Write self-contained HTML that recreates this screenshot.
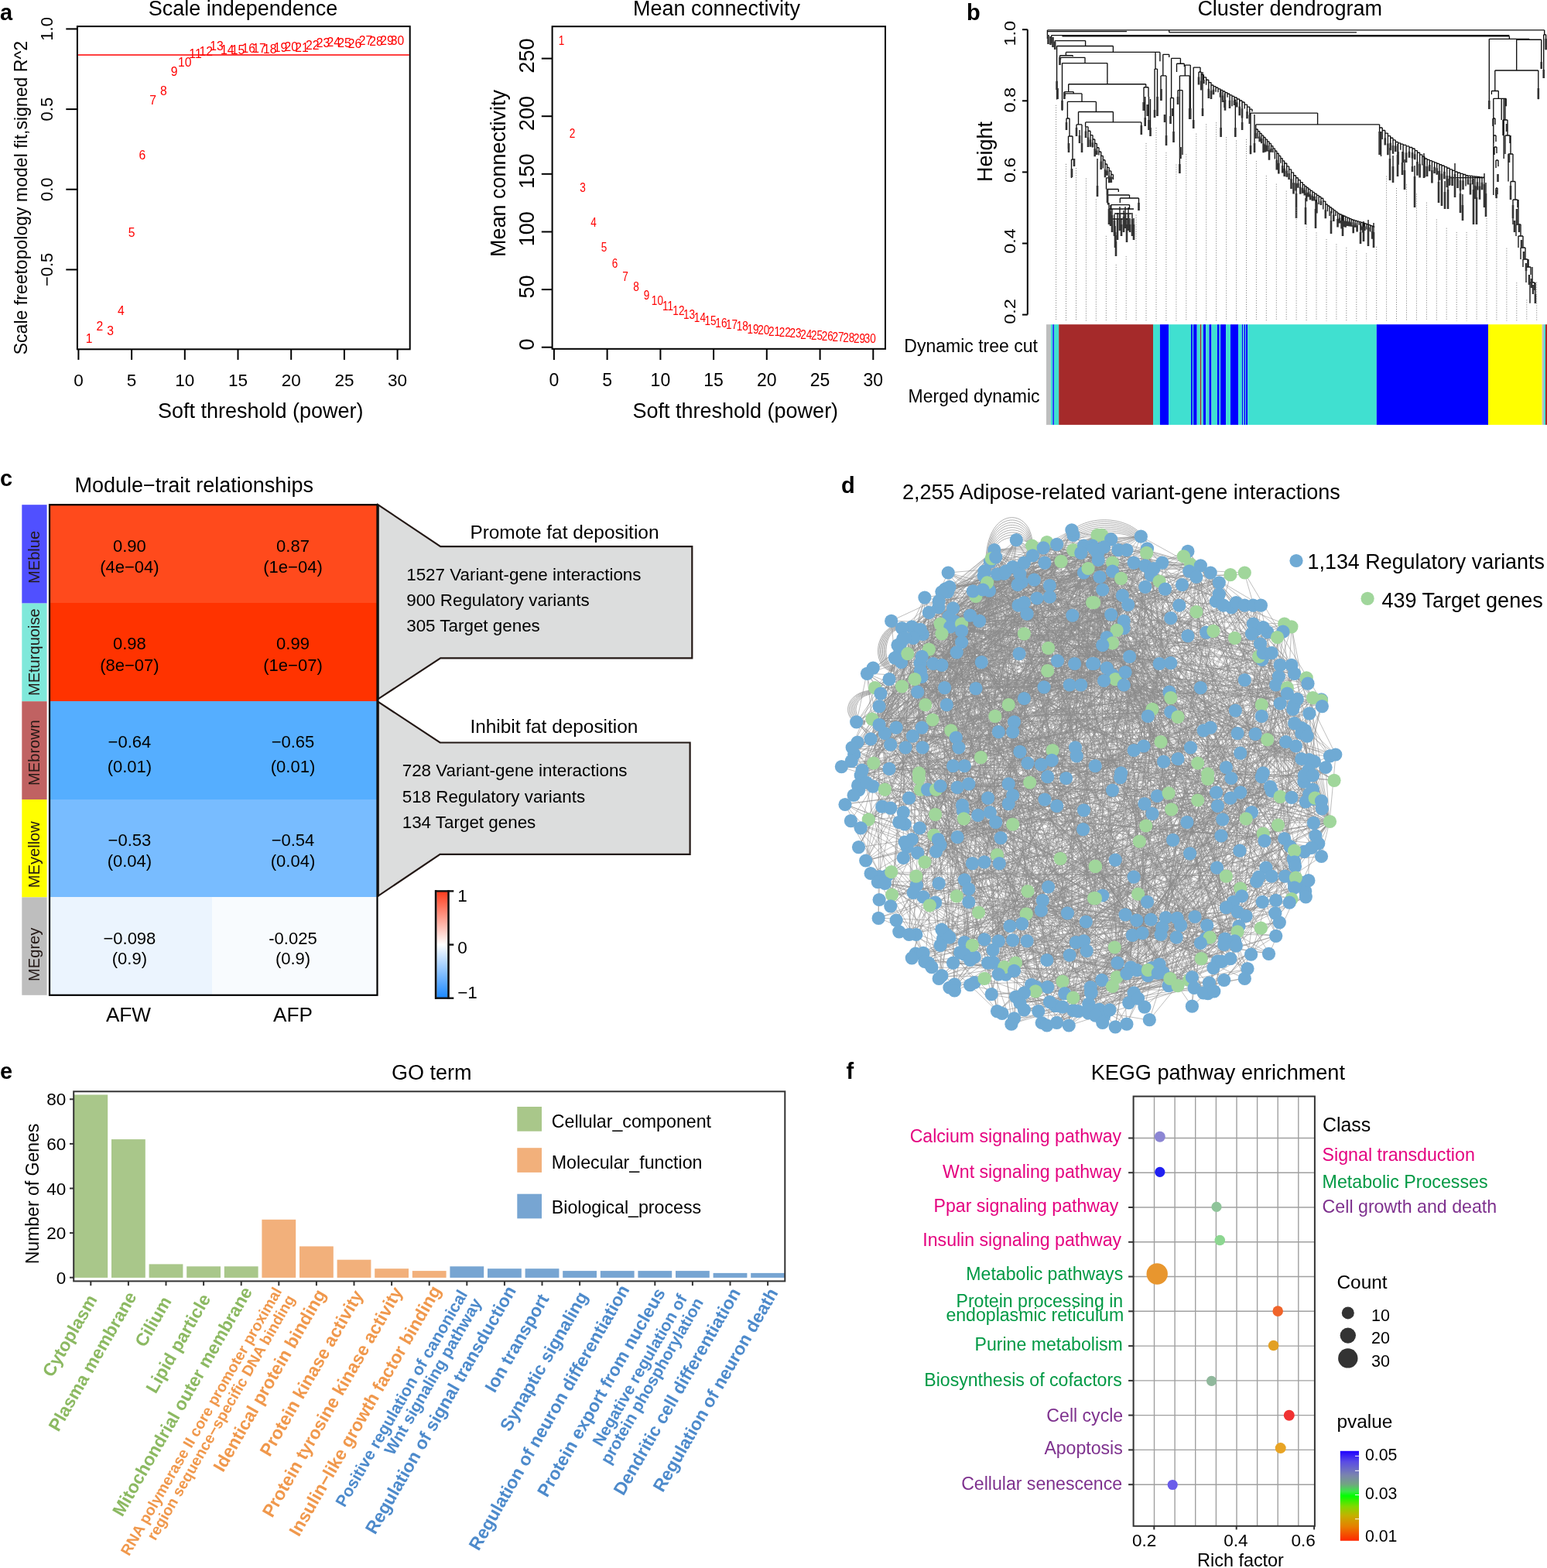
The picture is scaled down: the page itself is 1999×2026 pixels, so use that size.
<!DOCTYPE html>
<html><head><meta charset="utf-8"><title>Figure</title>
<style>html,body{margin:0;padding:0;background:#fff;}svg{display:block;}text{font-family:"Liberation Sans", Arial, sans-serif;}</style>
</head><body>
<svg xmlns="http://www.w3.org/2000/svg" width="1999" height="2026" viewBox="0 0 1999 2026">
<rect width="1999" height="2026" fill="#fff"/>
<text x="0.0" y="26.0" font-size="29" font-weight="bold">a</text>
<text x="314.0" y="20.0" font-size="27" text-anchor="middle">Scale independence</text>
<rect x="99.9" y="34.1" width="429.8" height="417.2" fill="none" stroke="#000" stroke-width="2"/>
<line x1="85.3" y1="37.4" x2="99.9" y2="37.4" stroke="#000" stroke-width="2"/>
<text transform="translate(68.3,37.4) rotate(-90)" font-size="22" text-anchor="middle">1.0</text>
<line x1="85.3" y1="141.1" x2="99.9" y2="141.1" stroke="#000" stroke-width="2"/>
<text transform="translate(68.3,141.1) rotate(-90)" font-size="22" text-anchor="middle">0.5</text>
<line x1="85.3" y1="244.7" x2="99.9" y2="244.7" stroke="#000" stroke-width="2"/>
<text transform="translate(68.3,244.7) rotate(-90)" font-size="22" text-anchor="middle">0.0</text>
<line x1="85.3" y1="348.4" x2="99.9" y2="348.4" stroke="#000" stroke-width="2"/>
<text transform="translate(68.3,348.4) rotate(-90)" font-size="22" text-anchor="middle">−0.5</text>
<line x1="101.4" y1="451.3" x2="101.4" y2="464.9" stroke="#000" stroke-width="2"/>
<text x="101.4" y="498.5" font-size="22.5" text-anchor="middle">0</text>
<line x1="170.1" y1="451.3" x2="170.1" y2="464.9" stroke="#000" stroke-width="2"/>
<text x="170.1" y="498.5" font-size="22.5" text-anchor="middle">5</text>
<line x1="238.8" y1="451.3" x2="238.8" y2="464.9" stroke="#000" stroke-width="2"/>
<text x="238.8" y="498.5" font-size="22.5" text-anchor="middle">10</text>
<line x1="307.5" y1="451.3" x2="307.5" y2="464.9" stroke="#000" stroke-width="2"/>
<text x="307.5" y="498.5" font-size="22.5" text-anchor="middle">15</text>
<line x1="376.2" y1="451.3" x2="376.2" y2="464.9" stroke="#000" stroke-width="2"/>
<text x="376.2" y="498.5" font-size="22.5" text-anchor="middle">20</text>
<line x1="444.9" y1="451.3" x2="444.9" y2="464.9" stroke="#000" stroke-width="2"/>
<text x="444.9" y="498.5" font-size="22.5" text-anchor="middle">25</text>
<line x1="513.6" y1="451.3" x2="513.6" y2="464.9" stroke="#000" stroke-width="2"/>
<text x="513.6" y="498.5" font-size="22.5" text-anchor="middle">30</text>
<text x="336.7" y="539.5" font-size="27" text-anchor="middle">Soft threshold (power)</text>
<text transform="translate(34.5,255.6) rotate(-90)" font-size="23.05" text-anchor="middle">Scale freetopology model fit,signed R^2</text>
<line x1="100.9" y1="71.1" x2="528.8" y2="71.1" stroke="#ff0000" stroke-width="1.5"/>
<text x="115.1" y="443.3" font-size="15.7" text-anchor="middle" fill="#ff0000">1</text>
<text x="128.9" y="426.6" font-size="15.7" text-anchor="middle" fill="#ff0000">2</text>
<text x="142.6" y="432.5" font-size="15.7" text-anchor="middle" fill="#ff0000">3</text>
<text x="156.4" y="407.2" font-size="15.7" text-anchor="middle" fill="#ff0000">4</text>
<text x="170.1" y="306.1" font-size="15.7" text-anchor="middle" fill="#ff0000">5</text>
<text x="183.8" y="206.2" font-size="15.7" text-anchor="middle" fill="#ff0000">6</text>
<text x="197.6" y="134.9" font-size="15.7" text-anchor="middle" fill="#ff0000">7</text>
<text x="211.3" y="122.5" font-size="15.7" text-anchor="middle" fill="#ff0000">8</text>
<text x="225.1" y="98.1" font-size="15.7" text-anchor="middle" fill="#ff0000">9</text>
<text x="238.8" y="86.4" font-size="15.7" text-anchor="middle" fill="#ff0000">10</text>
<text x="252.5" y="74.6" font-size="15.7" text-anchor="middle" fill="#ff0000">11</text>
<text x="266.3" y="72.3" font-size="15.7" text-anchor="middle" fill="#ff0000">12</text>
<text x="280.0" y="65.2" font-size="15.7" text-anchor="middle" fill="#ff0000">13</text>
<text x="293.8" y="70.2" font-size="15.7" text-anchor="middle" fill="#ff0000">14</text>
<text x="307.5" y="70.2" font-size="15.7" text-anchor="middle" fill="#ff0000">15</text>
<text x="321.2" y="68.2" font-size="15.7" text-anchor="middle" fill="#ff0000">16</text>
<text x="335.0" y="68.2" font-size="15.7" text-anchor="middle" fill="#ff0000">17</text>
<text x="348.7" y="68.8" font-size="15.7" text-anchor="middle" fill="#ff0000">18</text>
<text x="362.5" y="66.7" font-size="15.7" text-anchor="middle" fill="#ff0000">19</text>
<text x="376.2" y="65.8" font-size="15.7" text-anchor="middle" fill="#ff0000">20</text>
<text x="389.9" y="67.3" font-size="15.7" text-anchor="middle" fill="#ff0000">21</text>
<text x="403.7" y="63.8" font-size="15.7" text-anchor="middle" fill="#ff0000">22</text>
<text x="417.4" y="61.4" font-size="15.7" text-anchor="middle" fill="#ff0000">23</text>
<text x="431.2" y="59.9" font-size="15.7" text-anchor="middle" fill="#ff0000">24</text>
<text x="444.9" y="61.4" font-size="15.7" text-anchor="middle" fill="#ff0000">25</text>
<text x="458.6" y="62.3" font-size="15.7" text-anchor="middle" fill="#ff0000">26</text>
<text x="472.4" y="57.9" font-size="15.7" text-anchor="middle" fill="#ff0000">27</text>
<text x="486.1" y="59.4" font-size="15.7" text-anchor="middle" fill="#ff0000">28</text>
<text x="499.9" y="57.9" font-size="15.7" text-anchor="middle" fill="#ff0000">29</text>
<text x="513.6" y="57.9" font-size="15.7" text-anchor="middle" fill="#ff0000">30</text>
<text x="926.0" y="20.0" font-size="27" text-anchor="middle">Mean connectivity</text>
<rect x="713.6" y="34.2" width="430.4" height="416.6" fill="none" stroke="#000" stroke-width="2"/>
<line x1="699.8" y1="448.7" x2="713.6" y2="448.7" stroke="#000" stroke-width="2"/>
<text transform="translate(690.3,445.0) rotate(-90)" font-size="27" text-anchor="middle">0</text>
<line x1="699.8" y1="374.1" x2="713.6" y2="374.1" stroke="#000" stroke-width="2"/>
<text transform="translate(690.3,370.4) rotate(-90)" font-size="27" text-anchor="middle">50</text>
<line x1="699.8" y1="299.5" x2="713.6" y2="299.5" stroke="#000" stroke-width="2"/>
<text transform="translate(690.3,295.8) rotate(-90)" font-size="27" text-anchor="middle">100</text>
<line x1="699.8" y1="224.8" x2="713.6" y2="224.8" stroke="#000" stroke-width="2"/>
<text transform="translate(690.3,221.1) rotate(-90)" font-size="27" text-anchor="middle">150</text>
<line x1="699.8" y1="150.2" x2="713.6" y2="150.2" stroke="#000" stroke-width="2"/>
<text transform="translate(690.3,146.5) rotate(-90)" font-size="27" text-anchor="middle">200</text>
<line x1="699.8" y1="75.6" x2="713.6" y2="75.6" stroke="#000" stroke-width="2"/>
<text transform="translate(690.3,71.9) rotate(-90)" font-size="27" text-anchor="middle">250</text>
<line x1="715.9" y1="450.9" x2="715.9" y2="465.0" stroke="#000" stroke-width="2"/>
<text x="715.9" y="498.8" font-size="23" text-anchor="middle">0</text>
<line x1="784.6" y1="450.9" x2="784.6" y2="465.0" stroke="#000" stroke-width="2"/>
<text x="784.6" y="498.8" font-size="23" text-anchor="middle">5</text>
<line x1="853.4" y1="450.9" x2="853.4" y2="465.0" stroke="#000" stroke-width="2"/>
<text x="853.4" y="498.8" font-size="23" text-anchor="middle">10</text>
<line x1="922.1" y1="450.9" x2="922.1" y2="465.0" stroke="#000" stroke-width="2"/>
<text x="922.1" y="498.8" font-size="23" text-anchor="middle">15</text>
<line x1="990.8" y1="450.9" x2="990.8" y2="465.0" stroke="#000" stroke-width="2"/>
<text x="990.8" y="498.8" font-size="23" text-anchor="middle">20</text>
<line x1="1059.6" y1="450.9" x2="1059.6" y2="465.0" stroke="#000" stroke-width="2"/>
<text x="1059.6" y="498.8" font-size="23" text-anchor="middle">25</text>
<line x1="1128.3" y1="450.9" x2="1128.3" y2="465.0" stroke="#000" stroke-width="2"/>
<text x="1128.3" y="498.8" font-size="23" text-anchor="middle">30</text>
<text x="950.3" y="540.0" font-size="27" text-anchor="middle">Soft threshold (power)</text>
<text transform="translate(653.0,224.0) rotate(-90)" font-size="27" text-anchor="middle">Mean connectivity</text>
<text transform="translate(725.6,57.5) scale(0.86,1)" font-size="15.8" text-anchor="middle" fill="#ff0000">1</text>
<text transform="translate(739.4,178.1) scale(0.86,1)" font-size="15.8" text-anchor="middle" fill="#ff0000">2</text>
<text transform="translate(753.1,248.0) scale(0.86,1)" font-size="15.8" text-anchor="middle" fill="#ff0000">3</text>
<text transform="translate(766.9,293.0) scale(0.86,1)" font-size="15.8" text-anchor="middle" fill="#ff0000">4</text>
<text transform="translate(780.6,324.5) scale(0.86,1)" font-size="15.8" text-anchor="middle" fill="#ff0000">5</text>
<text transform="translate(794.4,346.2) scale(0.86,1)" font-size="15.8" text-anchor="middle" fill="#ff0000">6</text>
<text transform="translate(808.1,362.9) scale(0.86,1)" font-size="15.8" text-anchor="middle" fill="#ff0000">7</text>
<text transform="translate(821.9,376.4) scale(0.86,1)" font-size="15.8" text-anchor="middle" fill="#ff0000">8</text>
<text transform="translate(835.6,386.5) scale(0.86,1)" font-size="15.8" text-anchor="middle" fill="#ff0000">9</text>
<text transform="translate(849.4,394.4) scale(0.86,1)" font-size="15.8" text-anchor="middle" fill="#ff0000">10</text>
<text transform="translate(863.1,400.7) scale(0.86,1)" font-size="15.8" text-anchor="middle" fill="#ff0000">11</text>
<text transform="translate(876.9,407.0) scale(0.86,1)" font-size="15.8" text-anchor="middle" fill="#ff0000">12</text>
<text transform="translate(890.6,412.3) scale(0.86,1)" font-size="15.8" text-anchor="middle" fill="#ff0000">13</text>
<text transform="translate(904.4,416.4) scale(0.86,1)" font-size="15.8" text-anchor="middle" fill="#ff0000">14</text>
<text transform="translate(918.1,419.6) scale(0.86,1)" font-size="15.8" text-anchor="middle" fill="#ff0000">15</text>
<text transform="translate(931.9,422.7) scale(0.86,1)" font-size="15.8" text-anchor="middle" fill="#ff0000">16</text>
<text transform="translate(945.6,425.2) scale(0.86,1)" font-size="15.8" text-anchor="middle" fill="#ff0000">17</text>
<text transform="translate(959.3,427.4) scale(0.86,1)" font-size="15.8" text-anchor="middle" fill="#ff0000">18</text>
<text transform="translate(973.1,430.6) scale(0.86,1)" font-size="15.8" text-anchor="middle" fill="#ff0000">19</text>
<text transform="translate(986.8,432.1) scale(0.86,1)" font-size="15.8" text-anchor="middle" fill="#ff0000">20</text>
<text transform="translate(1000.6,433.7) scale(0.86,1)" font-size="15.8" text-anchor="middle" fill="#ff0000">21</text>
<text transform="translate(1014.3,434.7) scale(0.86,1)" font-size="15.8" text-anchor="middle" fill="#ff0000">22</text>
<text transform="translate(1028.1,436.2) scale(0.86,1)" font-size="15.8" text-anchor="middle" fill="#ff0000">23</text>
<text transform="translate(1041.8,437.8) scale(0.86,1)" font-size="15.8" text-anchor="middle" fill="#ff0000">24</text>
<text transform="translate(1055.6,438.8) scale(0.86,1)" font-size="15.8" text-anchor="middle" fill="#ff0000">25</text>
<text transform="translate(1069.3,440.0) scale(0.86,1)" font-size="15.8" text-anchor="middle" fill="#ff0000">26</text>
<text transform="translate(1083.1,441.0) scale(0.86,1)" font-size="15.8" text-anchor="middle" fill="#ff0000">27</text>
<text transform="translate(1096.8,441.6) scale(0.86,1)" font-size="15.8" text-anchor="middle" fill="#ff0000">28</text>
<text transform="translate(1110.6,442.5) scale(0.86,1)" font-size="15.8" text-anchor="middle" fill="#ff0000">29</text>
<text transform="translate(1124.3,443.2) scale(0.86,1)" font-size="15.8" text-anchor="middle" fill="#ff0000">30</text>
<text x="1249.0" y="26.0" font-size="29" font-weight="bold">b</text>
<text x="1666.7" y="20.0" font-size="27" text-anchor="middle">Cluster dendrogram</text>
<line x1="1327.8" y1="38.2" x2="1327.8" y2="406.6" stroke="#000" stroke-width="2"/>
<line x1="1321.0" y1="38.2" x2="1327.8" y2="38.2" stroke="#000" stroke-width="2"/>
<text transform="translate(1312.1,43.3) rotate(-90) scale(1,0.87)" font-size="23.5" text-anchor="middle">1.0</text>
<line x1="1321.0" y1="130.3" x2="1327.8" y2="130.3" stroke="#000" stroke-width="2"/>
<text transform="translate(1312.1,129.2) rotate(-90) scale(1,0.87)" font-size="23.5" text-anchor="middle">0.8</text>
<line x1="1321.0" y1="222.4" x2="1327.8" y2="222.4" stroke="#000" stroke-width="2"/>
<text transform="translate(1312.1,219.8) rotate(-90) scale(1,0.87)" font-size="23.5" text-anchor="middle">0.6</text>
<line x1="1321.0" y1="314.5" x2="1327.8" y2="314.5" stroke="#000" stroke-width="2"/>
<text transform="translate(1312.1,311.4) rotate(-90) scale(1,0.87)" font-size="23.5" text-anchor="middle">0.4</text>
<line x1="1321.0" y1="406.6" x2="1327.8" y2="406.6" stroke="#000" stroke-width="2"/>
<text transform="translate(1312.1,402.5) rotate(-90) scale(1,0.87)" font-size="23.5" text-anchor="middle">0.2</text>
<text transform="translate(1282.3,196.0) rotate(-90)" font-size="27" text-anchor="middle">Height</text>
<text x="1340.9" y="454.9" font-size="23" text-anchor="end">Dynamic tree cut</text>
<text x="1343.6" y="519.6" font-size="23" text-anchor="end">Merged dynamic</text>
<rect x="1352.0" y="419.2" width="5.7" height="129.7" fill="#BEBEBE"/>
<rect x="1357.7" y="419.2" width="2.7" height="129.7" fill="#40E0D0"/>
<rect x="1360.4" y="419.2" width="1.5" height="129.7" fill="#0000FF"/>
<rect x="1361.9" y="419.2" width="6.3" height="129.7" fill="#40E0D0"/>
<rect x="1368.2" y="419.2" width="121.8" height="129.7" fill="#A52A2A"/>
<rect x="1490.0" y="419.2" width="8.9" height="129.7" fill="#40E0D0"/>
<rect x="1498.9" y="419.2" width="11.2" height="129.7" fill="#0000FF"/>
<rect x="1510.1" y="419.2" width="28.9" height="129.7" fill="#40E0D0"/>
<rect x="1539.0" y="419.2" width="1.9" height="129.7" fill="#0000FF"/>
<rect x="1540.9" y="419.2" width="1.2" height="129.7" fill="#40E0D0"/>
<rect x="1542.1" y="419.2" width="4.6" height="129.7" fill="#0000FF"/>
<rect x="1546.7" y="419.2" width="4.2" height="129.7" fill="#40E0D0"/>
<rect x="1550.9" y="419.2" width="1.5" height="129.7" fill="#A52A2A"/>
<rect x="1552.4" y="419.2" width="2.5" height="129.7" fill="#40E0D0"/>
<rect x="1554.9" y="419.2" width="3.3" height="129.7" fill="#0000FF"/>
<rect x="1558.2" y="419.2" width="4.3" height="129.7" fill="#40E0D0"/>
<rect x="1562.5" y="419.2" width="3.0" height="129.7" fill="#0000FF"/>
<rect x="1565.5" y="419.2" width="7.4" height="129.7" fill="#40E0D0"/>
<rect x="1572.9" y="419.2" width="2.8" height="129.7" fill="#0000FF"/>
<rect x="1575.7" y="419.2" width="1.4" height="129.7" fill="#40E0D0"/>
<rect x="1577.1" y="419.2" width="7.0" height="129.7" fill="#0000FF"/>
<rect x="1584.1" y="419.2" width="5.9" height="129.7" fill="#40E0D0"/>
<rect x="1590.0" y="419.2" width="10.1" height="129.7" fill="#0000FF"/>
<rect x="1600.1" y="419.2" width="4.8" height="129.7" fill="#40E0D0"/>
<rect x="1604.9" y="419.2" width="1.3" height="129.7" fill="#0000FF"/>
<rect x="1606.2" y="419.2" width="1.3" height="129.7" fill="#40E0D0"/>
<rect x="1607.5" y="419.2" width="1.6" height="129.7" fill="#0000FF"/>
<rect x="1609.1" y="419.2" width="1.0" height="129.7" fill="#40E0D0"/>
<rect x="1610.1" y="419.2" width="2.1" height="129.7" fill="#0000FF"/>
<rect x="1612.2" y="419.2" width="166.6" height="129.7" fill="#40E0D0"/>
<rect x="1778.8" y="419.2" width="144.2" height="129.7" fill="#0000FF"/>
<rect x="1923.0" y="419.2" width="69.6" height="129.7" fill="#FFFF00"/>
<rect x="1992.6" y="419.2" width="2.5" height="129.7" fill="#BEBEBE"/>
<rect x="1995.1" y="419.2" width="1.9" height="129.7" fill="#40E0D0"/>
<rect x="1997.0" y="419.2" width="2.5" height="129.7" fill="#A52A2A"/>
<path d="M1353.4 38.9H1995.7M1353.4 40.6H1456.0M1510.7 41.8H1753.0M1510.7 38.9V41.8M1358.7 45.6H1950.4M1372.5 46.8H1950.4M1353.4 38.9V50.0M1358.7 45.6V56.0M1950.4 46.8V50.3M1363.2 52.6H1402.6M1363.2 52.6V62.0M1402.6 52.6V59.5M1365.6 59.5H1438.4M1365.6 59.5V128.4M1438.4 59.5V67.4M1377.4 67.4H1498.9M1377.4 67.4V71.7M1369.5 71.7H1386.3M1369.5 71.7V84.0M1386.3 71.7V73.0M1370.5 74.3H1402.0M1370.5 74.3V77.0M1402.0 74.3V81.6M1372.5 81.6H1430.9M1372.5 81.6V143.0M1430.9 81.6V108.7M1380.7 108.7H1480.7M1380.7 108.7V118.6M1480.7 108.7V112.7M1478.0 112.7H1484.0M1478.0 112.7V140.0M1484.0 112.7V125.0M1479.7 125.0V163.0M1484.5 125.0V168.0M1486.5 128.0V176.0M1375.4 118.6H1387.2M1375.4 118.6V128.0M1387.2 118.6V120.9M1376.4 120.9H1398.0M1376.4 120.9V124.0M1398.0 120.9V131.4M1379.4 131.4H1416.4M1379.4 131.4V153.0M1416.4 131.4V144.5M1393.5 144.5H1438.4M1393.5 144.5V160.9M1438.4 144.5V157.9M1402.6 157.9H1474.8M1402.6 157.9V163.8M1474.8 157.9V173.7M1378.0 153.0H1382.0M1378.0 153.0V168.0M1382.0 153.0V160.0M1382.0 160.0V176.0M1380.5 176.0H1386.0M1380.5 176.0V192.0M1386.0 176.0V182.0M1386.0 182.0V206.0M1384.5 206.0H1388.0M1384.5 206.0V230.0M1388.0 206.0V215.0M1391.0 160.9H1398.0M1391.0 160.9V176.0M1398.0 160.9V168.0M1395.0 168.0V185.0M1398.0 168.0V197.0M1403.0 163.8H1406.0M1406.0 163.8V169.2M1403.0 163.8V171.0M1406.0 169.2H1409.0M1409.0 169.2V174.6M1406.0 169.2V179.7M1409.0 174.6H1412.0M1412.0 174.6V180.0M1409.0 174.6V182.2M1412.0 180.0H1414.7M1414.7 180.0V185.3M1412.0 180.0V185.3M1414.7 185.3H1417.3M1417.3 185.3V190.7M1414.7 185.3V193.7M1417.3 190.7H1420.0M1420.0 190.7V196.0M1417.3 190.7V195.3M1420.0 196.0H1422.7M1422.7 196.0V201.3M1420.0 196.0V200.6M1422.7 201.3H1425.3M1425.3 201.3V206.7M1422.7 201.3V210.2M1425.3 206.7H1428.0M1428.0 206.7V212.0M1425.3 206.7V217.5M1428.0 212.0H1430.6M1430.6 212.0V216.4M1428.0 212.0V220.6M1430.6 216.4H1433.2M1433.2 216.4V220.9M1430.6 216.4V221.6M1433.2 220.9H1435.8M1435.8 220.9V225.4M1433.2 220.9V228.6M1435.8 225.4H1438.4M1438.4 225.4V229.8M1435.8 225.4V230.7M1418.0 205.0V254.0M1429.5 229.8H1438.4M1429.5 229.8V244.5M1438.4 229.8V232.0M1430.5 244.5H1445.3M1430.5 244.5V252.0M1445.3 244.5V248.0M1431.5 252.0H1459.5M1431.5 252.0V264.6M1459.5 252.0V256.0M1447.3 256.0H1471.5M1447.3 256.0V262.0M1471.5 256.0V272.0M1435.8 264.6H1459.5M1435.8 264.6V270.0M1459.5 264.6V270.0M1433.0 262.0V270.0M1435.0 265.0V273.0M1437.0 270.0V278.0M1440.0 277.0V285.0M1441.0 292.0V300.0M1442.0 304.0V312.0M1444.0 275.0V283.0M1447.0 267.0V275.0M1449.0 282.0V290.0M1452.0 272.0V280.0M1454.0 267.0V275.0M1456.0 282.0V290.0M1458.0 268.0V276.0M1460.0 282.0V290.0M1463.0 275.0V283.0M1465.0 282.0V290.0M1433.0 270.0H1465.0M1440.0 276.0H1462.0M1436.0 283.0H1458.0M1493.0 67.4V89.1M1492.0 89.1H1495.5M1492.0 89.1V152.0M1495.5 89.1V150.0M1498.9 67.4V79.2M1502.8 70.3H1510.7M1502.8 70.3V97.9M1510.7 70.3V74.0M1513.6 75.3H1525.4M1513.6 75.3V126.5M1525.4 75.3V82.2M1520.5 82.2H1530.3M1520.5 82.2V93.0M1530.3 82.2V86.0M1531.3 84.1H1538.2M1531.3 84.1V97.9M1538.2 84.1V154.0M1542.2 87.1H1551.0M1542.2 87.1V165.8M1551.0 87.1V93.0M1500.0 97.9H1507.0M1500.0 97.9V130.0M1507.0 97.9V187.5M1512.5 126.5H1516.5M1512.5 126.5V160.0M1516.5 126.5V183.5M1524.4 97.9H1537.2M1524.4 97.9V223.9M1537.2 97.9V154.0M1522.0 116.6H1528.0M1522.0 116.6V135.0M1528.0 116.6V200.0M1554.0 93.0V150.0M1549.0 93.0H1552.2M1552.2 93.0V96.4M1549.0 93.0V101.3M1552.2 96.4H1555.4M1555.4 96.4V99.8M1552.2 96.4V106.4M1555.4 99.8H1558.6M1558.6 99.8V103.2M1555.4 99.8V103.9M1558.6 103.2H1561.8M1561.8 103.2V106.6M1558.6 103.2V109.7M1561.8 106.6H1565.0M1565.0 106.6V110.0M1561.8 106.6V116.8M1565.0 110.0H1568.0M1568.0 110.0V111.6M1565.0 110.0V119.0M1568.0 111.6H1571.0M1571.0 111.6V113.2M1568.0 111.6V116.9M1571.0 113.2H1574.0M1574.0 113.2V114.8M1571.0 113.2V118.7M1574.0 114.8H1577.0M1577.0 114.8V116.4M1574.0 114.8V119.3M1577.0 116.4H1580.0M1580.0 116.4V118.0M1577.0 116.4V121.1M1580.0 118.0H1583.0M1583.0 118.0V119.6M1580.0 118.0V125.0M1583.0 119.6H1586.0M1586.0 119.6V121.2M1583.0 119.6V131.2M1586.0 121.2H1589.0M1589.0 121.2V122.8M1586.0 121.2V125.7M1589.0 122.8H1592.0M1592.0 122.8V124.4M1589.0 122.8V131.4M1592.0 124.4H1595.0M1595.0 124.4V126.0M1592.0 124.4V137.3M1595.0 126.0H1598.3M1598.3 126.0V128.0M1595.0 126.0V131.0M1598.3 128.0H1601.7M1601.7 128.0V130.0M1598.3 128.0V133.2M1601.7 130.0H1605.0M1605.0 130.0V132.0M1601.7 130.0V139.6M1605.0 132.0H1608.2M1608.2 132.0V135.1M1605.0 132.0V142.3M1608.2 135.1H1611.5M1611.5 135.1V138.1M1608.2 135.1V140.6M1611.5 138.1H1614.8M1614.8 138.1V141.1M1611.5 138.1V145.7M1614.8 141.1H1618.0M1618.0 141.1V144.2M1614.8 141.1V150.5M1577.6 116.6V176.6M1582.5 120.5V139.2M1596.3 128.4V176.6M1605.1 132.3V167.8M1616.0 146.1H1702.6M1622.8 160.9H1782.6M1702.6 146.1V160.9M1616.0 146.1V199.3M1621.0 148.0V197.3M1622.8 160.9V167.0M1622.8 167.0H1625.3M1625.3 167.0V169.6M1622.8 167.0V173.1M1625.3 169.6H1627.7M1627.7 169.6V172.3M1625.3 169.6V179.1M1627.7 172.3H1630.2M1630.2 172.3V174.9M1627.7 172.3V177.7M1630.2 174.9H1632.6M1632.6 174.9V177.5M1630.2 174.9V180.1M1632.6 177.5H1635.1M1635.1 177.5V180.1M1632.6 177.5V187.4M1635.1 180.1H1637.5M1637.5 180.1V182.8M1635.1 180.1V188.4M1637.5 182.8H1640.0M1640.0 182.8V185.4M1637.5 182.8V189.1M1640.0 185.4H1642.5M1642.5 185.4V188.6M1640.0 185.4V196.1M1642.5 188.6H1644.9M1644.9 188.6V191.8M1642.5 188.6V192.7M1644.9 191.8H1647.4M1647.4 191.8V195.0M1644.9 191.8V197.0M1647.4 195.0H1649.8M1649.8 195.0V198.2M1647.4 195.0V205.5M1649.8 198.2H1652.3M1652.3 198.2V201.4M1649.8 198.2V208.8M1652.3 201.4H1654.8M1654.8 201.4V204.6M1652.3 201.4V213.0M1654.8 204.6H1657.2M1657.2 204.6V207.8M1654.8 204.6V210.7M1657.2 207.8H1659.7M1659.7 207.8V211.0M1657.2 207.8V215.7M1659.7 211.0H1662.7M1662.7 211.0V214.9M1659.7 211.0V219.5M1662.7 214.9H1665.6M1665.6 214.9V218.8M1662.7 214.9V221.8M1665.6 218.8H1668.5M1668.5 218.8V222.8M1665.6 218.8V225.4M1668.5 222.8H1671.5M1671.5 222.8V226.7M1668.5 222.8V233.3M1671.5 226.7H1674.5M1674.5 226.7V229.7M1671.5 226.7V238.6M1674.5 229.7H1677.4M1677.4 229.7V232.6M1674.5 229.7V238.1M1677.4 232.6H1680.3M1680.3 232.6V235.6M1677.4 232.6V237.7M1680.3 235.6H1683.3M1683.3 235.6V238.6M1680.3 235.6V243.2M1683.3 238.6H1685.8M1685.8 238.6V240.6M1683.3 238.6V244.2M1685.8 240.6H1688.2M1688.2 240.6V242.5M1685.8 240.6V246.6M1688.2 242.5H1690.6M1690.6 242.5V244.4M1688.2 242.5V251.3M1690.6 244.4H1693.1M1693.1 244.4V246.4M1690.6 244.4V249.5M1693.1 246.4H1695.9M1695.9 246.4V248.4M1693.1 246.4V252.3M1695.9 248.4H1698.6M1698.6 248.4V250.3M1695.9 248.4V253.9M1698.6 250.3H1701.4M1701.4 250.3V252.3M1698.6 250.3V254.9M1701.4 252.3H1704.1M1704.1 252.3V254.2M1701.4 252.3V263.9M1704.1 254.2H1706.9M1706.9 254.2V256.2M1704.1 254.2V264.0M1706.9 256.2H1709.8M1709.8 256.2V260.1M1706.9 256.2V260.5M1709.8 260.1H1712.8M1712.8 260.1V264.0M1709.8 260.1V270.5M1712.8 264.0H1715.4M1715.4 264.0V266.0M1712.8 264.0V273.1M1715.4 266.0H1718.0M1718.0 266.0V268.0M1715.4 266.0V273.3M1718.0 268.0H1720.7M1720.7 268.0V269.9M1718.0 268.0V279.1M1720.7 269.9H1723.3M1723.3 269.9V271.9M1720.7 269.9V275.6M1723.3 271.9H1725.9M1725.9 271.9V273.9M1723.3 271.9V278.9M1725.9 273.9H1728.5M1728.5 273.9V275.9M1725.9 273.9V279.0M1728.5 275.9H1731.0M1731.0 275.9V277.0M1728.5 275.9V284.7M1731.0 277.0H1733.6M1733.6 277.0V278.1M1731.0 277.0V282.7M1733.6 278.1H1736.1M1736.1 278.1V279.2M1733.6 278.1V286.8M1736.1 279.2H1738.6M1738.6 279.2V280.4M1736.1 279.2V286.1M1738.6 280.4H1741.1M1741.1 280.4V281.5M1738.6 280.4V287.1M1741.1 281.5H1743.7M1743.7 281.5V282.6M1741.1 281.5V286.8M1743.7 282.6H1746.2M1746.2 282.6V283.7M1743.7 282.6V287.5M1746.2 283.7H1748.7M1748.7 283.7V284.4M1746.2 283.7V288.3M1748.7 284.4H1751.1M1751.1 284.4V285.2M1748.7 284.4V292.9M1751.1 285.2H1753.6M1753.6 285.2V285.9M1751.1 285.2V289.5M1753.6 285.9H1756.1M1756.1 285.9V286.6M1753.6 285.9V292.7M1756.1 286.6H1758.5M1758.5 286.6V287.4M1756.1 286.6V290.7M1758.5 287.4H1761.0M1761.0 287.4V288.1M1758.5 287.4V292.4M1761.0 288.1H1763.4M1763.4 288.1V288.9M1761.0 288.1V294.3M1763.4 288.9H1765.9M1765.9 288.9V289.6M1763.4 288.9V293.5M1765.9 289.6H1768.4M1768.4 289.6V290.6M1765.9 289.6V296.5M1768.4 290.6H1770.8M1770.8 290.6V291.6M1768.4 290.6V294.6M1770.8 291.6H1773.2M1773.2 291.6V292.5M1770.8 291.6V299.5M1773.2 292.5H1775.7M1775.7 292.5V293.5M1773.2 292.5V300.7M1675.0 238.0V250.0M1687.0 256.0V268.0M1700.0 258.0V270.0M1720.0 273.0V285.0M1735.0 278.0V290.0M1758.0 288.0V300.0M1768.0 284.0V296.0M1775.0 288.0V300.0M1762.0 286.0V298.0M1782.6 160.8V172.0M1784.5 170.0V202.0M1782.6 165.0H1786.2M1786.2 165.0V168.5M1782.6 165.0V171.1M1786.2 168.5H1789.8M1789.8 168.5V172.1M1786.2 168.5V180.1M1789.8 172.1H1793.4M1793.4 172.1V175.6M1789.8 172.1V179.8M1793.4 175.6H1796.7M1796.7 175.6V178.2M1793.4 175.6V187.9M1796.7 178.2H1800.0M1800.0 178.2V180.9M1796.7 178.2V186.3M1800.0 180.9H1803.3M1803.3 180.9V183.5M1800.0 180.9V189.8M1803.3 183.5H1806.6M1806.6 183.5V184.8M1803.3 183.5V189.7M1806.6 184.8H1809.8M1809.8 184.8V186.1M1806.6 184.8V198.8M1809.8 186.1H1813.1M1813.1 186.1V187.4M1809.8 186.1V193.7M1813.1 187.4H1817.1M1817.1 187.4V188.9M1813.1 187.4V198.7M1817.1 188.9H1821.0M1821.0 188.9V190.5M1817.1 188.9V199.4M1821.0 190.5H1825.0M1825.0 190.5V192.0M1821.0 190.5V197.1M1825.0 192.0H1828.2M1828.2 192.0V194.6M1825.0 192.0V198.2M1828.2 194.6H1831.4M1831.4 194.6V197.2M1828.2 194.6V200.4M1831.4 197.2H1834.6M1834.6 197.2V199.8M1831.4 197.2V212.0M1834.6 199.8H1837.8M1837.8 199.8V202.4M1834.6 199.8V214.7M1837.8 202.4H1841.0M1841.0 202.4V205.0M1837.8 202.4V213.5M1841.0 205.0H1844.1M1844.1 205.0V206.3M1841.0 205.0V216.9M1844.1 206.3H1847.3M1847.3 206.3V207.6M1844.1 206.3V217.2M1847.3 207.6H1850.4M1850.4 207.6V208.9M1847.3 207.6V214.4M1850.4 208.9H1853.6M1853.6 208.9V210.1M1850.4 208.9V222.6M1853.6 210.1H1856.7M1856.7 210.1V211.4M1853.6 210.1V217.1M1856.7 211.4H1859.9M1859.9 211.4V212.7M1856.7 211.4V218.6M1859.9 212.7H1863.0M1863.0 212.7V214.0M1859.9 212.7V222.7M1863.0 214.0H1866.4M1866.4 214.0V215.6M1863.0 214.0V227.2M1866.4 215.6H1869.8M1869.8 215.6V217.2M1866.4 215.6V223.4M1869.8 217.2H1873.2M1873.2 217.2V218.8M1869.8 217.2V229.6M1873.2 218.8H1876.6M1876.6 218.8V220.4M1873.2 218.8V229.1M1876.6 220.4H1880.0M1880.0 220.4V222.0M1876.6 220.4V230.2M1880.0 222.0H1883.5M1883.5 222.0V223.2M1880.0 222.0V232.3M1883.5 223.2H1887.0M1887.0 223.2V224.3M1883.5 223.2V233.0M1887.0 224.3H1890.5M1890.5 224.3V225.5M1887.0 224.3V235.3M1890.5 225.5H1894.0M1894.0 225.5V226.7M1890.5 225.5V235.3M1894.0 226.7H1897.0M1897.0 226.7V227.1M1894.0 226.7V240.4M1897.0 227.1H1900.0M1900.0 227.1V227.4M1897.0 227.1V232.7M1900.0 227.4H1903.0M1903.0 227.4V227.8M1900.0 227.4V239.5M1903.0 227.8H1906.0M1906.0 227.8V228.1M1903.0 227.8V233.0M1906.0 228.1H1909.0M1909.0 228.1V228.5M1906.0 228.1V242.6M1909.0 228.5H1912.0M1912.0 228.5V228.9M1909.0 228.5V237.0M1912.0 228.9H1915.0M1915.0 228.9V229.2M1912.0 228.9V243.3M1915.0 229.2H1918.0M1918.0 229.2V229.6M1915.0 229.2V237.3M1796.0 191.0V205.0M1800.0 201.0V215.0M1806.0 186.0V200.0M1812.0 196.0V210.0M1825.0 201.0V215.0M1840.0 198.0V212.0M1859.0 221.0V235.0M1863.0 226.0V240.0M1867.0 234.0V248.0M1871.0 231.0V245.0M1880.0 211.0V225.0M1887.0 236.0V250.0M1890.0 251.0V265.0M1904.0 231.0V245.0M1908.0 241.0V255.0M1918.0 224.0V238.0M1920.0 236.0V250.0M1815.0 206.0V220.0M1828.0 214.0V228.0M1872.8 229.6H1918.0M1872.8 229.6V240.0M1918.0 229.6V236.0M1924.3 50.3H1976.0M1924.3 50.3V140.1M1976.0 50.3V51.2M1959.3 51.2H1991.7M1959.7 51.2V91.0M1931.8 91.0H1987.8M1931.8 91.0V117.5M1987.8 91.0V128.3M1991.7 51.2V89.0M1995.7 38.9V44.7M1994.7 44.7H1997.6M1994.7 44.7V100.8M1997.6 44.7V64.4M1927.4 117.5H1936.3M1927.4 117.5V122.0M1936.3 117.5V127.3M1929.8 127.3H1943.2M1929.8 127.3V252.0M1943.2 127.3V205.0M1929.0 153.0H1932.0M1929.0 153.0V163.0M1932.0 153.0V161.0M1930.0 175.0H1933.0M1930.0 175.0V185.0M1933.0 175.0V183.0M1931.0 190.0H1934.0M1931.0 190.0V200.0M1934.0 190.0V198.0M1933.0 207.0H1936.0M1933.0 207.0V217.0M1936.0 207.0V215.0M1933.0 243.0H1935.0M1933.0 243.0V253.0M1935.0 243.0V251.0M1940.2 127.3H1946.2M1940.2 127.3V155.0M1946.2 127.3V137.3M1945.0 127.3V155.0M1942.0 155.0H1948.0M1942.0 155.0V175.0M1948.0 155.0V165.0M1948.0 155.0V175.0M1945.0 175.0H1951.0M1945.0 175.0V199.0M1951.0 175.0V185.0M1952.0 175.0V199.0M1949.0 199.0H1955.0M1949.0 199.0V234.5M1955.0 199.0V209.0M1955.0 199.0V234.5M1952.0 234.5H1958.0M1952.0 234.5V258.0M1958.0 234.5V244.5M1958.0 234.5V258.0M1955.0 258.0H1961.0M1955.0 258.0V290.0M1961.0 258.0V268.0M1962.0 258.0V290.0M1959.0 290.0H1965.0M1959.0 290.0V305.0M1965.0 290.0V300.0M1965.0 290.0V305.0M1962.0 305.0H1968.0M1962.0 305.0V320.0M1968.0 305.0V315.0M1968.0 305.0V320.0M1965.0 320.0H1971.0M1965.0 320.0V335.0M1971.0 320.0V330.0M1971.0 320.0V335.0M1968.0 335.0H1974.0M1968.0 335.0V345.0M1974.0 335.0V345.0M1975.0 335.0V345.0M1972.0 345.0H1978.0M1972.0 345.0V365.0M1978.0 345.0V355.0M1980.0 345.0V365.0M1977.0 365.0H1983.0M1977.0 365.0V391.8M1983.0 365.0V375.0M1983.9 365.0V391.8" stroke="#111" stroke-width="1.35" fill="none"/>
<path d="M1354.5 45.0V57.0M1357.5 47.0V58.0M1360.5 48.0V61.0M1363.2 54.0V64.0M1365.6 104.8V116.0M1366.6 114.0V128.0M1369.5 74.0V84.0M1372.5 130.0V142.0M1477.7 132.0V143.0M1479.7 152.0V163.0M1482.7 135.0V150.0M1484.5 155.0V168.0M1486.5 165.0V176.0M1375.4 119.0V128.0M1474.8 162.0V174.0M1378.0 158.0V168.0M1381.0 185.0V197.0M1385.0 218.0V229.0M1388.0 205.0V215.0M1391.0 165.0V176.0M1395.0 175.0V185.0M1398.0 185.0V197.0M1403.0 169.5V178.1M1406.0 177.6V190.1M1409.0 180.6V189.7M1412.0 184.2V190.6M1414.7 192.1V202.2M1417.3 194.4V200.0M1422.7 208.4V219.0M1428.0 218.9V229.2M1430.6 220.5V226.7M1433.2 227.1V236.3M1435.8 229.6V236.0M1418.0 240.0V254.0M1431.0 245.0V262.0M1471.5 262.0V272.0M1433.0 270.0V290.0M1435.0 273.0V292.0M1437.0 278.0V300.0M1440.0 285.0V305.0M1441.0 300.0V320.0M1442.0 312.0V331.0M1444.0 283.0V310.0M1447.0 275.0V298.0M1449.0 290.0V305.0M1452.0 280.0V300.0M1454.0 275.0V295.0M1456.0 290.0V313.0M1458.0 276.0V298.0M1460.0 290.0V300.0M1463.0 283.0V305.0M1465.0 290.0V310.0M1492.0 142.0V152.0M1495.5 125.0V150.0M1538.2 140.0V154.0M1542.2 155.0V166.0M1500.5 115.0V130.0M1507.0 175.0V188.0M1505.0 148.0V158.0M1512.5 150.0V160.0M1516.5 170.0V184.0M1515.0 140.0V150.0M1524.4 212.0V224.0M1525.5 190.0V205.0M1537.2 140.0V154.0M1522.0 125.0V135.0M1554.0 140.0V150.0M1549.0 99.6V109.5M1552.2 104.4V116.4M1555.4 103.1V108.0M1561.8 114.8V127.0M1565.0 117.2V128.0M1568.0 115.8V122.2M1577.0 120.1V125.7M1580.0 123.6V132.1M1583.0 128.9V142.8M1589.0 129.7V140.0M1595.0 130.0V136.0M1598.3 132.2V138.4M1601.7 137.7V149.2M1605.0 140.2V152.5M1611.5 144.2V153.3M1614.8 148.6V159.9M1577.6 165.0V177.0M1582.5 130.0V139.0M1596.3 165.0V177.0M1605.1 158.0V168.0M1616.0 188.0V199.0M1621.0 185.0V197.0M1622.8 171.9V179.1M1627.7 176.6V183.2M1630.2 179.0V185.2M1632.6 185.4V197.3M1635.1 186.7V196.6M1637.5 187.9V195.5M1640.0 194.0V206.8M1642.5 191.9V196.8M1649.8 206.7V219.4M1652.3 210.7V224.6M1657.2 214.1V223.6M1659.7 217.8V228.0M1662.7 220.5V228.8M1665.6 224.1V231.9M1668.5 231.2V243.9M1671.5 236.2V250.5M1674.5 236.4V246.5M1677.4 236.7V242.8M1680.3 241.7V250.7M1683.3 243.1V249.8M1685.8 245.4V252.6M1688.2 249.6V260.2M1690.6 248.5V254.5M1693.1 251.1V258.2M1695.9 252.8V259.5M1698.6 254.0V259.5M1701.4 261.6V275.5M1706.9 259.7V264.9M1712.8 271.3V282.2M1723.3 277.5V285.9M1728.5 283.0V293.6M1731.0 281.6V288.4M1733.6 285.0V295.4M1736.1 284.7V293.0M1738.6 285.7V293.8M1741.1 285.7V292.1M1743.7 286.5V292.4M1746.2 287.3V292.8M1748.7 291.2V301.3M1751.1 288.6V293.8M1753.6 291.3V299.4M1758.5 291.4V297.3M1761.0 293.0V300.4M1763.4 292.6V298.1M1768.4 293.8V298.7M1773.2 299.0V308.8M1675.0 250.0V282.0M1687.0 268.0V290.0M1700.0 270.0V295.0M1720.0 285.0V302.0M1735.0 290.0V305.0M1758.0 300.0V315.0M1768.0 296.0V318.0M1775.0 300.0V320.0M1762.0 298.0V312.0M1782.6 176.0V200.0M1782.6 169.9V177.1M1789.8 178.2V187.5M1793.4 185.5V200.3M1796.7 184.7V194.3M1800.0 188.0V198.8M1803.3 188.4V195.9M1806.6 196.0V212.8M1813.1 196.5V210.0M1817.1 197.3V210.0M1821.0 195.8V203.8M1825.0 197.0V204.5M1828.2 199.3V206.3M1831.4 209.0V226.8M1834.6 211.7V229.6M1841.0 214.5V228.7M1844.1 215.0V228.1M1847.3 213.0V221.2M1850.4 219.9V236.4M1853.6 215.7V224.0M1856.7 217.2V225.8M1859.9 220.7V232.7M1863.0 224.5V240.4M1866.4 221.8V231.2M1869.8 227.1V242.0M1873.2 227.0V239.3M1876.6 228.2V240.0M1880.0 230.3V242.7M1883.5 231.1V242.9M1887.0 233.1V246.3M1890.5 233.3V245.0M1897.0 231.6V238.4M1900.0 237.1V251.5M1903.0 231.9V238.2M1906.0 239.7V257.0M1909.0 235.3V245.5M1912.0 240.4V257.7M1915.0 235.7V245.3M1796.0 205.0V233.0M1800.0 215.0V236.0M1806.0 200.0V228.0M1812.0 210.0V226.0M1825.0 215.0V222.0M1840.0 212.0V230.0M1859.0 235.0V262.0M1863.0 240.0V266.0M1867.0 248.0V270.0M1871.0 245.0V270.0M1880.0 225.0V255.0M1887.0 250.0V275.0M1890.0 265.0V285.0M1904.0 245.0V290.0M1908.0 255.0V290.0M1918.0 238.0V268.0M1920.0 250.0V280.0M1815.0 220.0V245.0M1828.0 228.0V268.0M1924.3 130.0V141.0M1987.8 114.0V128.0M1991.7 80.0V89.0M1994.7 90.0V101.0M1997.6 50.0V64.0M1935.5 225.0V235.0M1933.6 245.0V256.0M1947.0 160.0V170.0M1950.0 200.0V210.0M1952.0 240.0V258.0M1955.0 265.0V282.0M1957.0 285.0V300.0M1960.0 270.0V290.0M1963.0 290.0V300.0M1966.0 310.0V320.0M1969.0 325.0V335.0M1972.0 340.0V350.0M1976.0 355.0V368.0M1979.0 360.0V372.0M1981.0 368.0V380.0M1983.9 380.0V392.0" stroke="#333" stroke-width="2.6" fill="none"/>
<path d="M1364.6 135.8V414.5M1377.5 211.8V414.5M1390.5 217.1V414.5M1403.4 230.4V414.5M1416.3 257.5V414.5M1429.3 304.8V414.5M1442.2 341.9V414.5M1455.2 331.1V414.5M1468.1 277.6V414.5M1481.0 185.0V414.5M1494.0 165.0V414.5M1506.9 197.0V414.5M1519.9 212.5V414.5M1532.8 199.2V414.5M1545.8 172.6V414.5M1558.7 160.4V414.5M1571.6 158.2V414.5M1584.6 177.2V414.5M1597.5 181.5V414.5M1610.5 179.9V414.5M1623.4 208.0V414.5M1636.3 226.9V414.5M1649.3 237.6V414.5M1662.2 246.7V414.5M1675.1 268.2V414.5M1688.1 289.8V414.5M1701.0 300.4V414.5M1714.0 309.0V414.5M1726.9 315.4V414.5M1739.8 319.9V414.5M1752.8 323.8V414.5M1765.7 327.3V414.5M1778.7 318.8V414.5M1791.6 227.5V414.5M1804.5 243.0V414.5M1817.5 238.3V414.5M1830.4 250.4V414.5M1843.4 261.6V414.5M1856.3 283.4V414.5M1869.2 294.6V414.5M1882.2 300.0V414.5M1895.1 300.0V414.5M1908.1 297.3V414.5M1921.0 282.1V414.5M1933.9 256.3V414.5M1946.9 320.6V414.5M1959.8 365.1V414.5M1972.8 387.3V414.5M1985.7 364.5V414.5" stroke="#8a8a8a" stroke-width="1" stroke-dasharray="1.2,1.8" fill="none"/>
<text x="0.0" y="627.8" font-size="29" font-weight="bold">c</text>
<text x="250.7" y="636.0" font-size="27" text-anchor="middle">Module−trait relationships</text>
<rect x="28.3" y="652.2" width="32.3" height="127.4" fill="#5050FF"/>
<rect x="64.0" y="651.7" width="423.5" height="128.4" fill="#FF4A1C" shape-rendering="crispEdges"/>
<text transform="translate(51.3,719.9) rotate(-90)" font-size="20.1" text-anchor="middle" fill="#231815">MEblue</text>
<rect x="28.3" y="779.6" width="32.3" height="126.6" fill="#7FE8DA"/>
<rect x="64.0" y="779.1" width="423.5" height="127.6" fill="#FF3300" shape-rendering="crispEdges"/>
<text transform="translate(51.3,842.7) rotate(-90)" font-size="20.1" text-anchor="middle" fill="#231815">MEturquoise</text>
<rect x="28.3" y="906.2" width="32.3" height="126.9" fill="#C06262"/>
<rect x="64.0" y="905.7" width="423.5" height="127.9" fill="#55AEFF" shape-rendering="crispEdges"/>
<text transform="translate(51.3,972.5) rotate(-90)" font-size="20.1" text-anchor="middle" fill="#231815">MEbrown</text>
<rect x="28.3" y="1033.1" width="32.3" height="126.3" fill="#FFFF00"/>
<rect x="64.0" y="1032.6" width="423.5" height="127.3" fill="#78BCFF" shape-rendering="crispEdges"/>
<text transform="translate(51.3,1104.2) rotate(-90)" font-size="20.1" text-anchor="middle" fill="#231815">MEyellow</text>
<rect x="28.3" y="1159.4" width="32.3" height="126.4" fill="#BEBEBE"/>
<rect x="64.0" y="1158.9" width="423.5" height="127.4" fill="#EBF4FE" shape-rendering="crispEdges"/>
<rect x="274.3" y="1159.4" width="213.2" height="126.4" fill="#F8FBFE" shape-rendering="crispEdges"/>
<text transform="translate(51.3,1233.3) rotate(-90)" font-size="20.1" text-anchor="middle" fill="#231815">MEgrey</text>
<rect x="64.0" y="652.2" width="423.5" height="633.6" fill="none" stroke="#000" stroke-width="2.2"/>
<text x="167.4" y="712.5" font-size="22" text-anchor="middle">0.90</text>
<text x="167.4" y="739.5" font-size="22" text-anchor="middle">(4e−04)</text>
<text x="378.5" y="712.5" font-size="22" text-anchor="middle">0.87</text>
<text x="378.5" y="739.5" font-size="22" text-anchor="middle">(1e−04)</text>
<text x="167.4" y="838.6" font-size="22" text-anchor="middle">0.98</text>
<text x="167.4" y="866.9" font-size="22" text-anchor="middle">(8e−07)</text>
<text x="378.5" y="838.6" font-size="22" text-anchor="middle">0.99</text>
<text x="378.5" y="866.9" font-size="22" text-anchor="middle">(1e−07)</text>
<text x="167.4" y="965.9" font-size="22" text-anchor="middle">−0.64</text>
<text x="167.4" y="998.1" font-size="22" text-anchor="middle">(0.01)</text>
<text x="378.5" y="965.9" font-size="22" text-anchor="middle">−0.65</text>
<text x="378.5" y="998.1" font-size="22" text-anchor="middle">(0.01)</text>
<text x="167.4" y="1092.9" font-size="22" text-anchor="middle">−0.53</text>
<text x="167.4" y="1120.0" font-size="22" text-anchor="middle">(0.04)</text>
<text x="378.5" y="1092.9" font-size="22" text-anchor="middle">−0.54</text>
<text x="378.5" y="1120.0" font-size="22" text-anchor="middle">(0.04)</text>
<text x="167.4" y="1219.7" font-size="22" text-anchor="middle">−0.098</text>
<text x="167.4" y="1246.3" font-size="22" text-anchor="middle">(0.9)</text>
<text x="378.5" y="1219.7" font-size="22" text-anchor="middle">-0.025</text>
<text x="378.5" y="1246.3" font-size="22" text-anchor="middle">(0.9)</text>
<text x="166.0" y="1319.5" font-size="26.2" text-anchor="middle">AFW</text>
<text x="378.5" y="1319.5" font-size="26.2" text-anchor="middle">AFP</text>
<polygon points="488.4,652.1 569.2,706.1 894.3,706.1 894.3,850.4 569.2,850.4 488.4,903.3" fill="#DCDDDD" stroke="#231815" stroke-width="2.2" stroke-linejoin="miter"/>
<polygon points="488.4,906.6 568.6,959.5 891.6,959.5 891.6,1103.8 568.6,1103.8 488.4,1157.8" fill="#DCDDDD" stroke="#231815" stroke-width="2.2" stroke-linejoin="miter"/>
<line x1="488.4" y1="652.0" x2="488.4" y2="1158.5" stroke="#111" stroke-width="2.4"/>
<text x="607.4" y="695.8" font-size="24.4">Promote fat deposition</text>
<text x="525.2" y="749.5" font-size="22.4">1527 Variant-gene interactions</text>
<text x="525.2" y="782.8" font-size="22.4">900 Regulatory variants</text>
<text x="525.2" y="815.6" font-size="22.4">305 Target genes</text>
<text x="607.4" y="946.7" font-size="24.4">Inhibit fat deposition</text>
<text x="519.7" y="1003.1" font-size="22.4">728 Variant-gene interactions</text>
<text x="519.7" y="1036.6" font-size="22.4">518 Regulatory variants</text>
<text x="519.7" y="1069.7" font-size="22.4">134 Target genes</text>
<defs><linearGradient id="cbg" x1="0" y1="0" x2="0" y2="1"><stop offset="0" stop-color="#FF3A1A"/><stop offset="0.5" stop-color="#FFFFFF"/><stop offset="1" stop-color="#1A88FF"/></linearGradient></defs>
<rect x="564.3" y="1151.2" width="14.6" height="138.4" fill="url(#cbg)"/>
<line x1="563.1" y1="1150.1" x2="563.1" y2="1290.8" stroke="#111" stroke-width="2.6"/>
<line x1="579.5" y1="1150.1" x2="579.5" y2="1290.8" stroke="#111" stroke-width="2.6"/>
<line x1="579.5" y1="1151.4" x2="586.3" y2="1151.4" stroke="#111" stroke-width="2.4"/>
<line x1="579.5" y1="1220.6" x2="586.3" y2="1220.6" stroke="#111" stroke-width="2.4"/>
<line x1="579.5" y1="1289.7" x2="586.3" y2="1289.7" stroke="#111" stroke-width="2.4"/>
<line x1="562.0" y1="1151.4" x2="579.5" y2="1151.4" stroke="#111" stroke-width="2.4"/>
<line x1="562.0" y1="1289.7" x2="579.5" y2="1289.7" stroke="#111" stroke-width="2.4"/>
<text x="591.2" y="1164.8" font-size="22.5">1</text>
<text x="591.2" y="1231.9" font-size="22.5">0</text>
<text x="591.2" y="1289.9" font-size="22.5">−1</text>
<text x="1087.0" y="637.3" font-size="29" font-weight="bold">d</text>
<text x="1448.9" y="644.8" font-size="27" text-anchor="middle">2,255 Adipose-related variant-gene interactions</text>
<path d="M1246 1137L1480 758M1342 1307L1228 810M1131 889L1465 1283M1186 894L1353 1241M1165 812L1652 874M1386 795L1323 902M1610 1058L1165 856M1682 947L1290 946M1687 1036L1188 999M1708 913L1200 839M1373 1301L1243 806M1696 902L1226 797M1436 697L1245 1058M1603 1024L1438 738M1416 1312L1101 966M1215 1092L1438 831M1318 971L1632 811M1254 1241L1235 953M1191 848L1427 880M1521 1186L1555 1283M1707 1035L1291 1116M1669 1162L1441 1111M1390 1218L1112 1070M1691 995L1430 824M1682 981L1349 888M1188 1070L1496 1257M1487 1188L1326 1181M1704 1090L1244 1048M1131 889L1101 966M1444 1244L1590 1031M1575 753L1265 1179M1480 731L1425 1157M1643 1022L1225 740M1389 857L1291 1116M1379 1180L1217 1201M1521 1186L1673 1119M1149 878L1189 1020M1599 1178L1206 857M1164 832L1186 1102M1660 1084L1151 1044M1354 1275L1403 1191M1323 727L1674 1134M1246 1218L1125 955M1469 1189L1152 802M1690 883L1244 1048M1156 850L1393 1307M1338 1281L1521 1186M1397 885L1581 782M1704 1090L1311 1316M1309 1028L1445 711M1489 1051L1303 1039M1510 1025L1309 1215M1233 1272L1483 925M1480 758L1317 845M1436 794L1513 920M1522 926L1287 720M1617 1233L1425 834M1303 1013L1092 1039M1366 703L1421 745M1603 1024L1410 1283M1204 1250L1119 1112M1151 962L1568 1251M1243 830L1673 1119M1323 1283L1393 1307M1406 1305L1323 1305M1328 986L1629 1199M1289 1307L1200 839M1669 810L1182 878M1551 889L1472 1087M1564 740L1415 990M1379 1180L1243 815M1267 979L1385 685M1480 758L1459 1296M1192 966L1404 1229M1336 749L1173 845M1608 879L1311 1254M1450 769L1539 966M1403 1191L1599 1178M1129 986L1138 896M1582 1266L1666 1166M1648 1180L1195 1114M1261 890L1438 738M1267 979L1265 1179M1354 1004L1649 1163M1546 745L1579 1242M1323 727L1427 880M1522 1274L1390 1218M1425 762L1315 756M1522 1274L1162 1062M1309 946L1112 1002M1424 1266L1178 1238M1597 779L1256 1221M1708 913L1562 1270M1434 1305L1476 1206M1180 1153L1627 848M1673 935L1289 1307M1630 911L1498 857M1424 1266L1454 1182M1256 1221L1276 753M1356 757L1350 1033M1594 1165L1561 1000M1629 832L1667 1094M1305 1196L1382 1234M1397 885L1676 903M1267 979L1630 911M1603 1148L1643 844M1151 1171L1454 869M1649 1209L1135 1186M1221 889L1087 991M1376 1284L1498 857M1631 1165L1452 812M1610 1058L1236 1158M1323 902L1356 1295M1673 1147L1311 1316M1221 889L1539 729M1629 782L1143 947M1356 757L1480 758M1669 1162L1421 745M1599 1178L1217 1201M1505 761L1169 824M1300 738L1371 725M1318 971L1512 1264M1483 709L1610 1058M1627 848L1356 757M1500 958L1669 859M1287 1062L1463 1208M1682 947L1561 1000M1456 1323L1603 1024M1169 824L1215 1221M1627 1133L1590 1239M1641 1017L1463 1208M1160 834L1480 731M1483 1253L1597 1222M1272 738L1481 1067M1535 822L1366 703M1458 781L1608 740M1465 727L1584 1173M1114 995L1200 839M1134 1140L1424 1266M1543 1276L1649 1209M1359 982L1189 813M1691 995L1669 810M1277 1031L1195 772M1239 966L1583 1213M1602 1099L1356 757M1191 848L1578 1080M1134 1140L1563 1211M1444 1244L1498 857M1277 1031L1602 1099M1582 1220L1569 1281M1631 1165L1583 1213M1713 992L1483 1261M1561 1000L1438 872M1673 1099L1445 711M1548 1034L1149 993M1323 1283L1516 1085M1272 1114L1131 889M1682 947L1708 1045M1131 889L1669 859M1237 1082L1129 986M1498 751L1353 1241M1419 723L1603 973M1445 711L1573 1121M1663 896L1186 894M1393 1307L1608 1264M1564 740L1654 909M1546 745L1514 1046M1568 1251L1353 1325M1345 1176L1643 1022M1632 844L1272 1214M1119 1112L1223 911M1353 1241L1272 738M1347 1163L1627 1133M1472 1087L1406 734M1281 1285L1153 1156M1590 1239L1400 1072M1444 1244L1189 867M1107 933L1596 918M1360 970L1221 889M1354 1004L1210 1020M1225 740L1438 831M1189 1020L1156 850M1654 1029L1449 999M1381 1325L1450 769M1459 1296L1568 1251M1487 1188L1143 1141M1311 933L1303 1039M1189 813L1535 822M1696 1020L1143 1020M1401 740L1286 925M1632 999L1268 856M1707 905L1182 878M1331 1011L1149 993M1441 1111L1281 722M1345 1176L1572 1024M1120 1011L1156 850M1200 791L1662 958M1415 990L1546 745M1188 1006L1254 795M1438 831L1195 1114M1178 1084L1543 1276M1427 880L1245 1058M1660 1084L1520 1211M1452 812L1199 1020M1403 1191L1406 734M1478 964L1323 779M1397 714L1563 1211M1660 806L1498 1246M1610 1184L1718 977M1667 1094L1359 982M1573 1041L1487 1188M1318 1296L1551 1219M1215 1092L1649 885M1489 916L1265 1179M1414 857L1482 714M1366 1321L1403 1191M1243 830L1156 850M1371 725L1173 845M1522 981L1514 1046M1528 756L1236 843M1221 889L1233 1280M1551 1219L1092 1039M1674 964L1309 1065M1232 786L1643 1132M1568 815L1529 719M1143 1020L1660 1084M1353 700L1303 1013M1404 1229L1355 1146M1246 1137L1698 984M1316 782L1210 1100M1690 883L1272 1214M1535 822L1313 698M1252 1165L1233 1280M1268 856L1610 1184M1303 1039L1476 1206M1513 857L1691 995M1560 1196L1348 708M1309 946L1331 1011M1311 933L1438 738M1419 1310L1323 1305M1323 727L1112 1070M1293 1083L1522 926M1221 889L1537 1266M1498 751L1387 1289M1134 1140L1487 1188M1458 781L1140 1042M1449 747L1200 791M1552 1239L1479 1039M1563 1211L1483 709M1483 1253L1560 1196M1418 714L1489 916M1261 890L1257 764M1217 765L1436 697M1283 1228L1360 970M1311 1254L1538 1103M1254 795L1698 984M1416 1161L1331 1011M1353 700L1673 1119M1165 856L1544 1185M1465 1283L1223 911M1510 1274L1217 859M1599 1178L1539 966M1355 837L1354 1004M1564 940L1427 880M1483 925L1661 1132M1469 1189L1254 1273M1367 854L1649 1163M1244 1048L1226 797M1414 857L1425 762M1153 1156L1504 984M1293 1083L1436 697M1287 720L1164 832M1612 1252L1143 1020M1191 940L1688 876M1416 1161L1264 1053M1579 1242L1167 1050M1687 1159L1498 857M1195 1114L1261 890M1584 1173L1401 740M1245 1058L1627 1133M1367 854L1551 1219M1695 1095L1143 1020M1373 1268L1511 894M1513 902L1355 837M1290 946L1438 727M1483 1253L1188 1006M1327 1216L1424 691M1582 1220L1350 1033M1107 933L1382 1234M1483 925L1526 1196M1612 1252L1323 1305M1318 742L1539 729M1353 700L1483 1165M1707 1107L1381 1325M1212 1084L1465 727M1548 1034L1135 1186M1311 1254L1272 1114M1114 995L1153 1156M1313 698L1252 1149M1347 1163L1393 1307M1087 991L1287 720M1245 1058L1603 973M1254 1241L1206 857M1318 1296L1410 1283M1367 854L1283 1228M1708 1045L1252 1013M1228 810L1366 1041M1267 979L1266 802M1167 1050L1450 769M1465 970L1378 1006M1534 1062L1440 1224M1272 1114L1660 806M1277 1244L1708 1045M1276 753L1441 878M1397 885L1243 806M1685 1002L1707 1107M1456 711L1244 1040M1612 1252L1143 947M1629 782L1594 1165M1495 1028L1326 1181M1092 1039L1522 981M1632 999L1381 1325M1662 958L1207 1079M1649 1209L1323 1305M1087 991L1597 779M1546 745L1355 837M1608 879L1520 1211M1526 1196L1676 903M1602 1099L1236 1158M1695 1095L1707 1035M1483 709L1651 824M1682 981L1290 946M1546 790L1265 1179M1309 946L1119 1112M1662 958L1195 1242M1449 999L1430 863M1289 742L1724 1008M1272 1264L1438 1021M1483 1253L1513 902M1311 1254L1189 1020M1347 1163L1200 839M1502 1198L1309 1028M1327 1216L1151 962M1544 1185L1537 1266M1663 889L1223 911M1199 1020L1691 995M1281 1285L1419 1310M1660 1084L1573 1041M1195 1114L1309 733M1143 947L1340 773M1696 1020L1584 1173M1416 1161L1385 685M1131 889L1338 1281M1522 1274L1584 1132M1704 1090L1691 995M1391 977L1654 909M1498 751L1469 1253M1391 977L1636 1121M1261 890L1225 740M1313 698L1151 962M1522 926L1386 795M1293 1083L1136 936M1500 958L1522 1274M1651 1066L1232 990M1191 940L1173 845M1188 1070L1496 1257M1658 816L1376 1284M1112 1002L1313 698M1285 711L1207 1079M1661 1132L1303 1039M1272 1114L1674 964M1610 1184L1510 1274M1564 940L1726 975M1276 753L1696 1002M1109 1095L1236 843M1309 733L1629 832M1502 1198L1641 1017M1349 888L1584 992M1630 925L1687 1036M1232 1244L1630 911M1454 1182L1356 771M1347 1163L1641 1017M1401 1216L1356 1295M1460 848L1418 691M1287 1062L1560 1196M1165 887L1427 880M1506 1185L1513 857M1195 1114L1629 832M1483 925L1669 1162M1696 902L1354 1004M1400 1072L1391 977M1506 1185L1619 806M1708 913L1617 1233M1572 1024L1178 810M1421 745L1318 1296M1243 830L1673 870M1334 718L1438 727M1510 1025L1243 815M1180 824L1559 817M1318 1296L1695 1095M1291 1116L1107 933M1382 885L1575 768M1180 1153L1568 815M1496 1257L1573 1121M1270 762L1195 1114M1217 1261L1277 1244M1153 1156L1578 1080M1619 782L1391 977M1333 705L1412 857M1350 1033L1397 885M1227 1211L1641 1017M1188 999L1608 879M1233 1272L1272 1214M1210 1100L1573 1041M1303 911L1243 806M1584 1173L1632 844M1254 1241L1434 1305M1667 1094L1651 824M1246 1137L1404 1229M1599 1178L1257 764M1685 1002L1366 1321M1227 758L1298 1250M1316 782L1687 1159M1191 848L1584 992M1627 848L1191 848M1345 1176L1401 1216M1210 1020L1252 1165M1200 791L1188 1006M1370 1109L1175 1031M1122 1059L1353 700M1206 857L1334 718M1555 944L1345 988M1610 1184L1669 1162M1354 1275L1500 958M1489 1051L1469 1189M1424 691L1521 1186M1535 822L1401 705M1237 1082L1480 758M1599 947L1328 1151M1125 1129L1661 1132M1390 1218L1412 857M1444 1244L1460 848M1323 1283L1713 992M1561 1006L1206 857M1356 771L1629 1199M1456 1323L1134 1140M1537 738L1699 1031M1360 970L1120 870M1354 1004L1221 889M1551 889L1229 944M1643 1022L1502 1198M1667 1094L1524 782M1555 944L1436 697M1548 1034L1661 1132M1564 940L1479 1301M1149 993L1309 1065M1309 1065L1120 1011M1254 1241L1504 984M1632 999L1414 857M1718 1062L1713 992M1595 824L1718 977M1599 947L1502 727M1092 1039L1143 1141M1206 857L1356 1295M1500 958L1718 977M1583 1213L1510 1274M1483 925L1179 951M1687 1159L1323 779M1267 979L1366 703M1610 1184L1483 925M1704 1090L1277 1244M1227 758L1309 1065M1522 926L1087 991M1254 795L1660 806M1629 832L1355 837M1254 1241L1444 1244M1452 812L1704 1090M1632 999L1418 691M1359 982L1217 1201M1688 876L1386 795M1195 1242L1379 1180M1465 727L1213 777M1441 878L1522 981M1412 779L1441 878M1281 722L1328 1151M1591 1006L1246 1233M1568 815L1195 1114M1389 857L1270 762M1506 1185L1640 1232M1191 848L1561 1006M1192 966L1342 1307M1498 751L1569 1281M1309 946L1528 756M1393 1307L1199 1020M1630 1004L1140 1042M1109 1095L1572 1024M1266 802L1195 1114M1272 1214L1495 1028M1548 1034L1406 734M1404 1229L1643 844M1338 1281L1441 878M1418 691L1610 1058M1535 712L1669 1030M1127 929L1290 946M1381 1325L1382 1234M1661 1132L1564 740M1160 834L1397 714M1266 802L1438 727M1373 1301L1311 933M1232 1244L1560 1196M1590 743L1421 745M1321 1194L1140 1042M1546 745L1456 1258M1590 743L1182 878M1391 977L1272 1264M1471 1155L1460 848M1207 1079L1158 940M1200 791L1256 1116M1217 819L1376 1284M1323 902L1537 738M1707 905L1366 1321M1632 844L1584 1173M1535 822L1690 883M1217 765L1424 1266M1535 712L1309 1215M1188 999L1458 781M1726 975L1651 824M1217 765L1412 779M1246 1137L1101 966M1410 1283L1673 1114M1169 1088L1641 1017M1215 1092L1465 970M1696 1020L1387 1289M1193 1231L1667 1094M1544 1185L1697 1063M1443 814L1323 727M1353 700L1416 1161M1669 1162L1564 940M1667 1094L1443 814M1584 1173L1419 1310M1345 988L1182 878M1136 936L1309 1215M1489 1051L1353 1241M1309 946L1516 1085M1560 1196L1227 758M1227 758L1160 834M1317 845L1291 1116M1440 1224L1382 885M1243 830L1560 1196M1290 1259L1336 749M1217 859L1415 990M1629 832L1169 824M1483 1165L1244 1048M1575 768L1696 902M1217 859L1227 1211M1539 966L1539 729M1246 1137L1252 1013M1673 1119L1438 738M1504 984L1476 1206M1648 1180L1551 889M1303 1013L1551 1219M1638 956L1119 1112M1254 1241L1323 779M1414 857L1353 1325M1546 745L1309 1028M1328 1151L1311 1254M1608 782L1331 1011M1136 913L1543 1276M1228 810L1327 1216M1602 1099L1456 1258M1360 970L1539 966M1465 1283L1323 1305M1246 1233L1354 1004M1298 1250L1195 1242M1421 745L1327 1216M1193 1159L1349 888M1516 1085L1489 916M1436 794L1228 810M1099 1061L1579 1242M1603 973L1186 1102M1289 1105L1313 698M1356 771L1696 902M1450 769L1264 1053M1573 1041L1444 1244M1404 1229L1215 806M1424 691L1425 1157M1630 911L1232 786M1309 733L1243 830M1333 705L1246 1218M1293 1083L1359 982M1483 1261L1272 1214M1569 1281L1654 909M1438 1021L1207 1079M1436 697L1454 869M1178 1238L1610 1184M1539 729L1474 693M1371 725L1682 981M1450 769L1707 1107M1229 944L1189 867M1449 747L1189 1020M1311 1316L1331 1011M1281 722L1178 810M1217 1201L1632 1077M1424 1266L1454 1182M1691 995L1575 768M1385 685L1213 777M1200 839L1318 742M1381 1325L1595 824M1638 956L1551 731M1165 812L1360 970M1287 720L1643 844M1438 727L1438 1021M1498 857L1424 1266M1583 1213L1510 1025M1546 790L1582 1220M1210 1100L1189 867M1188 1070L1228 810M1631 1165L1479 1301M1418 691L1651 1066M1669 1162L1397 885M1602 1099L1513 799M1692 922L1360 970M1112 1002L1513 920M1412 779L1188 999M1252 1165L1303 1013M1243 815L1378 1006M1534 1062L1483 1261M1354 1004L1400 1072M1688 876L1261 890M1583 1213L1397 714M1619 782L1632 999M1599 947L1438 872M1551 731L1658 816M1387 1289L1355 1146M1662 958L1213 1264M1459 1296L1465 1133M1594 1165L1543 1276M1418 691L1315 756M1651 1066L1555 944M1215 1092L1669 859M1338 1281L1389 857M1590 743L1449 747M1340 773L1232 990M1345 988L1546 745M1158 1189L1438 727M1276 753L1456 711M1195 772L1165 887M1226 797L1217 859M1404 1229L1498 857M1569 1281L1217 859M1281 1285L1345 988M1726 975L1427 880M1441 878L1232 990M1356 771L1303 911M1244 1048L1599 1204M1179 951L1424 691M1239 966L1454 869M1401 1047L1119 1112M1136 1163L1669 1030M1112 1002L1300 738M1227 1211L1548 986M1103 1028L1228 810M1193 1231L1152 1127M1544 1185L1244 1048M1257 764L1724 1008M1257 764L1534 1062M1443 1263L1239 966M1403 1191L1465 1133M1228 810L1471 1290M1663 889L1309 946M1244 1048L1629 782M1534 1062L1313 698M1483 1253L1430 863M1209 1052L1243 830M1366 703L1321 1194M1471 1155L1205 930M1483 1165L1559 817M1487 1188L1403 1191M1568 1251L1632 999M1539 729L1140 1042M1652 874L1513 920M1502 1198L1575 768M1415 990L1397 885M1471 1155L1360 970M1143 1141L1256 1221M1205 930L1289 1307M1342 1307L1323 902M1654 1029L1318 742M1246 1233L1452 885M1237 1082L1303 1013M1708 1045L1485 1318M1463 1208L1590 743M1213 1264L1555 944M1661 1132L1158 940M1555 1283L1356 771M1321 1194L1143 1141M1469 1253L1505 761M1707 1107L1246 1137M1619 782L1673 1147M1718 1062L1584 992M1483 925L1158 940M1201 1170L1691 1138M1638 956L1583 1213M1658 816L1207 1079M1498 751L1713 992M1143 1141L1469 1253M1321 1194L1537 738M1599 947L1328 1151M1617 819L1449 999M1267 979L1575 753M1267 979L1632 844M1281 1285L1414 779M1212 1084L1122 1059M1580 1059L1237 1017M1632 844L1391 977M1345 988L1452 885M1376 1284L1687 1159M1356 771L1287 720M1406 1305L1651 1066M1707 905L1520 1211M1099 1061L1309 733M1438 727L1584 992M1366 1321L1674 964M1489 1051L1643 1022M1596 918L1438 831M1170 966L1441 1111M1573 1041L1289 1105M1632 999L1239 966M1603 1024L1674 964M1419 1310L1478 964M1669 1030L1649 1209M1673 1114L1289 742M1630 1004L1424 1266M1535 822L1328 1151M1285 711L1416 1161M1359 982L1412 779M1500 958L1441 1327M1690 883L1537 738M1498 857L1443 1263M1321 1194L1192 966M1673 1119L1434 1305M1454 869L1601 1196M1444 1244L1418 714M1204 1250L1469 1253M1326 1181L1685 1002M1673 1119L1513 902M1559 817L1323 1283M1498 1246L1129 986M1256 1221L1178 810M1539 966L1237 1017M1254 1273L1419 1310M1164 832L1350 727M1355 837L1590 1031M1641 1017L1184 1207M1354 1004L1654 909M1237 1082L1289 1307M1512 1264L1663 896M1323 1283L1691 1138M1669 859L1575 753M1156 850L1651 824M1465 1133L1692 922M1421 745L1175 1207M1438 1021L1584 1132M1401 1047L1151 962M1465 1133L1246 1218M1489 916L1109 1015M1311 1254L1603 973M1699 1031L1595 824M1629 1199L1366 1041M1290 1216L1698 984M1212 1084L1152 1127M1648 1180L1617 1233M1708 1045L1261 890M1401 1216L1491 734M1237 1082L1339 1275M1189 813L1261 890M1252 1149L1482 714M1543 1276L1158 1189M1397 714L1281 722M1511 894L1120 870M1309 1065L1478 964M1192 966L1419 723M1555 944L1595 824M1538 1103L1162 1204M1491 734L1551 889M1307 1323L1410 1283M1597 779L1290 946M1122 1059L1460 848M1487 1188L1673 870M1543 1276L1412 857M1718 1062L1331 1011M1603 1024L1555 944M1483 709L1584 1173M1454 1182L1165 812M1640 1232L1573 1121M1438 738L1483 1165M1726 975L1502 1198M1575 753L1540 1300M1418 691L1537 738M1152 1127L1584 1132M1526 1196L1099 1061M1669 1162L1312 1244M1699 1031L1590 1031M1354 867L1430 824M1283 1228L1276 753M1300 738L1232 786M1193 1159L1186 894M1597 1222L1438 738M1356 771L1673 870M1510 1025L1158 940M1347 1163L1186 894M1353 1241L1413 1161M1599 1178L1510 1274M1513 902L1140 1042M1580 1059L1265 1179M1654 1029L1500 958M1243 815L1245 1058M1287 1062L1246 1218M1469 1189L1353 1325M1209 1166L1544 1185M1210 1020L1551 1219M1158 1189L1441 878M1454 1182L1101 966M1193 1159L1370 1109M1112 1070L1143 947M1303 911L1227 758M1406 1305L1485 1318M1243 806L1406 1305M1188 1070L1391 977M1418 691L1226 797M1660 806L1610 1184M1180 824L1520 1211M1441 1327L1311 1254M1425 762L1317 845M1669 859L1225 740M1636 1121L1546 790M1192 966L1438 831M1323 779L1643 1022M1192 966L1350 727M1195 1242L1210 1100M1449 999L1212 1084M1568 815L1643 1022M1316 782L1119 1112M1289 742L1514 1046M1243 830L1526 1196M1469 1253L1100 983M1643 1022L1366 1321M1667 1094L1182 878M1371 725L1373 1268M1505 761L1610 1184M1724 1008L1267 979M1317 845L1594 1165M1669 859L1480 731M1397 714L1707 1035M1366 703L1149 993M1286 925L1690 883M1149 993L1156 850M1594 1165L1406 734M1175 1031L1674 964M1707 1107L1619 806M1254 795L1353 1241M1449 747L1221 889M1309 1065L1502 1198M1661 1132L1504 984M1243 815L1281 722M1164 832L1397 714M1382 885L1387 1289M1167 1108L1575 768M1608 1264L1272 1114M1193 1231L1718 1062M1603 1148L1581 782M1449 747L1125 955M1401 1216L1528 756M1572 1024L1599 1204M1339 1275L1602 1099M1210 1020L1209 1166M1287 1062L1350 1033M1164 832L1236 1158M1397 714L1480 758M1210 1100L1708 1045M1726 975L1311 1254M1373 1268L1311 1254M1555 944L1538 1103M1140 1042L1313 698M1184 1132L1303 1013M1120 1011L1654 1029M1529 719L1195 772M1209 1052L1465 727M1425 762L1237 1017M1500 1207L1403 1191M1410 1283L1261 890M1540 1300L1617 1233M1233 1280L1513 857M1555 944L1210 1100M1189 813L1342 1307M1669 1162L1452 885M1504 984L1412 705M1339 1275L1643 1132M1416 1312L1303 911M1459 1296L1246 1218M1191 848L1522 926M1393 1307L1456 1258M1561 1000L1469 1253M1152 1127L1599 1204M1551 1219L1430 863M1617 819L1669 859M1658 816L1223 911M1438 831L1245 1058M1401 1216L1309 1215M1307 1323L1590 1239M1450 769L1726 975M1213 777L1469 1189M1312 1244L1359 982M1246 1233L1673 1147M1349 888L1505 761M1272 1114L1257 764M1158 1189L1366 1041M1443 1263L1300 738M1186 894L1356 771M1454 869L1612 1252M1673 870L1350 1033M1699 1031L1235 953M1667 1094L1504 984M1386 795L1347 1163M1513 857L1438 831M1217 1261L1268 856M1356 757L1266 802M1316 782L1204 1250M1627 1133L1608 1264M1189 867L1373 1301M1087 991L1290 946M1584 992L1119 1112M1522 926L1311 933M1551 1219L1318 1296M1535 822L1704 1090M1551 731L1564 940M1707 905L1608 740M1412 779L1548 986M1184 1207L1152 802M1356 757L1215 806M1449 999L1552 1239M1640 1232L1192 966M1449 747L1415 1119M1348 708L1414 857M1162 1062L1472 1087M1360 970L1605 1158M1246 1137L1246 1233M1584 992L1410 1283M1170 966L1312 1244M1653 1192L1213 1264M1608 782L1472 1087M1662 958L1419 723M1287 720L1584 1132M1627 848L1327 793M1535 712L1676 903M1389 857L1277 1244M1482 714L1667 1094M1235 953L1339 1275M1309 733L1355 837M1602 1099L1345 1176M1213 1141L1555 944M1599 1204L1138 896M1353 1241L1419 723M1153 1156L1189 813M1430 824L1538 1103M1449 747L1718 1062M1450 769L1378 1006M1590 1031L1696 1002M1726 975L1505 761M1336 749L1199 1020M1099 1061L1201 1170M1597 779L1632 999M1471 1155L1391 977M1415 1119L1673 1119M1649 1209L1502 727M1552 1239L1189 813M1654 859L1599 1204M1244 1040L1087 991M1584 992L1430 863M1382 1234L1573 1041M1112 1002L1662 958M1638 956L1235 953M1410 1283L1245 1058M1510 1025L1564 740M1189 813L1309 1065M1438 738L1516 1085M1583 1213L1413 1161M1440 1224L1482 714M1578 1080L1313 698M1512 1264L1244 1040M1595 824L1327 1216M1580 1059L1227 758M1591 1006L1690 883M1277 1031L1438 831M1456 711L1430 824M1469 1253L1489 916M1513 799L1643 844M1382 885L1303 911M1506 1185L1237 1017M1513 799L1427 880M1445 711L1658 816M1215 1092L1438 872M1285 711L1217 859M1438 1275L1561 1006M1236 843L1424 1266M1403 1191L1252 1165M1092 1039L1454 1182M1290 946L1397 714M1630 1004L1599 1204M1436 697L1378 1006M1691 995L1595 824M1178 1238L1323 779M1528 756L1246 1233M1366 703L1256 1221M1438 1275L1660 1084M1579 1242L1114 995M1272 1214L1698 984M1152 1127L1233 1280M1164 832L1279 1050M1390 966L1487 1188M1667 1094L1552 1239M1336 749L1471 1290M1474 693L1300 738M1682 981L1286 925M1654 909L1425 834M1597 779L1318 971M1195 1114L1478 964M1261 770L1229 944M1627 848L1112 1002M1406 734L1687 1159M1483 1261L1662 958M1632 1077L1318 971M1227 1211L1186 894M1443 814L1232 786M1215 1016L1669 1162M1469 1189L1350 1033M1415 990L1149 993M1149 993L1381 1325M1445 711L1630 911M1630 911L1425 762M1691 1138L1373 1301M1575 753L1406 734M1387 1289L1641 1017M1510 1274L1323 779M1356 1295L1243 815M1401 1216L1347 1163M1289 1307L1682 947M1252 1165L1534 1062M1152 1127L1289 1307M1217 819L1252 1149M1590 1239L1425 762M1175 1207L1465 970M1654 1029L1281 722M1382 1234L1391 977M1543 1276L1619 806M1149 878L1252 1149M1617 1050L1513 857M1560 1196L1300 738M1671 916L1483 709M1641 1017L1373 1301M1441 1111L1226 797M1227 758L1316 782M1378 1006L1215 1016M1425 1321L1327 793M1179 951L1478 964M1149 993L1438 1275M1350 727L1610 1058M1622 948L1225 740M1244 1048L1107 933M1178 1084L1403 1191M1581 782L1114 995M1180 824L1498 1246M1120 1011L1221 889M1666 1166L1569 1281M1414 779L1481 1067M1188 999L1440 1224M1169 824L1309 1065M1448 1005L1209 1052M1237 1017L1682 981M1303 911L1244 1048M1416 1119L1696 902M1354 1275L1430 863M1178 1238L1661 1132M1237 1082L1631 1165M1465 1133L1186 1102M1257 764L1674 964M1209 1166L1696 902M1617 819L1444 1244M1272 1264L1356 1295M1287 720L1175 1207M1564 740L1662 958M1246 1137L1134 1140M1483 1165L1189 1020M1151 1044L1663 889M1400 1072L1189 813M1309 733L1539 729M1182 878L1321 1194M1481 1067L1200 839M1590 1239L1376 1284M1481 1067L1215 1221M1391 977L1456 1258M1671 916L1498 751M1548 1034L1151 1171M1184 1207L1438 872M1277 1031L1424 1266M1205 930L1610 1184M1143 1020L1143 947M1724 1008L1318 971M1366 703L1685 1002M1101 966L1526 1196M1393 1307L1458 781M1572 1024L1350 1033M1246 990L1213 1264M1602 1099L1244 1048M1175 1207L1287 1062M1175 1207L1338 1281M1510 1274L1281 1285M1184 1132L1418 691M1500 1207L1233 1272M1632 1077L1188 1070M1559 817L1459 1296M1293 1083L1449 747M1534 1062L1290 1259M1513 920L1286 925M1193 1159L1674 964M1134 1140L1454 869M1699 1031L1285 711M1336 749L1215 806M1548 986L1526 1196M1188 1070L1459 1296M1195 1114L1479 1301M1651 1066L1590 1239M1590 1239L1489 1051M1387 1289L1687 1159M1290 1216L1227 758M1227 1211L1602 1099M1285 711L1165 887M1496 1257L1596 918M1191 940L1630 1004M1312 1244L1520 1211M1289 1307L1643 1022M1608 1264L1311 1316M1481 1067L1326 1181M1540 1263L1223 911M1629 782L1401 1216M1415 1119L1178 1238M1355 837L1167 1108M1444 1244L1513 799M1246 990L1401 1047M1326 1181L1595 1216M1641 1017L1535 712M1483 1253L1245 1058M1440 1224L1608 879M1563 1211L1632 811M1724 1008L1425 834M1180 824L1345 988M1175 1207L1195 772M1696 1002L1285 711M1333 705L1109 1095M1366 703L1293 1083M1393 1307L1239 966M1397 714L1261 770M1643 844L1513 799M1526 1196L1378 1006M1555 1283L1498 1246M1438 738L1414 857M1685 1002L1149 993M1449 747L1535 712M1424 1266L1595 1216M1345 988L1276 753M1179 951L1354 867M1629 782L1483 1261M1471 1155L1573 1121M1489 1051L1200 839M1287 720L1213 1141M1438 738L1638 956M1215 1221L1175 1031M1619 782L1340 773M1109 1015L1191 940M1191 848L1305 1196M1658 816L1695 1095M1339 1275L1289 742M1243 830L1676 903M1356 1295L1200 791M1481 1067L1243 830M1662 958L1465 970M1708 913L1213 777M1551 731L1256 1116M1418 691L1673 1114M1237 1082L1590 1031M1539 966L1506 1185M1165 887L1674 964M1410 1283L1696 902M1438 1021L1210 1100M1406 1305L1617 1233M1309 733L1682 981M1303 911L1524 782M1629 782L1290 1216M1213 1264L1264 1053M1356 1295L1401 1216M1136 913L1252 1165M1569 1281L1339 1275M1252 1165L1307 1323M1217 859L1188 999M1654 1029L1227 1211M1698 984L1373 1268M1669 810L1573 1121M1140 1042L1135 1186M1622 948L1534 1062M1316 782L1303 1039M1318 742L1413 1161M1505 761L1689 951M1156 850L1223 911M1643 844L1189 1020M1456 1323L1143 947M1578 1080L1673 935M1551 731L1663 889M1366 1321L1311 1254M1551 889L1122 1059M1601 1196L1454 869M1630 911L1602 1099M1169 824L1112 1002M1481 1067L1193 1231M1410 1283L1726 975M1353 1325L1597 1222M1669 859L1151 962M1129 986L1552 1239M1309 946L1425 1321M1189 1020L1339 1275M1276 753L1449 747M1167 1108L1397 714M1410 1283L1323 902M1452 802L1513 920M1152 1127L1391 977M1165 887L1390 1218M1520 1211L1122 1059M1651 824L1217 859M1167 1108L1286 925M1692 922L1209 1052M1158 940L1406 1305M1103 1028L1256 1221M1353 1325L1687 1159M1424 691L1277 1031M1436 794L1261 770M1178 1238L1318 742M1691 1138L1691 995M1289 1307L1184 1207M1239 966L1425 834M1279 1050L1136 913M1199 1020L1663 896M1227 758L1546 745M1514 1046L1460 848M1237 1082L1505 761M1233 1272L1225 740M1167 1108L1443 814M1630 925L1526 1196M1456 1258L1504 984M1580 1059L1305 1196M1385 685L1232 990M1244 1040L1195 772M1215 806L1698 984M1246 990L1386 795M1119 1112L1513 902M1158 1189L1323 902M1572 1024L1323 1305M1696 902L1366 1041M1512 1264L1290 946M1305 1196L1687 1036M1578 1080L1379 1180M1544 1185L1602 1099M1582 1220L1243 830M1427 880L1708 1045M1444 1244L1143 947M1416 1161L1617 819M1200 791L1112 1002M1546 790L1599 947M1441 1327L1632 999M1465 970L1152 802M1608 782L1290 1216M1403 1191L1696 1002M1223 911L1430 863M1167 1108L1445 711M1427 707L1649 1209M1638 956L1418 691M1568 1251L1634 1086M1436 697L1227 1211M1112 1070L1436 697M1438 727L1682 947M1209 1166L1101 966M1687 1036L1619 782M1498 751L1674 1134M1381 1325L1452 885M1136 913L1245 1058M1287 720L1283 1228M1608 1264L1452 885M1200 791L1366 1041M1293 1083L1643 844M1246 990L1210 1100M1673 1099L1546 745M1252 1149L1634 1086M1584 1132L1401 1216M1245 1058L1608 782M1120 870L1232 786M1281 722L1584 1132M1612 1252L1268 856M1153 1156L1331 1011M1391 977L1425 1157M1610 1058L1425 1157M1660 806L1401 705M1309 1215L1309 946M1167 1050L1500 958M1718 977L1412 857M1456 711L1356 757M1318 742L1449 747M1099 1061L1193 1231M1595 824L1510 1274M1608 782L1267 979M1186 1102L1213 1264M1559 817L1256 1221M1125 1129L1489 916M1195 1242L1603 973M1673 935L1165 812M1217 765L1345 988M1307 1323L1254 795M1663 889L1487 1188M1669 1030L1500 1207M1529 719L1112 1070M1397 885L1438 727M1630 911L1528 756M1456 711L1578 1080M1311 1316L1311 933M1225 740L1481 1067M1649 1163L1669 810M1690 883L1333 705M1270 762L1440 1224M1696 1020L1419 723M1140 1042L1120 870M1236 843L1498 1246M1643 1022L1347 1163M1191 848L1412 705M1436 794L1575 753M1217 1261L1400 1072M1366 703L1578 1080M1321 1194L1632 844M1465 1133L1261 890M1425 1321L1246 1137M1590 1239L1661 1132M1708 1045L1410 1283M1498 751L1349 888M1180 824L1153 1156M1122 1059L1643 1022M1195 1242L1653 1192M1445 711L1112 1070M1326 1181L1543 1276M1356 757L1617 819M1707 905L1673 1099M1261 890L1425 762M1246 1233L1548 1034M1327 1216L1540 1263M1682 947L1472 1087M1356 1295L1112 1002M1127 929L1630 911M1430 824L1232 990M1696 902L1603 973M1205 930L1632 811M1543 1276L1500 958M1416 1161L1630 911M1627 1133L1692 922M1434 1305L1107 933M1552 1239L1397 885M1561 1006L1323 819M1481 1067L1474 693M1544 1185L1136 913M1568 1251L1267 979M1661 1132L1323 1283M1456 1323L1658 816M1610 1184L1196 911M1445 711L1277 1244M1189 813L1366 1321M1622 948L1215 806M1254 1241L1217 765M1397 714L1673 870M1643 1132L1188 1070M1114 995L1414 709M1699 1031L1303 911M1430 863L1136 913M1246 1218L1178 1238M1413 1161L1281 722M1522 981L1129 986M1673 935L1254 1241M1552 1239L1272 1214M1425 1157L1200 791M1175 1207L1179 951M1256 1221L1328 1151M1107 933L1356 771M1674 964L1504 984M1215 1221L1667 1094M1300 738L1481 1067M1127 929L1300 738M1582 1266L1246 990M1323 819L1449 999M1568 815L1458 781M1245 1058L1233 1272M1438 738L1478 964M1479 1301L1143 1020M1632 1077L1371 725M1318 742L1265 1179M1480 758L1608 1264M1463 1208L1640 1232M1270 762L1327 793M1355 837L1425 834M1323 1283L1601 1196M1539 729L1704 1090M1318 1296L1596 918M1590 1239L1354 867M1283 1228L1180 1153M1522 1274L1663 889M1167 1108L1169 824M1200 791L1654 859M1619 782L1283 1228M1573 1121L1153 1156M1584 1132L1376 1284M1215 1221L1291 1116M1418 691L1252 1165M1640 1232L1209 1166M1630 911L1300 738M1691 995L1643 1132M1232 786L1421 745M1438 738L1215 1016M1281 1285L1215 1016M1189 867L1520 1211M1188 1006L1272 1214M1522 1274L1356 771M1205 930L1498 857M1699 1031L1191 940M1401 1216L1092 1039M1638 956L1465 727M1120 870L1293 1083M1413 1161L1595 1216M1718 977L1217 1201M1381 1325L1201 1170M1180 824L1151 1171M1213 1141L1629 1199M1544 1185L1193 1231M1682 981L1564 940M1305 1196L1480 758M1414 709L1427 880M1387 711L1441 1111M1366 1321L1660 1084M1356 1295L1212 1084M1608 782L1217 859M1438 738L1207 1079M1215 1092L1539 966M1379 1180L1323 819M1660 806L1382 885M1443 814L1293 1083M1175 1207L1584 1132M1272 1214L1708 1045M1165 887L1119 1112M1513 799L1175 1031M1584 992L1323 727M1575 753L1120 1011M1622 948L1289 742M1690 883L1215 806M1419 1310L1673 1099M1513 857L1103 1028M1463 1208L1191 940M1643 844L1689 951M1189 813L1382 885M1323 819L1413 1161M1427 707L1348 708M1632 811L1199 1020M1459 1296L1213 1141M1356 757L1669 859M1184 1132L1315 756M1612 1252L1381 1325M1151 1171L1546 790M1189 813L1495 1028M1232 786L1303 911M1201 1170L1487 1188M1419 1310L1584 992M1673 1147L1350 727M1336 749L1370 1109M1289 1105L1178 810M1510 1025L1180 1153M1535 712L1196 911M1272 738L1505 761M1513 902L1419 723M1540 1263L1290 946M1290 1216L1390 1218M1669 1030L1135 1186M1479 1301L1193 1159M1489 916L1449 999M1631 1165L1270 762M1210 1100L1441 1111M1309 1028L1390 1218M1483 1261L1237 1017M1424 691L1539 966M1412 705L1601 1196M1179 951L1401 1216M1480 758L1630 925M1289 1307L1290 946M1356 757L1474 693M1129 986L1180 824M1441 1327L1463 1208M1454 869L1561 1000M1353 1241L1450 769M1452 802L1546 745M1537 1266L1227 1211M1674 964L1516 1085M1502 1198L1673 870M1135 1186L1387 1289M1661 1132L1669 859M1246 1137L1315 756M1390 966L1397 714M1217 859L1311 1316M1227 1211L1180 824M1630 925L1311 1254M1630 1004L1298 1250M1654 909L1257 764M1500 958L1300 738M1188 1006L1610 1058M1689 951L1483 925M1215 1221L1441 878M1134 1140L1303 1039M1162 1062L1502 1198M1663 889L1535 712M1599 1204L1109 1015M1427 707L1188 1070M1103 1028L1286 925M1153 1156L1366 703M1612 1252L1465 970M1546 745L1602 1099M1669 859L1243 815M1511 894L1283 1228M1226 797L1718 1062M1425 834L1580 1059M1482 714L1122 1059M1318 742L1232 990M1480 731L1412 705M1436 697L1212 1084M1480 758L1476 1206M1184 1207L1235 953M1608 782L1687 1159M1373 1301L1290 946M1495 1028L1345 1176M1373 1301L1252 1165M1340 773L1564 940M1430 863L1397 714M1386 795L1414 709M1560 1196L1513 920M1489 1051L1360 970M1289 742L1228 810M1370 1109L1206 857M1415 990L1114 995M1582 1266L1510 1274M1708 1045L1333 705M1443 814L1654 909M1416 1312L1414 779M1485 1318L1520 1211M1107 933L1540 1263M1215 1221L1521 1186M1389 857L1305 1196M1649 885L1131 889M1215 1016L1452 802M1397 714L1331 1011M1143 1020L1149 878M1200 791L1643 844M1582 1220L1228 810M1561 1006L1401 1216M1109 1015L1285 711M1134 1140L1217 765M1441 1111L1456 1323M1092 1039L1193 1159M1685 1002L1143 1020M1406 1305L1654 1029M1415 1119L1540 1300M1603 1024L1272 1264M1480 758L1373 1268M1339 1275L1630 1004M1419 723L1348 708M1662 958L1463 1208M1504 984L1290 1259M1682 947L1414 857M1138 896L1323 902M1356 771L1243 806M1381 1325L1252 1149M1578 1080L1272 1114M1673 1114L1385 685M1584 1173L1265 1179M1233 1272L1564 940M1217 1261L1189 867M1318 1296L1510 1274M1378 1006L1184 1132M1120 870L1441 1327M1708 913L1354 1004M1188 1006L1584 1173M1321 1194L1469 1253M1599 1204L1696 902M1438 727L1217 859M1537 1266L1404 1229M1483 1253L1454 869M1522 1274L1619 782M1353 1241L1662 958M1608 740L1491 734M1661 1132L1452 802M1200 791L1184 1132M1233 1280L1390 1218M1708 1045L1630 1004M1502 727L1500 958M1298 1250L1318 971M1382 1234L1272 1214M1483 1261L1212 1084M1602 1099L1286 925M1252 1013L1356 1295M1264 1053L1660 1084M1232 990L1695 1095M1631 1165L1546 790M1590 1239L1458 781M1418 691L1160 834M1178 1238L1425 1157M1456 1258L1638 956M1232 1244L1483 1261M1379 1180L1233 1280M1539 966L1406 734M1513 857L1385 685M1561 1000L1165 812M1452 812L1169 1088M1456 1323L1252 1013M1246 1137L1522 981M1689 951L1354 1004M1697 1063L1309 946M1496 1257L1469 1189M1286 925L1430 863M1136 936L1669 1030M1264 1053L1246 1233M1200 791L1578 1080M1298 1250L1178 1238M1217 765L1400 1072M1561 1006L1514 1046M1548 986L1184 1207M1662 958L1339 1275M1156 850L1658 816M1254 1241L1191 848M1441 878L1180 1153M1173 845L1382 885M1660 1084L1213 1264M1318 1296L1510 1274M1495 1028L1521 1186M1336 749L1390 966M1691 1138L1534 1062M1495 1028L1584 1173M1436 794L1206 857M1481 1067L1393 1307M1483 1165L1414 709M1444 1244L1412 705M1513 920L1513 857M1311 1316L1434 1305M1227 758L1401 1047M1193 1159L1373 1268M1643 1132L1290 946M1696 902L1367 854M1397 714L1267 979M1521 1186L1286 925M1649 885L1416 1119M1236 843L1498 857M1252 1165L1649 1209M1236 843L1572 1024M1482 714L1448 1005M1254 795L1421 745M1152 1127L1201 1170M1660 806L1424 1266M1418 691L1595 824M1479 1301L1252 1013M1438 1275L1188 1006M1323 902L1289 1105M1272 1264L1522 981M1162 1062L1342 1307M1440 1224L1641 1017M1266 802L1109 1095M1293 1083L1691 995M1233 1272L1534 1062M1540 1300L1584 992M1178 1084L1430 863M1169 824L1243 815M1608 879L1459 1296M1277 1244L1687 1159M1425 1157L1465 727M1353 1241L1413 1161M1513 857L1673 1119M1266 802L1291 1116M1401 705L1165 887M1591 1006L1246 1137M1327 793L1237 1017M1663 896L1718 1062M1279 1050L1513 857M1511 894L1416 1119M1381 1325L1634 1086M1441 878L1165 812M1430 824L1610 1058M1170 966L1205 930M1170 966L1309 946M1170 966L1254 795M1170 966L1189 813M1170 966L1217 765M1170 966L1309 1065M1170 966L1119 1112M1170 966L1210 1100M1170 966L1252 1149M1170 966L1340 773M1170 966L1328 1151M1243 806L1279 1050M1243 806L1196 911M1243 806L1460 848M1243 806L1450 769M1243 806L1136 913M1243 806L1412 779M1243 806L1129 986M1243 806L1131 889M1445 711L1406 734M1445 711L1513 857M1445 711L1430 863M1445 711L1482 714M1445 711L1340 773M1445 711L1313 698M1445 711L1627 848M1445 711L1480 731M1120 870L1162 1062M1120 870L1165 856M1120 870L1205 930M1120 870L1107 933M1526 1196L1318 1296M1526 1196L1674 1134M1526 1196L1552 1239M1526 1196L1510 1025M1526 1196L1312 1244M1526 1196L1327 1216M1526 1196L1648 1180M1526 1196L1521 1186M1526 1196L1465 1283M1526 1196L1434 1305M1430 824L1528 756M1430 824L1195 772M1430 824L1548 986M1430 824L1460 848M1430 824L1441 878M1430 824L1205 930M1430 824L1397 714M1430 824L1359 982M1430 824L1217 819M1430 824L1513 902M1430 824L1596 918M1430 824L1303 911M1430 824L1590 743M1430 824L1502 727M1430 824L1331 1011M1430 824L1257 764M1371 725L1221 889M1371 725L1200 839M1371 725L1217 765M1371 725L1546 790M1371 725L1221 889M1371 725L1535 822M1371 725L1281 722M1371 725L1340 773M1575 753L1414 779M1575 753L1597 779M1575 753L1480 758M1575 753L1482 714M1575 753L1441 878M1575 753L1460 848M1575 753L1663 896M1575 753L1333 705M1575 753L1386 795M1502 1198L1353 1241M1502 1198L1305 1196M1502 1198L1454 1182M1502 1198L1521 1186M1502 1198L1561 1000M1502 1198L1666 1166M1502 1198L1580 1059M1502 1198L1354 1275M1502 1198L1552 1239M1502 1198L1555 1283M1502 1198L1539 966M1502 1198L1636 1121M1502 1198L1454 1182M1502 1198L1323 1283M1502 1198L1342 1307M1502 1198L1265 1179M1502 1198L1381 1325M1696 902L1699 1031M1696 902L1590 1031M1696 902L1685 1002M1696 902L1636 1121M1696 902L1673 870M1401 1047L1252 1165M1401 1047L1286 925M1401 1047L1199 1020M1401 1047L1516 1085M1401 1047L1561 1006M1401 1047L1298 1250M1401 1047L1410 1283M1401 1047L1199 1020M1401 1047L1236 1158M1401 1047L1401 1216M1401 1047L1227 1211M1401 1047L1215 1092M1401 1047L1500 1207M1654 859L1617 819M1654 859L1564 740M1654 859L1513 799M1654 859L1718 977M1654 859L1478 964M1654 859L1603 973M1654 859L1548 1034M1654 859L1632 1077M1410 1283L1298 1250M1410 1283L1469 1253M1410 1283L1502 1198M1410 1283L1469 1189M1410 1283L1404 1229M1410 1283L1290 1259M1410 1283L1444 1244M1410 1283L1649 1209M1410 1283L1582 1220M1539 729L1524 782M1539 729L1336 749M1539 729L1546 745M1539 729L1482 714M1539 729L1513 857M1539 729L1564 740M1539 729L1629 782M1421 745L1217 819M1421 745L1619 806M1421 745L1460 848M1421 745L1391 977M1421 745L1441 878M1421 745L1551 731M1421 745L1213 777M1421 745L1480 731M1421 745L1367 854M1452 885L1561 1000M1452 885L1287 720M1452 885L1354 1004M1452 885L1682 981M1452 885L1229 944M1452 885L1246 990M1452 885L1575 768M1452 885L1436 794M1579 1242L1500 1207M1579 1242L1555 1283M1579 1242L1456 1258M1579 1242L1347 1163M1579 1242L1476 1206M1579 1242L1573 1041M1579 1242L1353 1325M1579 1242L1520 1211M1192 966L1103 1028M1192 966L1356 771M1192 966L1244 1048M1192 966L1169 824M1192 966L1252 1013M1192 966L1182 878M1192 966L1215 1016M1192 966L1210 1100M1192 966L1186 894M1192 966L1412 857M1513 902L1156 850M1406 734L1257 764M1349 888L1243 830M1385 685L1136 913M1436 794L1316 782M1232 990L1149 878M1151 962L1397 714M1232 990L1414 779M1483 709L1450 769M1401 705L1285 711M1474 693L1125 955M1356 757L1114 995M1178 810L1323 819M1436 794L1261 890M1317 845L1424 691M1438 727L1189 813M1243 830L1483 709M1243 815L1173 845M1438 738L1474 693M1513 920L1387 711M1178 810L1200 791M1387 711L1158 940M1182 878L1359 982M1196 911L1418 714M1436 794L1149 878M1500 958L1309 733M1421 745L1356 757M1179 951L1235 953M1136 936L1425 762M1267 979L1178 810M1498 857L1371 725M1196 911L1436 697M1317 845L1460 848M1191 848L1406 734M1443 814L1087 991M1438 738L1356 771M1390 966L1127 929M1441 878L1483 925M1498 751L1127 929M1215 806L1261 890M1502 727L1215 806M1356 757L1192 966M1217 765L1173 845M1228 810L1272 738M1112 1002L1156 850M1366 703L1415 990M1243 806L1489 916M1354 1004L1243 806M1217 859L1254 795M1482 714L1513 902M1323 819L1378 1006M1348 708L1188 1006M1478 964L1491 734M1478 964L1366 703M1418 714L1286 925M1266 802L1328 986M1353 700L1443 814M1478 964L1378 1006M1436 794L1474 693M1217 859L1483 709M1286 925L1513 799M1227 758L1465 727M1436 794L1412 857M1286 925L1367 854M1336 749L1281 722M1188 1006L1200 791M1427 880L1286 925M1360 970L1387 711M1513 920L1127 929M1336 749L1261 890M1315 756L1412 779M1309 946L1101 966M1149 993L1300 738M1221 889L1382 885M1100 983L1270 762M1315 756L1424 691M1465 727L1191 848M1143 947L1235 953M1243 815L1286 925M1191 848L1460 848M1348 708L1228 810M1483 925L1165 856M1156 850L1391 977M1449 999L1500 958M1229 944L1227 758M1391 977L1356 771M1316 782L1353 700M1356 757L1217 819M1504 984L1421 745M1436 697L1205 930M1387 711L1333 705M1309 733L1138 896M1281 722L1266 802M1419 723L1436 697M1406 734L1397 885M1221 889L1505 761M1482 714L1138 896M1149 993L1452 812M1266 802L1313 698M1164 832L1266 802M1286 925L1205 930M1336 749L1318 742M1414 779L1270 762M1254 795L1415 990M1127 929L1419 723M1421 745L1452 802M1454 869L1489 916M1415 990L1401 740M1438 727L1500 958M1478 964L1350 727M1101 966L1195 772M1179 951L1438 831M1430 863L1513 920M1180 824L1465 970M1438 831L1101 966M1452 885L1101 966M1480 731L1327 793M1261 770L1170 966M1458 781L1205 930M1418 714L1513 902M1180 824L1189 813M1313 698L1239 966M1465 727L1354 1004M1178 810L1452 802M1430 824L1412 705M1164 832L1334 718M1254 795L1385 685M1412 705L1125 955M1287 720L1179 951M1180 824L1236 843M1430 863L1281 722M1483 709L1452 812M1438 738L1318 971M1217 859L1285 711M1412 779L1125 955M1366 703L1087 991M1336 749L1483 925M1334 718L1226 797M1327 793L1424 691M1227 758L1502 727M1136 936L1397 885M1315 756L1143 947M1205 930L1385 685M1406 734L1387 711M1483 709L1430 824M1300 738L1151 962M1482 714L1498 751M1491 734L1450 769M1474 693L1272 738M1489 916L1350 727M1414 857L1427 707M1502 727L1131 889M1136 913L1191 940M1513 857L1313 698M1482 714L1354 1004M1243 815L1418 691M1226 797L1158 940M1136 913L1243 815M1257 764L1483 925M1438 831L1112 1002M1243 815L1513 857M1345 988L1356 757M1491 734L1309 733M1427 707L1160 834M1286 925L1438 872M1334 718L1309 733M1504 984L1180 824M1318 742L1309 733M1223 911L1149 878M1354 867L1389 857M1323 819L1323 779M1188 999L1480 731M1438 738L1268 856M1228 810L1313 698M1289 742L1272 738M1281 722L1276 753M1441 878L1452 885M1458 781L1217 819M1160 834L1229 944M1127 929L1267 979M1491 734L1438 738M1438 831L1243 815M1449 999L1448 1005M1289 742L1348 708M1397 714L1465 970M1504 984L1387 711M1513 857L1441 878M1356 771L1390 966M1371 725L1232 786M1498 751L1323 819M1246 990L1189 867M1489 916L1356 771M1191 848L1355 837M1303 911L1387 711M1349 888L1205 930M1334 718L1227 758M1246 990L1227 758M1100 983L1505 761M1448 1005L1349 888M1149 878L1200 839M1353 700L1318 971M1474 693L1348 708M1261 890L1165 812M1427 707L1311 933M1317 845L1385 685M1180 824L1261 890M1289 742L1436 697M1227 758L1336 749M1412 705L1412 857M1359 982L1513 799M1221 889L1309 946M1418 714L1474 693M1257 764L1136 913M1227 758L1217 819M1424 691L1350 727M1438 831L1414 857M1474 693L1164 832M1267 979L1156 850M1427 880L1436 794M1309 733L1430 824M1217 819L1243 830M1120 870L1353 700M1513 920L1206 857M1390 966L1465 970M1261 770L1213 777M1491 734L1415 990M1502 727L1454 869M1217 765L1427 880M1354 1004L1173 845M1448 1005L1239 966M1200 839L1261 890M1189 867L1387 711M1323 727L1427 880M1243 815L1443 814M1206 857L1498 751M1425 834L1443 814M1188 1006L1414 779M1327 793L1425 834M1401 740L1458 781M1401 740L1452 885M1239 966L1354 867M1272 738L1418 714M1504 984L1401 740M1474 693L1353 700M1406 734L1290 946M1272 738L1327 793M1483 709L1356 757M1478 964L1188 999M1430 824L1143 947M1427 880L1149 878M1107 933L1213 777M1318 742L1189 867M1354 867L1191 940M1267 979L1511 894M1427 880L1200 791M1246 990L1504 984M1334 718L1136 913M1261 890L1397 885M1266 802L1387 711M1235 953L1178 810M1315 756L1243 815M1303 911L1513 857M1268 856L1165 856M1505 761L1333 705M1215 806L1406 734M1309 733L1225 740M1460 848L1414 857M1425 762L1389 857M1414 857L1217 859M1232 786L1281 722M1327 793L1114 995M1334 718L1371 725M1229 944L1189 867M1438 831L1309 733M1438 727L1421 745M1178 810L1397 714M1418 714L1323 819M1353 700L1182 878M1340 773L1286 925M1309 946L1414 709M1478 964L1213 777M1316 782L1223 911M1112 1002L1191 848M1223 911L1309 946M1217 765L1160 834M1414 857L1356 757M1200 839L1217 765M1120 870L1205 930M1387 711L1178 810M1438 831L1228 810M1236 843L1229 944M1309 946L1180 824M1443 814L1101 966M1217 859L1313 698M1287 720L1318 742M1414 857L1186 894M1223 911L1152 802M1173 845L1387 711M1101 966L1415 990M1149 993L1276 753M1356 757L1136 913M1483 709L1513 920M1129 986L1323 727M1192 966L1261 770M1149 993L1087 991M1200 791L1165 812M1345 988L1415 990M1397 714L1261 770M1215 806L1401 740M1182 878L1290 946M1246 990L1101 966M1180 824L1221 889M1483 709L1371 725M1406 734L1143 947M1236 843L1114 995M1354 1004L1243 830M1465 727L1491 734M1186 894L1356 757M1397 714L1390 966M1169 824L1371 725M1180 824L1160 834M1195 772L1143 947M1412 857L1217 819M1318 742L1300 738M1087 991L1217 859M1125 955L1136 913M1449 999L1340 773M1272 738L1107 933M1436 794L1382 885M1318 742L1266 802M1165 856L1414 857M1290 946L1401 740M1261 770L1489 916M1100 983L1114 995M1189 867L1232 786M1143 947L1333 705M1513 799L1425 834M1136 936L1418 691M1443 814L1101 966M1454 869L1188 1006M1401 705L1474 693M1430 824L1165 812M1170 966L1498 857M1480 758L1316 782M1438 831L1309 946M1323 779L1235 953M1397 885L1188 1006M1285 711L1223 911M1460 848L1438 831M1232 786L1513 902M1189 813L1366 703M1458 781L1136 913M1500 958L1289 742M1107 933L1243 830M1412 705L1120 870M1415 990L1316 782M1228 810L1354 867M1378 1006L1412 857M1421 745L1254 795M1418 714L1179 951M1418 691L1438 872M1217 765L1353 700M1290 946L1114 995M1165 812L1418 714M1087 991L1196 911M1143 947L1354 1004M1129 986L1430 863M1217 819L1505 761M1243 830L1228 810M1101 966L1254 795M1389 857L1127 929M1165 887L1178 810M1397 885L1401 705M1267 979L1213 777M1261 890L1318 971M1513 857L1483 925M1348 708L1438 727M1196 911L1227 758M1180 824L1385 685M1412 779L1480 731M1206 857L1480 731M1127 929L1100 983M1482 714L1445 711M1513 920L1229 944M1316 782L1206 857M1180 824L1482 714M1261 770L1149 878M1328 986L1386 795M1316 782L1160 834M1356 771L1449 747M1397 885L1448 1005M1371 725L1217 765M1165 812L1359 982M1217 765L1289 742M1421 745L1107 933M1267 979L1191 848M1438 727L1414 857M1178 810L1386 795M1354 1004L1182 878M1513 920L1267 979M1334 718L1350 727M1391 977L1336 749M1366 703L1131 889M1406 734L1120 870M1448 1005L1200 791M1316 782L1360 970M1406 734L1424 691M1186 894L1355 837M1414 857L1425 834M1489 916L1136 936M1421 745L1276 753M1232 990L1164 832M1170 966L1460 848M1424 691L1425 762M1441 878L1223 911M1160 834L1483 709M1228 810L1391 977M1272 738L1414 779M1191 848L1419 723M1205 930L1232 786M1452 885L1189 867M1443 814L1152 802M1318 971L1309 946M1169 824L1189 867M1438 872L1406 734M1513 902L1188 1006M1371 725L1505 761M1441 878L1101 966M1217 819L1430 863M1349 888L1333 705M1246 990L1100 983M1261 890L1438 872M1483 925L1430 824M1232 786L1125 955M1349 888L1165 812M1390 966L1309 733M1243 815L1414 709M1267 979L1179 951M1356 771L1378 1006M1165 812L1223 911M1112 1002L1483 925M1290 946L1205 930M1414 857L1188 999M1309 946L1270 762M1236 843L1452 812M1243 830L1182 878M1356 757L1412 705M1143 947L1356 771M1192 966L1502 727M1360 970L1430 824M1272 738L1101 966M1421 745L1127 929M1268 856L1438 738M1414 709L1311 933M1323 902L1489 916M1391 977L1412 857M1200 791L1114 995M1452 885L1366 703M1227 758L1239 966M1223 911L1276 753M1436 794L1131 889M1445 711L1443 814M1266 802L1452 802M1200 839L1489 916M1414 779L1243 806M1223 911L1354 867M1438 831L1189 867M1227 758L1418 714M1458 781L1127 929M1498 857L1425 762M1281 722L1243 806M1353 700L1450 769M1436 697L1318 971M1500 958L1482 714M1165 887L1387 711M1401 740L1313 698M1200 791L1300 738M1511 894L1200 839M1313 698L1200 791M1189 813L1200 791M1217 859L1513 920M1152 802L1366 703M1418 691L1276 753M1300 738L1309 733M1243 806L1386 795M1101 966L1268 856M1406 734L1160 834M1303 911L1382 885M1131 889L1328 986M1378 1006L1087 991M1206 857L1268 856M1371 725L1300 738M1217 859L1227 758M1217 859L1323 727M1418 714L1505 761M1350 727L1511 894M1718 1062L1726 975M1718 1062L1673 870M1718 1062L1537 1266M1718 1062L1597 1222M1718 1062L1415 1119M1718 1062L1561 1006M1718 1062L1441 1111M1718 1062L1707 1107M1718 1062L1663 889M1718 1062L1630 925M1718 1062L1649 1163M1718 1062L1584 1132M1718 1062L1632 811M1718 1062L1579 1242M1718 1062L1663 896M1718 1062L1463 1208M1718 1062L1514 1046M1718 1062L1590 1031M1718 1062L1504 984M1718 1062L1583 1213M1718 1062L1608 782M1718 1062L1638 956M1718 1062L1449 999M1718 1062L1651 824M1718 1062L1634 1086M1718 1062L1513 857M1718 1062L1669 810M1718 1062L1610 1184M1718 1062L1690 883M1718 1062L1510 1274M1718 1062L1481 1067M1718 1062L1632 1077M1718 1062L1662 958M1718 1062L1640 1232M1718 1062L1498 857M1718 1062L1469 1189M1718 1062L1582 1220M1718 1062L1465 1133M1718 1062L1610 1058M1718 1062L1649 885M1718 1062L1597 779M1718 1062L1596 918M1718 1062L1599 1178M1718 1062L1564 940M1718 1062L1608 879M1649 885L1708 1045M1649 885L1682 947M1649 885L1513 799M1649 885L1643 1132M1649 885L1430 824M1649 885L1500 958M1649 885L1513 920M1649 885L1548 986M1649 885L1561 1000M1649 885L1460 848M1649 885L1707 1107M1649 885L1390 966M1649 885L1354 867M1649 885L1608 740M1649 885L1666 1166M1649 885L1355 837M1649 885L1629 782M1649 885L1504 984M1649 885L1632 811M1649 885L1608 782M1649 885L1479 1039M1649 885L1704 1090M1649 885L1516 1085M1649 885L1673 935M1649 885L1669 1030M1649 885L1528 756M1649 885L1546 745M1649 885L1581 782M1649 885L1651 824M1649 885L1580 1059M1512 1264L1281 1285M1512 1264L1265 1179M1512 1264L1246 1218M1512 1264L1400 1072M1512 1264L1298 1250M1512 1264L1481 1067M1512 1264L1424 1266M1512 1264L1353 1325M1512 1264L1520 1211M1512 1264L1544 1185M1512 1264L1487 1188M1512 1264L1500 1207M1512 1264L1562 1270M1512 1264L1373 1301M1512 1264L1643 1022M1512 1264L1393 1307M1512 1264L1416 1119M1512 1264L1560 1196M1512 1264L1356 1295M1512 1264L1401 1047M1512 1264L1601 1196M1512 1264L1469 1253M1512 1264L1415 1119M1512 1264L1318 1296M1512 1264L1366 1041M1512 1264L1289 1307M1512 1264L1602 1099M1512 1264L1217 1261M1512 1264L1227 1211M1512 1264L1309 1215M1512 1264L1629 1199M1512 1264L1233 1272M1512 1264L1416 1312M1512 1264L1449 999M1512 1264L1382 1234M1276 753L1309 946M1276 753L1227 758M1276 753L1378 1006M1276 753L1445 711M1276 753L1452 885M1276 753L1465 727M1276 753L1245 1058M1276 753L1192 966M1276 753L1414 857M1276 753L1287 1062M1276 753L1156 850M1276 753L1419 723M1276 753L1286 925M1276 753L1331 1011M1276 753L1318 742M1276 753L1386 795M1276 753L1430 824M1276 753L1323 727M1276 753L1581 782M1276 753L1390 966M1276 753L1087 991M1276 753L1169 824M1276 753L1309 1028M1276 753L1323 819M1276 753L1199 1020M1276 753L1535 822M1276 753L1483 709M1276 753L1217 859M1276 753L1188 999M1276 753L1290 946M1276 753L1160 834M1276 753L1427 880M1276 753L1138 896M1276 753L1441 878M1276 753L1328 986M1276 753L1438 738M1276 753L1129 986M1276 753L1511 894M1276 753L1311 933M1276 753L1575 768M1136 936L1200 791M1136 936L1178 810M1136 936L1245 1058M1136 936L1243 815M1136 936L1328 986M1136 936L1189 867M1136 936L1225 740M1136 936L1119 1112M1136 936L1191 848M1136 936L1226 797M1136 936L1287 1062M1136 936L1323 779M1136 936L1232 990M1136 936L1215 806M1136 936L1160 834M1136 936L1151 1044M1136 936L1215 1092M1136 936L1266 802M1136 936L1182 878M1136 936L1215 1016M1136 936L1243 830M1136 936L1135 1186M1136 936L1252 1149M1136 936L1359 982M1136 936L1236 1158M1136 936L1189 813M1136 936L1228 810M1136 936L1087 991M1136 936L1173 845M1136 936L1277 1031M1136 936L1131 889M1136 936L1186 894M1136 936L1323 819M1136 936L1317 845M1136 936L1189 1020M1285 711L1138 896M1285 711L1223 911M1285 711L1239 966M1285 711L1412 779M1285 711L1149 878M1285 711L1160 834M1285 711L1502 727M1285 711L1323 779M1285 711L1257 764M1285 711L1131 889M1285 711L1328 986M1285 711L1474 693M1285 711L1189 867M1285 711L1243 830M1285 711L1524 782M1285 711L1382 885M1285 711L1424 691M1285 711L1359 982M1285 711L1165 812M1285 711L1227 758M1285 711L1178 810M1285 711L1456 711M1285 711L1316 782M1285 711L1438 738M1285 711L1489 916M1551 731L1414 779M1551 731L1387 711M1551 731L1458 781M1551 731L1708 913M1551 731L1669 859M1551 731L1355 837M1551 731L1504 984M1551 731L1513 799M1551 731L1524 782M1551 731L1397 885M1551 731L1430 824M1551 731L1436 697M1551 731L1498 857M1551 731L1371 725M1551 731L1385 685M1551 731L1438 738M1551 731L1662 958M1551 731L1438 831M1551 731L1333 705M1551 731L1539 966" stroke="#8C8C8C" stroke-width="0.6" fill="none" stroke-opacity="0.95"/>
<path d="M1274.0 723.0C1276.0 655.0 1330.0 655.0 1334.0 700.0M1275.0 723.0C1276.8 659.4 1328.8 659.4 1333.0 700.0M1276.0 723.0C1277.5 663.8 1327.5 663.8 1332.0 700.0M1277.0 723.0C1278.2 668.1 1326.2 668.1 1331.0 700.0M1278.0 723.0C1279.0 672.5 1325.0 672.5 1330.0 700.0M1279.0 723.0C1279.8 676.9 1323.8 676.9 1329.0 700.0M1280.0 723.0C1280.5 681.2 1322.5 681.2 1328.0 700.0M1281.0 723.0C1281.2 685.6 1321.2 685.6 1327.0 700.0M1282.0 723.0C1282.0 690.0 1320.0 690.0 1326.0 700.0M1158.0 808.0C1128.0 815.0 1126.0 866.0 1156.0 868.0M1158.0 808.9C1130.0 815.7 1128.0 865.1 1156.0 867.1M1158.0 809.7C1132.0 816.4 1130.0 864.3 1156.0 866.3M1158.0 810.6C1134.0 817.1 1132.0 863.4 1156.0 865.4M1158.0 811.4C1136.0 817.9 1134.0 862.6 1156.0 864.6M1158.0 812.3C1138.0 818.6 1136.0 861.7 1156.0 863.7M1158.0 813.1C1140.0 819.3 1138.0 860.9 1156.0 862.9M1158.0 814.0C1142.0 820.0 1140.0 860.0 1156.0 862.0M1125.0 892.0C1086.0 896.0 1088.0 936.0 1118.0 936.0M1125.0 892.8C1088.3 896.8 1090.3 935.2 1118.0 935.2M1125.0 893.7C1090.7 897.7 1092.7 934.3 1118.0 934.3M1125.0 894.5C1093.0 898.5 1095.0 933.5 1118.0 933.5M1125.0 895.3C1095.3 899.3 1097.3 932.7 1118.0 932.7M1125.0 896.2C1097.7 900.2 1099.7 931.8 1118.0 931.8M1125.0 897.0C1100.0 901.0 1102.0 931.0 1118.0 931.0M1372.0 702.0C1390.0 662.0 1462.0 662.0 1482.0 700.0M1374.1 702.0C1391.7 665.1 1460.9 665.1 1481.1 700.0M1376.3 702.0C1393.4 668.3 1459.7 668.3 1480.3 700.0M1378.4 702.0C1395.1 671.4 1458.6 671.4 1479.4 700.0M1380.6 702.0C1396.9 674.6 1457.4 674.6 1478.6 700.0M1382.7 702.0C1398.6 677.7 1456.3 677.7 1477.7 700.0M1384.9 702.0C1400.3 680.9 1455.1 680.9 1476.9 700.0M1387.0 702.0C1402.0 684.0 1454.0 684.0 1476.0 700.0" stroke="#8C8C8C" stroke-width="0.7" fill="none"/>
<circle cx="1387.0" cy="691.4" r="8.6" fill="#6FAAD4"/><circle cx="1279.5" cy="725.9" r="8.6" fill="#6FAAD4"/><circle cx="1271.2" cy="744.1" r="8.6" fill="#6FAAD4"/><circle cx="1297.2" cy="741.2" r="8.6" fill="#6FAAD4"/><circle cx="1320.1" cy="752.2" r="8.6" fill="#6FAAD4"/><circle cx="1278.4" cy="763.2" r="8.6" fill="#6FAAD4"/><circle cx="1221.3" cy="761.2" r="8.6" fill="#6FAAD4"/><circle cx="1224.5" cy="765.0" r="8.6" fill="#6FAAD4"/><circle cx="1212.8" cy="784.7" r="8.6" fill="#6FAAD4"/><circle cx="1233.8" cy="803.0" r="8.6" fill="#6FAAD4"/><circle cx="1183.9" cy="813.6" r="8.6" fill="#6FAAD4"/><circle cx="1192.3" cy="819.5" r="8.6" fill="#6FAAD4"/><circle cx="1166.7" cy="825.6" r="8.6" fill="#6FAAD4"/><circle cx="1189.1" cy="857.0" r="8.6" fill="#6FAAD4"/><circle cx="1191.0" cy="874.5" r="8.6" fill="#6FAAD4"/><circle cx="1128.2" cy="863.1" r="8.6" fill="#6FAAD4"/><circle cx="1108.0" cy="959.0" r="8.6" fill="#6FAAD4"/><circle cx="1103.7" cy="974.5" r="8.6" fill="#6FAAD4"/><circle cx="1162.2" cy="844.7" r="8.6" fill="#6FAAD4"/><circle cx="1418.9" cy="714.1" r="8.6" fill="#6FAAD4"/><circle cx="1486.4" cy="736.4" r="8.6" fill="#6FAAD4"/><circle cx="1487.3" cy="743.2" r="8.6" fill="#6FAAD4"/><circle cx="1571.3" cy="777.0" r="8.6" fill="#6FAAD4"/><circle cx="1591.3" cy="785.0" r="8.6" fill="#6FAAD4"/><circle cx="1623.2" cy="813.4" r="8.6" fill="#6FAAD4"/><circle cx="1637.8" cy="816.7" r="8.6" fill="#6FAAD4"/><circle cx="1630.9" cy="852.5" r="8.6" fill="#6FAAD4"/><circle cx="1672.2" cy="910.8" r="8.6" fill="#6FAAD4"/><circle cx="1707.5" cy="903.8" r="8.6" fill="#6FAAD4"/><circle cx="1682.0" cy="940.7" r="8.6" fill="#6FAAD4"/><circle cx="1686.4" cy="943.5" r="8.6" fill="#6FAAD4"/><circle cx="1691.8" cy="981.6" r="8.6" fill="#6FAAD4"/><circle cx="1128.0" cy="1016.1" r="8.6" fill="#6FAAD4"/><circle cx="1109.7" cy="1020.6" r="8.6" fill="#6FAAD4"/><circle cx="1169.1" cy="1064.9" r="8.6" fill="#6FAAD4"/><circle cx="1172.0" cy="1094.1" r="8.6" fill="#6FAAD4"/><circle cx="1136.3" cy="1132.7" r="8.6" fill="#6FAAD4"/><circle cx="1146.2" cy="1131.4" r="8.6" fill="#6FAAD4"/><circle cx="1184.4" cy="1143.9" r="8.6" fill="#6FAAD4"/><circle cx="1222.7" cy="1206.8" r="8.6" fill="#6FAAD4"/><circle cx="1218.6" cy="1212.9" r="8.6" fill="#6FAAD4"/><circle cx="1183.2" cy="1232.1" r="8.6" fill="#6FAAD4"/><circle cx="1200.0" cy="1244.3" r="8.6" fill="#6FAAD4"/><circle cx="1240.6" cy="1230.7" r="8.6" fill="#6FAAD4"/><circle cx="1259.2" cy="1236.5" r="8.6" fill="#6FAAD4"/><circle cx="1283.8" cy="1243.7" r="8.6" fill="#6FAAD4"/><circle cx="1299.6" cy="1259.1" r="8.6" fill="#6FAAD4"/><circle cx="1226.9" cy="1276.0" r="8.6" fill="#6FAAD4"/><circle cx="1259.2" cy="1269.5" r="8.6" fill="#6FAAD4"/><circle cx="1332.7" cy="1272.3" r="8.6" fill="#6FAAD4"/><circle cx="1409.2" cy="1275.6" r="8.6" fill="#6FAAD4"/><circle cx="1312.5" cy="1288.0" r="8.6" fill="#6FAAD4"/><circle cx="1363.7" cy="1299.7" r="8.6" fill="#6FAAD4"/><circle cx="1386.9" cy="1305.7" r="8.6" fill="#6FAAD4"/><circle cx="1406.8" cy="1297.2" r="8.6" fill="#6FAAD4"/><circle cx="1420.5" cy="1304.4" r="8.6" fill="#6FAAD4"/><circle cx="1294.9" cy="1309.3" r="8.6" fill="#6FAAD4"/><circle cx="1346.2" cy="1321.5" r="8.6" fill="#6FAAD4"/><circle cx="1684.9" cy="1010.1" r="8.6" fill="#6FAAD4"/><circle cx="1691.7" cy="1026.1" r="8.6" fill="#6FAAD4"/><circle cx="1697.9" cy="1032.5" r="8.6" fill="#6FAAD4"/><circle cx="1699.9" cy="1079.8" r="8.6" fill="#6FAAD4"/><circle cx="1685.4" cy="1100.3" r="8.6" fill="#6FAAD4"/><circle cx="1671.1" cy="1109.6" r="8.6" fill="#6FAAD4"/><circle cx="1623.7" cy="1138.9" r="8.6" fill="#6FAAD4"/><circle cx="1683.3" cy="1140.6" r="8.6" fill="#6FAAD4"/><circle cx="1672.3" cy="1140.5" r="8.6" fill="#6FAAD4"/><circle cx="1686.7" cy="1151.4" r="8.6" fill="#6FAAD4"/><circle cx="1558.3" cy="1212.3" r="8.6" fill="#6FAAD4"/><circle cx="1583.8" cy="1213.6" r="8.6" fill="#6FAAD4"/><circle cx="1488.5" cy="1250.6" r="8.6" fill="#6FAAD4"/><circle cx="1573.2" cy="1242.0" r="8.6" fill="#6FAAD4"/><circle cx="1461.2" cy="1249.8" r="8.6" fill="#6FAAD4"/><circle cx="1503.1" cy="1256.5" r="8.6" fill="#6FAAD4"/><circle cx="1560.8" cy="1283.7" r="8.6" fill="#6FAAD4"/><circle cx="1406.2" cy="1308.8" r="8.6" fill="#6FAAD4"/><circle cx="1426.5" cy="1313.5" r="8.6" fill="#6FAAD4"/><circle cx="1384.9" cy="684.9" r="8.6" fill="#6FAAD4"/><circle cx="1313.3" cy="697.7" r="8.6" fill="#6FAAD4"/><circle cx="1333.5" cy="705.1" r="8.6" fill="#A0D69B"/><circle cx="1352.8" cy="700.5" r="8.6" fill="#A0D69B"/><circle cx="1365.6" cy="703.3" r="8.6" fill="#6FAAD4"/><circle cx="1348.2" cy="707.8" r="8.6" fill="#6FAAD4"/><circle cx="1418.0" cy="691.3" r="8.6" fill="#A0D69B"/><circle cx="1386.7" cy="710.6" r="8.6" fill="#A0D69B"/><circle cx="1400.5" cy="705.1" r="8.6" fill="#6FAAD4"/><circle cx="1411.5" cy="705.1" r="8.6" fill="#6FAAD4"/><circle cx="1284.8" cy="710.6" r="8.6" fill="#6FAAD4"/><circle cx="1281.2" cy="721.6" r="8.6" fill="#A0D69B"/><circle cx="1286.7" cy="719.8" r="8.6" fill="#6FAAD4"/><circle cx="1350.0" cy="727.1" r="8.6" fill="#6FAAD4"/><circle cx="1371.1" cy="725.3" r="8.6" fill="#A0D69B"/><circle cx="1396.8" cy="714.3" r="8.6" fill="#6FAAD4"/><circle cx="1418.0" cy="714.3" r="8.6" fill="#6FAAD4"/><circle cx="1400.5" cy="740.0" r="8.6" fill="#6FAAD4"/><circle cx="1406.0" cy="734.5" r="8.6" fill="#A0D69B"/><circle cx="1272.0" cy="738.1" r="8.6" fill="#6FAAD4"/><circle cx="1288.5" cy="741.8" r="8.6" fill="#6FAAD4"/><circle cx="1299.5" cy="738.1" r="8.6" fill="#6FAAD4"/><circle cx="1308.7" cy="732.6" r="8.6" fill="#6FAAD4"/><circle cx="1323.4" cy="727.1" r="8.6" fill="#6FAAD4"/><circle cx="1334.4" cy="717.9" r="8.6" fill="#6FAAD4"/><circle cx="1317.9" cy="741.8" r="8.6" fill="#6FAAD4"/><circle cx="1336.3" cy="749.2" r="8.6" fill="#6FAAD4"/><circle cx="1315.1" cy="755.6" r="8.6" fill="#6FAAD4"/><circle cx="1356.4" cy="756.5" r="8.6" fill="#6FAAD4"/><circle cx="1275.7" cy="752.8" r="8.6" fill="#A0D69B"/><circle cx="1261.0" cy="770.3" r="8.6" fill="#A0D69B"/><circle cx="1257.3" cy="763.8" r="8.6" fill="#6FAAD4"/><circle cx="1270.1" cy="762.0" r="8.6" fill="#6FAAD4"/><circle cx="1339.9" cy="773.0" r="8.6" fill="#6FAAD4"/><circle cx="1356.4" cy="771.2" r="8.6" fill="#6FAAD4"/><circle cx="1316.1" cy="782.2" r="8.6" fill="#6FAAD4"/><circle cx="1327.1" cy="793.2" r="8.6" fill="#6FAAD4"/><circle cx="1323.4" cy="778.5" r="8.6" fill="#6FAAD4"/><circle cx="1385.8" cy="795.1" r="8.6" fill="#6FAAD4"/><circle cx="1411.5" cy="778.5" r="8.6" fill="#A0D69B"/><circle cx="1225.2" cy="740.0" r="8.6" fill="#6FAAD4"/><circle cx="1227.0" cy="758.3" r="8.6" fill="#6FAAD4"/><circle cx="1216.9" cy="764.8" r="8.6" fill="#6FAAD4"/><circle cx="1194.9" cy="772.1" r="8.6" fill="#6FAAD4"/><circle cx="1200.4" cy="791.4" r="8.6" fill="#6FAAD4"/><circle cx="1213.2" cy="776.7" r="8.6" fill="#6FAAD4"/><circle cx="1231.6" cy="785.9" r="8.6" fill="#6FAAD4"/><circle cx="1226.1" cy="796.9" r="8.6" fill="#6FAAD4"/><circle cx="1215.1" cy="806.1" r="8.6" fill="#A0D69B"/><circle cx="1227.9" cy="809.8" r="8.6" fill="#6FAAD4"/><circle cx="1242.6" cy="806.1" r="8.6" fill="#A0D69B"/><circle cx="1253.6" cy="795.1" r="8.6" fill="#6FAAD4"/><circle cx="1265.6" cy="802.4" r="8.6" fill="#6FAAD4"/><circle cx="1242.6" cy="815.3" r="8.6" fill="#6FAAD4"/><circle cx="1216.9" cy="818.9" r="8.6" fill="#A0D69B"/><circle cx="1242.6" cy="829.9" r="8.6" fill="#6FAAD4"/><circle cx="1236.2" cy="842.8" r="8.6" fill="#6FAAD4"/><circle cx="1178.3" cy="809.8" r="8.6" fill="#6FAAD4"/><circle cx="1189.4" cy="813.4" r="8.6" fill="#6FAAD4"/><circle cx="1165.5" cy="811.6" r="8.6" fill="#6FAAD4"/><circle cx="1151.7" cy="802.4" r="8.6" fill="#6FAAD4"/><circle cx="1180.2" cy="824.4" r="8.6" fill="#6FAAD4"/><circle cx="1163.6" cy="831.8" r="8.6" fill="#6FAAD4"/><circle cx="1200.4" cy="839.1" r="8.6" fill="#A0D69B"/><circle cx="1191.2" cy="848.3" r="8.6" fill="#6FAAD4"/><circle cx="1189.4" cy="866.7" r="8.6" fill="#6FAAD4"/><circle cx="1205.9" cy="857.5" r="8.6" fill="#6FAAD4"/><circle cx="1216.9" cy="859.3" r="8.6" fill="#6FAAD4"/><circle cx="1182.0" cy="877.7" r="8.6" fill="#A0D69B"/><circle cx="1165.5" cy="886.9" r="8.6" fill="#A0D69B"/><circle cx="1149.0" cy="877.7" r="8.6" fill="#6FAAD4"/><circle cx="1164.6" cy="855.7" r="8.6" fill="#6FAAD4"/><circle cx="1172.8" cy="844.6" r="8.6" fill="#A0D69B"/><circle cx="1120.5" cy="870.3" r="8.6" fill="#6FAAD4"/><circle cx="1130.6" cy="888.7" r="8.6" fill="#A0D69B"/><circle cx="1323.4" cy="818.9" r="8.6" fill="#A0D69B"/><circle cx="1354.6" cy="837.3" r="8.6" fill="#A0D69B"/><circle cx="1353.7" cy="866.7" r="8.6" fill="#A0D69B"/><circle cx="1366.5" cy="853.8" r="8.6" fill="#6FAAD4"/><circle cx="1388.6" cy="857.5" r="8.6" fill="#6FAAD4"/><circle cx="1411.5" cy="857.5" r="8.6" fill="#6FAAD4"/><circle cx="1382.2" cy="885.0" r="8.6" fill="#6FAAD4"/><circle cx="1396.8" cy="885.0" r="8.6" fill="#6FAAD4"/><circle cx="1349.1" cy="887.8" r="8.6" fill="#6FAAD4"/><circle cx="1317.0" cy="844.6" r="8.6" fill="#6FAAD4"/><circle cx="1268.3" cy="855.7" r="8.6" fill="#6FAAD4"/><circle cx="1220.6" cy="888.7" r="8.6" fill="#6FAAD4"/><circle cx="1261.0" cy="889.6" r="8.6" fill="#6FAAD4"/><circle cx="1323.4" cy="902.5" r="8.6" fill="#6FAAD4"/><circle cx="1303.2" cy="910.7" r="8.6" fill="#A0D69B"/><circle cx="1285.8" cy="925.4" r="8.6" fill="#A0D69B"/><circle cx="1310.5" cy="932.8" r="8.6" fill="#6FAAD4"/><circle cx="1290.3" cy="945.6" r="8.6" fill="#6FAAD4"/><circle cx="1308.7" cy="945.6" r="8.6" fill="#6FAAD4"/><circle cx="1223.3" cy="910.7" r="8.6" fill="#6FAAD4"/><circle cx="1195.8" cy="910.7" r="8.6" fill="#A0D69B"/><circle cx="1185.7" cy="894.2" r="8.6" fill="#6FAAD4"/><circle cx="1205.0" cy="930.0" r="8.6" fill="#A0D69B"/><circle cx="1228.8" cy="943.8" r="8.6" fill="#A0D69B"/><circle cx="1235.3" cy="953.0" r="8.6" fill="#6FAAD4"/><circle cx="1238.9" cy="965.8" r="8.6" fill="#6FAAD4"/><circle cx="1191.2" cy="940.1" r="8.6" fill="#6FAAD4"/><circle cx="1179.3" cy="951.1" r="8.6" fill="#6FAAD4"/><circle cx="1192.1" cy="965.8" r="8.6" fill="#6FAAD4"/><circle cx="1267.4" cy="978.7" r="8.6" fill="#A0D69B"/><circle cx="1317.9" cy="971.3" r="8.6" fill="#6FAAD4"/><circle cx="1328.0" cy="986.0" r="8.6" fill="#6FAAD4"/><circle cx="1360.1" cy="969.5" r="8.6" fill="#A0D69B"/><circle cx="1359.2" cy="982.4" r="8.6" fill="#6FAAD4"/><circle cx="1345.4" cy="987.9" r="8.6" fill="#6FAAD4"/><circle cx="1389.5" cy="965.8" r="8.6" fill="#6FAAD4"/><circle cx="1391.3" cy="976.8" r="8.6" fill="#6FAAD4"/><circle cx="1415.2" cy="989.7" r="8.6" fill="#6FAAD4"/><circle cx="1246.3" cy="989.7" r="8.6" fill="#6FAAD4"/><circle cx="1231.6" cy="989.7" r="8.6" fill="#6FAAD4"/><circle cx="1106.7" cy="932.8" r="8.6" fill="#6FAAD4"/><circle cx="1126.9" cy="929.1" r="8.6" fill="#A0D69B"/><circle cx="1136.1" cy="912.6" r="8.6" fill="#6FAAD4"/><circle cx="1137.9" cy="896.1" r="8.6" fill="#6FAAD4"/><circle cx="1125.1" cy="954.8" r="8.6" fill="#6FAAD4"/><circle cx="1101.2" cy="965.8" r="8.6" fill="#6FAAD4"/><circle cx="1100.3" cy="983.3" r="8.6" fill="#6FAAD4"/><circle cx="1087.4" cy="990.6" r="8.6" fill="#6FAAD4"/><circle cx="1114.1" cy="995.2" r="8.6" fill="#6FAAD4"/><circle cx="1149.0" cy="993.4" r="8.6" fill="#6FAAD4"/><circle cx="1128.8" cy="986.0" r="8.6" fill="#A0D69B"/><circle cx="1187.5" cy="998.9" r="8.6" fill="#A0D69B"/><circle cx="1170.1" cy="965.8" r="8.6" fill="#6FAAD4"/><circle cx="1150.8" cy="962.2" r="8.6" fill="#6FAAD4"/><circle cx="1158.1" cy="940.1" r="8.6" fill="#6FAAD4"/><circle cx="1143.4" cy="947.5" r="8.6" fill="#6FAAD4"/><circle cx="1136.1" cy="936.4" r="8.6" fill="#6FAAD4"/><circle cx="1156.3" cy="850.1" r="8.6" fill="#6FAAD4"/><circle cx="1160.0" cy="833.6" r="8.6" fill="#6FAAD4"/><circle cx="1169.2" cy="824.4" r="8.6" fill="#6FAAD4"/><circle cx="1423.8" cy="691.3" r="8.6" fill="#A0D69B"/><circle cx="1435.7" cy="696.8" r="8.6" fill="#6FAAD4"/><circle cx="1474.3" cy="693.2" r="8.6" fill="#6FAAD4"/><circle cx="1413.7" cy="708.8" r="8.6" fill="#6FAAD4"/><circle cx="1426.5" cy="706.9" r="8.6" fill="#6FAAD4"/><circle cx="1444.9" cy="710.6" r="8.6" fill="#6FAAD4"/><circle cx="1455.9" cy="710.6" r="8.6" fill="#6FAAD4"/><circle cx="1482.5" cy="708.8" r="8.6" fill="#6FAAD4"/><circle cx="1481.6" cy="714.3" r="8.6" fill="#A0D69B"/><circle cx="1465.1" cy="727.1" r="8.6" fill="#6FAAD4"/><circle cx="1437.5" cy="727.1" r="8.6" fill="#A0D69B"/><circle cx="1419.2" cy="723.4" r="8.6" fill="#6FAAD4"/><circle cx="1437.5" cy="738.1" r="8.6" fill="#6FAAD4"/><circle cx="1448.6" cy="747.3" r="8.6" fill="#A0D69B"/><circle cx="1421.0" cy="745.5" r="8.6" fill="#6FAAD4"/><circle cx="1424.7" cy="762.0" r="8.6" fill="#6FAAD4"/><circle cx="1413.7" cy="778.5" r="8.6" fill="#A0D69B"/><circle cx="1450.4" cy="769.4" r="8.6" fill="#6FAAD4"/><circle cx="1457.7" cy="781.3" r="8.6" fill="#6FAAD4"/><circle cx="1479.8" cy="758.3" r="8.6" fill="#6FAAD4"/><circle cx="1479.8" cy="730.8" r="8.6" fill="#6FAAD4"/><circle cx="1490.8" cy="734.5" r="8.6" fill="#6FAAD4"/><circle cx="1501.8" cy="727.1" r="8.6" fill="#6FAAD4"/><circle cx="1498.1" cy="751.0" r="8.6" fill="#A0D69B"/><circle cx="1505.5" cy="761.1" r="8.6" fill="#6FAAD4"/><circle cx="1534.9" cy="712.4" r="8.6" fill="#6FAAD4"/><circle cx="1529.4" cy="718.9" r="8.6" fill="#A0D69B"/><circle cx="1538.5" cy="729.0" r="8.6" fill="#A0D69B"/><circle cx="1551.4" cy="730.8" r="8.6" fill="#6FAAD4"/><circle cx="1536.7" cy="738.1" r="8.6" fill="#6FAAD4"/><circle cx="1545.9" cy="745.5" r="8.6" fill="#6FAAD4"/><circle cx="1564.2" cy="740.0" r="8.6" fill="#6FAAD4"/><circle cx="1527.5" cy="755.6" r="8.6" fill="#6FAAD4"/><circle cx="1575.3" cy="752.8" r="8.6" fill="#6FAAD4"/><circle cx="1575.3" cy="767.5" r="8.6" fill="#6FAAD4"/><circle cx="1580.8" cy="782.2" r="8.6" fill="#6FAAD4"/><circle cx="1597.3" cy="778.5" r="8.6" fill="#6FAAD4"/><circle cx="1608.3" cy="782.2" r="8.6" fill="#6FAAD4"/><circle cx="1619.3" cy="782.2" r="8.6" fill="#6FAAD4"/><circle cx="1629.4" cy="782.2" r="8.6" fill="#6FAAD4"/><circle cx="1589.9" cy="742.7" r="8.6" fill="#A0D69B"/><circle cx="1608.3" cy="740.0" r="8.6" fill="#A0D69B"/><circle cx="1523.8" cy="782.2" r="8.6" fill="#6FAAD4"/><circle cx="1545.9" cy="790.5" r="8.6" fill="#A0D69B"/><circle cx="1512.8" cy="798.7" r="8.6" fill="#6FAAD4"/><circle cx="1435.7" cy="794.1" r="8.6" fill="#6FAAD4"/><circle cx="1452.2" cy="802.4" r="8.6" fill="#6FAAD4"/><circle cx="1452.2" cy="811.6" r="8.6" fill="#6FAAD4"/><circle cx="1443.1" cy="814.3" r="8.6" fill="#A0D69B"/><circle cx="1430.2" cy="823.5" r="8.6" fill="#6FAAD4"/><circle cx="1437.5" cy="830.9" r="8.6" fill="#A0D69B"/><circle cx="1424.7" cy="833.6" r="8.6" fill="#6FAAD4"/><circle cx="1534.9" cy="821.7" r="8.6" fill="#6FAAD4"/><circle cx="1558.7" cy="817.1" r="8.6" fill="#6FAAD4"/><circle cx="1567.9" cy="815.3" r="8.6" fill="#A0D69B"/><circle cx="1595.5" cy="824.4" r="8.6" fill="#A0D69B"/><circle cx="1619.3" cy="806.1" r="8.6" fill="#6FAAD4"/><circle cx="1632.2" cy="810.7" r="8.6" fill="#6FAAD4"/><circle cx="1617.5" cy="818.9" r="8.6" fill="#6FAAD4"/><circle cx="1659.7" cy="806.1" r="8.6" fill="#A0D69B"/><circle cx="1668.9" cy="809.8" r="8.6" fill="#A0D69B"/><circle cx="1657.9" cy="816.2" r="8.6" fill="#6FAAD4"/><circle cx="1650.5" cy="823.5" r="8.6" fill="#A0D69B"/><circle cx="1628.5" cy="831.8" r="8.6" fill="#6FAAD4"/><circle cx="1626.7" cy="848.3" r="8.6" fill="#A0D69B"/><circle cx="1632.2" cy="843.7" r="8.6" fill="#6FAAD4"/><circle cx="1643.2" cy="843.7" r="8.6" fill="#6FAAD4"/><circle cx="1459.6" cy="848.3" r="8.6" fill="#6FAAD4"/><circle cx="1413.7" cy="857.5" r="8.6" fill="#6FAAD4"/><circle cx="1498.1" cy="857.5" r="8.6" fill="#6FAAD4"/><circle cx="1512.8" cy="856.6" r="8.6" fill="#6FAAD4"/><circle cx="1430.2" cy="863.0" r="8.6" fill="#6FAAD4"/><circle cx="1437.5" cy="872.2" r="8.6" fill="#6FAAD4"/><circle cx="1441.2" cy="877.7" r="8.6" fill="#A0D69B"/><circle cx="1454.1" cy="868.5" r="8.6" fill="#6FAAD4"/><circle cx="1426.5" cy="879.5" r="8.6" fill="#6FAAD4"/><circle cx="1452.2" cy="885.0" r="8.6" fill="#6FAAD4"/><circle cx="1608.3" cy="878.6" r="8.6" fill="#6FAAD4"/><circle cx="1551.4" cy="888.7" r="8.6" fill="#6FAAD4"/><circle cx="1511.0" cy="894.2" r="8.6" fill="#6FAAD4"/><circle cx="1512.8" cy="901.6" r="8.6" fill="#A0D69B"/><circle cx="1654.2" cy="859.3" r="8.6" fill="#6FAAD4"/><circle cx="1668.9" cy="859.3" r="8.6" fill="#6FAAD4"/><circle cx="1672.6" cy="870.3" r="8.6" fill="#6FAAD4"/><circle cx="1652.4" cy="874.0" r="8.6" fill="#6FAAD4"/><circle cx="1648.7" cy="885.0" r="8.6" fill="#6FAAD4"/><circle cx="1663.4" cy="888.7" r="8.6" fill="#A0D69B"/><circle cx="1688.2" cy="875.9" r="8.6" fill="#A0D69B"/><circle cx="1690.0" cy="883.2" r="8.6" fill="#6FAAD4"/><circle cx="1663.4" cy="896.1" r="8.6" fill="#6FAAD4"/><circle cx="1676.3" cy="903.4" r="8.6" fill="#6FAAD4"/><circle cx="1696.4" cy="901.6" r="8.6" fill="#A0D69B"/><circle cx="1707.5" cy="905.2" r="8.6" fill="#A0D69B"/><circle cx="1708.4" cy="912.6" r="8.6" fill="#6FAAD4"/><circle cx="1654.2" cy="908.9" r="8.6" fill="#6FAAD4"/><circle cx="1670.7" cy="916.3" r="8.6" fill="#6FAAD4"/><circle cx="1691.9" cy="921.8" r="8.6" fill="#6FAAD4"/><circle cx="1630.3" cy="910.7" r="8.6" fill="#A0D69B"/><circle cx="1630.3" cy="925.4" r="8.6" fill="#6FAAD4"/><circle cx="1596.4" cy="918.1" r="8.6" fill="#6FAAD4"/><circle cx="1489.0" cy="916.3" r="8.6" fill="#A0D69B"/><circle cx="1483.4" cy="925.4" r="8.6" fill="#6FAAD4"/><circle cx="1512.8" cy="919.9" r="8.6" fill="#6FAAD4"/><circle cx="1522.0" cy="926.3" r="8.6" fill="#A0D69B"/><circle cx="1555.1" cy="943.8" r="8.6" fill="#6FAAD4"/><circle cx="1564.2" cy="940.1" r="8.6" fill="#6FAAD4"/><circle cx="1599.1" cy="947.5" r="8.6" fill="#6FAAD4"/><circle cx="1622.1" cy="948.4" r="8.6" fill="#6FAAD4"/><circle cx="1637.7" cy="955.7" r="8.6" fill="#A0D69B"/><circle cx="1661.6" cy="958.5" r="8.6" fill="#6FAAD4"/><circle cx="1672.6" cy="934.6" r="8.6" fill="#6FAAD4"/><circle cx="1681.8" cy="947.5" r="8.6" fill="#6FAAD4"/><circle cx="1689.1" cy="951.1" r="8.6" fill="#6FAAD4"/><circle cx="1674.4" cy="964.0" r="8.6" fill="#6FAAD4"/><circle cx="1681.8" cy="980.5" r="8.6" fill="#6FAAD4"/><circle cx="1698.3" cy="984.2" r="8.6" fill="#6FAAD4"/><circle cx="1718.5" cy="976.8" r="8.6" fill="#6FAAD4"/><circle cx="1725.8" cy="975.0" r="8.6" fill="#6FAAD4"/><circle cx="1713.0" cy="991.5" r="8.6" fill="#6FAAD4"/><circle cx="1690.9" cy="995.2" r="8.6" fill="#6FAAD4"/><circle cx="1465.1" cy="969.5" r="8.6" fill="#6FAAD4"/><circle cx="1477.9" cy="964.0" r="8.6" fill="#6FAAD4"/><circle cx="1500.0" cy="958.5" r="8.6" fill="#A0D69B"/><circle cx="1538.5" cy="965.8" r="8.6" fill="#6FAAD4"/><circle cx="1602.8" cy="973.2" r="8.6" fill="#6FAAD4"/><circle cx="1503.6" cy="984.2" r="8.6" fill="#6FAAD4"/><circle cx="1522.0" cy="980.5" r="8.6" fill="#6FAAD4"/><circle cx="1547.7" cy="986.0" r="8.6" fill="#A0D69B"/><circle cx="1584.4" cy="991.5" r="8.6" fill="#6FAAD4"/><circle cx="1448.6" cy="998.9" r="8.6" fill="#6FAAD4"/><circle cx="1560.6" cy="999.8" r="8.6" fill="#A0D69B"/><circle cx="1632.2" cy="998.9" r="8.6" fill="#6FAAD4"/><circle cx="1112.2" cy="1001.8" r="8.6" fill="#6FAAD4"/><circle cx="1187.5" cy="1005.5" r="8.6" fill="#A0D69B"/><circle cx="1303.2" cy="1012.9" r="8.6" fill="#6FAAD4"/><circle cx="1330.7" cy="1011.0" r="8.6" fill="#A0D69B"/><circle cx="1353.7" cy="1003.7" r="8.6" fill="#6FAAD4"/><circle cx="1377.6" cy="1005.5" r="8.6" fill="#6FAAD4"/><circle cx="1108.6" cy="1014.7" r="8.6" fill="#6FAAD4"/><circle cx="1119.6" cy="1011.0" r="8.6" fill="#6FAAD4"/><circle cx="1143.4" cy="1020.2" r="8.6" fill="#A0D69B"/><circle cx="1189.4" cy="1020.2" r="8.6" fill="#A0D69B"/><circle cx="1198.5" cy="1020.2" r="8.6" fill="#6FAAD4"/><circle cx="1209.6" cy="1020.2" r="8.6" fill="#A0D69B"/><circle cx="1215.1" cy="1015.6" r="8.6" fill="#6FAAD4"/><circle cx="1237.1" cy="1017.4" r="8.6" fill="#6FAAD4"/><circle cx="1251.8" cy="1012.9" r="8.6" fill="#6FAAD4"/><circle cx="1174.7" cy="1031.2" r="8.6" fill="#6FAAD4"/><circle cx="1276.6" cy="1031.2" r="8.6" fill="#6FAAD4"/><circle cx="1308.7" cy="1027.5" r="8.6" fill="#6FAAD4"/><circle cx="1303.2" cy="1038.6" r="8.6" fill="#6FAAD4"/><circle cx="1350.0" cy="1033.1" r="8.6" fill="#6FAAD4"/><circle cx="1365.6" cy="1041.3" r="8.6" fill="#6FAAD4"/><circle cx="1092.0" cy="1039.5" r="8.6" fill="#6FAAD4"/><circle cx="1103.1" cy="1027.5" r="8.6" fill="#6FAAD4"/><circle cx="1139.8" cy="1042.2" r="8.6" fill="#6FAAD4"/><circle cx="1150.8" cy="1044.1" r="8.6" fill="#6FAAD4"/><circle cx="1167.3" cy="1049.6" r="8.6" fill="#6FAAD4"/><circle cx="1243.5" cy="1040.4" r="8.6" fill="#6FAAD4"/><circle cx="1244.4" cy="1047.7" r="8.6" fill="#6FAAD4"/><circle cx="1208.6" cy="1052.3" r="8.6" fill="#A0D69B"/><circle cx="1245.4" cy="1057.8" r="8.6" fill="#A0D69B"/><circle cx="1263.7" cy="1053.3" r="8.6" fill="#6FAAD4"/><circle cx="1279.3" cy="1049.6" r="8.6" fill="#6FAAD4"/><circle cx="1286.7" cy="1062.4" r="8.6" fill="#6FAAD4"/><circle cx="1308.7" cy="1065.2" r="8.6" fill="#A0D69B"/><circle cx="1400.5" cy="1046.8" r="8.6" fill="#6FAAD4"/><circle cx="1399.6" cy="1071.6" r="8.6" fill="#6FAAD4"/><circle cx="1099.4" cy="1060.6" r="8.6" fill="#6FAAD4"/><circle cx="1122.3" cy="1058.8" r="8.6" fill="#A0D69B"/><circle cx="1161.8" cy="1062.4" r="8.6" fill="#6FAAD4"/><circle cx="1112.2" cy="1069.8" r="8.6" fill="#6FAAD4"/><circle cx="1188.4" cy="1069.8" r="8.6" fill="#6FAAD4"/><circle cx="1206.8" cy="1079.0" r="8.6" fill="#A0D69B"/><circle cx="1212.3" cy="1084.5" r="8.6" fill="#6FAAD4"/><circle cx="1237.1" cy="1081.7" r="8.6" fill="#6FAAD4"/><circle cx="1293.1" cy="1082.6" r="8.6" fill="#6FAAD4"/><circle cx="1178.3" cy="1084.5" r="8.6" fill="#6FAAD4"/><circle cx="1169.2" cy="1088.1" r="8.6" fill="#6FAAD4"/><circle cx="1109.5" cy="1094.6" r="8.6" fill="#6FAAD4"/><circle cx="1215.1" cy="1091.8" r="8.6" fill="#6FAAD4"/><circle cx="1209.6" cy="1100.1" r="8.6" fill="#6FAAD4"/><circle cx="1185.7" cy="1101.9" r="8.6" fill="#6FAAD4"/><circle cx="1167.3" cy="1108.3" r="8.6" fill="#6FAAD4"/><circle cx="1194.9" cy="1113.8" r="8.6" fill="#A0D69B"/><circle cx="1288.5" cy="1104.7" r="8.6" fill="#A0D69B"/><circle cx="1291.3" cy="1115.7" r="8.6" fill="#6FAAD4"/><circle cx="1256.4" cy="1115.7" r="8.6" fill="#6FAAD4"/><circle cx="1272.0" cy="1113.8" r="8.6" fill="#6FAAD4"/><circle cx="1370.2" cy="1109.3" r="8.6" fill="#A0D69B"/><circle cx="1415.2" cy="1119.4" r="8.6" fill="#A0D69B"/><circle cx="1118.7" cy="1112.0" r="8.6" fill="#6FAAD4"/><circle cx="1125.1" cy="1128.5" r="8.6" fill="#6FAAD4"/><circle cx="1151.7" cy="1126.7" r="8.6" fill="#A0D69B"/><circle cx="1183.8" cy="1132.2" r="8.6" fill="#A0D69B"/><circle cx="1213.2" cy="1141.4" r="8.6" fill="#6FAAD4"/><circle cx="1246.3" cy="1136.8" r="8.6" fill="#6FAAD4"/><circle cx="1251.8" cy="1148.7" r="8.6" fill="#6FAAD4"/><circle cx="1134.3" cy="1139.6" r="8.6" fill="#6FAAD4"/><circle cx="1143.4" cy="1141.4" r="8.6" fill="#6FAAD4"/><circle cx="1328.0" cy="1151.5" r="8.6" fill="#A0D69B"/><circle cx="1354.6" cy="1146.0" r="8.6" fill="#6FAAD4"/><circle cx="1180.2" cy="1153.3" r="8.6" fill="#6FAAD4"/><circle cx="1193.0" cy="1158.8" r="8.6" fill="#6FAAD4"/><circle cx="1152.6" cy="1156.1" r="8.6" fill="#A0D69B"/><circle cx="1236.2" cy="1157.9" r="8.6" fill="#A0D69B"/><circle cx="1208.6" cy="1166.2" r="8.6" fill="#6FAAD4"/><circle cx="1201.3" cy="1169.8" r="8.6" fill="#A0D69B"/><circle cx="1251.8" cy="1165.3" r="8.6" fill="#6FAAD4"/><circle cx="1136.1" cy="1162.5" r="8.6" fill="#6FAAD4"/><circle cx="1150.8" cy="1170.8" r="8.6" fill="#6FAAD4"/><circle cx="1347.3" cy="1163.4" r="8.6" fill="#6FAAD4"/><circle cx="1345.4" cy="1176.3" r="8.6" fill="#6FAAD4"/><circle cx="1379.4" cy="1179.9" r="8.6" fill="#6FAAD4"/><circle cx="1413.4" cy="1160.7" r="8.6" fill="#A0D69B"/><circle cx="1264.6" cy="1179.0" r="8.6" fill="#A0D69B"/><circle cx="1326.2" cy="1180.9" r="8.6" fill="#A0D69B"/><circle cx="1135.2" cy="1186.4" r="8.6" fill="#6FAAD4"/><circle cx="1158.1" cy="1189.1" r="8.6" fill="#6FAAD4"/><circle cx="1161.8" cy="1203.8" r="8.6" fill="#6FAAD4"/><circle cx="1403.3" cy="1191.0" r="8.6" fill="#6FAAD4"/><circle cx="1320.6" cy="1193.7" r="8.6" fill="#6FAAD4"/><circle cx="1305.0" cy="1196.5" r="8.6" fill="#6FAAD4"/><circle cx="1216.9" cy="1201.1" r="8.6" fill="#6FAAD4"/><circle cx="1227.0" cy="1211.2" r="8.6" fill="#6FAAD4"/><circle cx="1183.8" cy="1207.5" r="8.6" fill="#6FAAD4"/><circle cx="1174.7" cy="1207.5" r="8.6" fill="#6FAAD4"/><circle cx="1215.1" cy="1221.3" r="8.6" fill="#6FAAD4"/><circle cx="1246.3" cy="1217.6" r="8.6" fill="#6FAAD4"/><circle cx="1256.4" cy="1221.3" r="8.6" fill="#A0D69B"/><circle cx="1272.0" cy="1213.9" r="8.6" fill="#6FAAD4"/><circle cx="1290.3" cy="1215.8" r="8.6" fill="#6FAAD4"/><circle cx="1308.7" cy="1214.8" r="8.6" fill="#6FAAD4"/><circle cx="1327.1" cy="1215.8" r="8.6" fill="#6FAAD4"/><circle cx="1283.0" cy="1227.7" r="8.6" fill="#6FAAD4"/><circle cx="1390.4" cy="1217.6" r="8.6" fill="#6FAAD4"/><circle cx="1400.5" cy="1215.8" r="8.6" fill="#6FAAD4"/><circle cx="1404.2" cy="1228.6" r="8.6" fill="#6FAAD4"/><circle cx="1382.2" cy="1234.1" r="8.6" fill="#6FAAD4"/><circle cx="1352.8" cy="1240.5" r="8.6" fill="#6FAAD4"/><circle cx="1178.3" cy="1237.8" r="8.6" fill="#6FAAD4"/><circle cx="1193.0" cy="1231.4" r="8.6" fill="#6FAAD4"/><circle cx="1194.9" cy="1242.4" r="8.6" fill="#6FAAD4"/><circle cx="1204.0" cy="1249.7" r="8.6" fill="#6FAAD4"/><circle cx="1231.6" cy="1244.2" r="8.6" fill="#6FAAD4"/><circle cx="1246.3" cy="1233.2" r="8.6" fill="#6FAAD4"/><circle cx="1253.6" cy="1240.5" r="8.6" fill="#6FAAD4"/><circle cx="1276.6" cy="1244.2" r="8.6" fill="#6FAAD4"/><circle cx="1312.4" cy="1244.2" r="8.6" fill="#A0D69B"/><circle cx="1297.7" cy="1249.7" r="8.6" fill="#A0D69B"/><circle cx="1310.5" cy="1254.3" r="8.6" fill="#6FAAD4"/><circle cx="1290.3" cy="1258.9" r="8.6" fill="#6FAAD4"/><circle cx="1216.9" cy="1260.7" r="8.6" fill="#6FAAD4"/><circle cx="1213.2" cy="1264.4" r="8.6" fill="#6FAAD4"/><circle cx="1233.4" cy="1271.8" r="8.6" fill="#6FAAD4"/><circle cx="1233.4" cy="1280.0" r="8.6" fill="#6FAAD4"/><circle cx="1253.6" cy="1272.7" r="8.6" fill="#6FAAD4"/><circle cx="1272.0" cy="1264.4" r="8.6" fill="#A0D69B"/><circle cx="1281.2" cy="1284.6" r="8.6" fill="#6FAAD4"/><circle cx="1339.0" cy="1275.4" r="8.6" fill="#6FAAD4"/><circle cx="1353.7" cy="1275.4" r="8.6" fill="#6FAAD4"/><circle cx="1373.0" cy="1268.1" r="8.6" fill="#A0D69B"/><circle cx="1375.7" cy="1283.7" r="8.6" fill="#6FAAD4"/><circle cx="1386.7" cy="1289.2" r="8.6" fill="#A0D69B"/><circle cx="1409.7" cy="1282.8" r="8.6" fill="#6FAAD4"/><circle cx="1338.1" cy="1280.9" r="8.6" fill="#A0D69B"/><circle cx="1323.4" cy="1282.8" r="8.6" fill="#6FAAD4"/><circle cx="1317.9" cy="1295.6" r="8.6" fill="#6FAAD4"/><circle cx="1323.4" cy="1304.8" r="8.6" fill="#6FAAD4"/><circle cx="1341.8" cy="1306.6" r="8.6" fill="#6FAAD4"/><circle cx="1356.4" cy="1294.7" r="8.6" fill="#6FAAD4"/><circle cx="1373.0" cy="1301.1" r="8.6" fill="#6FAAD4"/><circle cx="1393.2" cy="1306.6" r="8.6" fill="#6FAAD4"/><circle cx="1406.0" cy="1304.8" r="8.6" fill="#6FAAD4"/><circle cx="1418.9" cy="1310.3" r="8.6" fill="#6FAAD4"/><circle cx="1288.5" cy="1306.6" r="8.6" fill="#6FAAD4"/><circle cx="1310.5" cy="1315.8" r="8.6" fill="#6FAAD4"/><circle cx="1306.9" cy="1323.2" r="8.6" fill="#6FAAD4"/><circle cx="1352.8" cy="1325.0" r="8.6" fill="#6FAAD4"/><circle cx="1365.6" cy="1321.3" r="8.6" fill="#6FAAD4"/><circle cx="1381.2" cy="1325.0" r="8.6" fill="#6FAAD4"/><circle cx="1447.6" cy="1004.6" r="8.6" fill="#6FAAD4"/><circle cx="1560.6" cy="1006.4" r="8.6" fill="#A0D69B"/><circle cx="1590.9" cy="1005.5" r="8.6" fill="#6FAAD4"/><circle cx="1630.3" cy="1003.7" r="8.6" fill="#6FAAD4"/><circle cx="1685.4" cy="1001.8" r="8.6" fill="#6FAAD4"/><circle cx="1696.4" cy="1001.8" r="8.6" fill="#6FAAD4"/><circle cx="1724.0" cy="1008.3" r="8.6" fill="#A0D69B"/><circle cx="1437.5" cy="1021.1" r="8.6" fill="#6FAAD4"/><circle cx="1495.4" cy="1028.5" r="8.6" fill="#6FAAD4"/><circle cx="1510.1" cy="1024.8" r="8.6" fill="#A0D69B"/><circle cx="1547.7" cy="1034.0" r="8.6" fill="#A0D69B"/><circle cx="1571.6" cy="1023.9" r="8.6" fill="#6FAAD4"/><circle cx="1589.9" cy="1031.2" r="8.6" fill="#6FAAD4"/><circle cx="1602.8" cy="1023.9" r="8.6" fill="#6FAAD4"/><circle cx="1641.4" cy="1016.5" r="8.6" fill="#6FAAD4"/><circle cx="1643.2" cy="1022.0" r="8.6" fill="#6FAAD4"/><circle cx="1654.2" cy="1029.4" r="8.6" fill="#A0D69B"/><circle cx="1668.9" cy="1030.3" r="8.6" fill="#6FAAD4"/><circle cx="1687.3" cy="1035.8" r="8.6" fill="#6FAAD4"/><circle cx="1696.4" cy="1020.2" r="8.6" fill="#6FAAD4"/><circle cx="1699.2" cy="1031.2" r="8.6" fill="#A0D69B"/><circle cx="1707.5" cy="1034.9" r="8.6" fill="#6FAAD4"/><circle cx="1708.4" cy="1045.0" r="8.6" fill="#6FAAD4"/><circle cx="1478.9" cy="1038.6" r="8.6" fill="#6FAAD4"/><circle cx="1489.0" cy="1051.4" r="8.6" fill="#6FAAD4"/><circle cx="1513.7" cy="1045.9" r="8.6" fill="#A0D69B"/><circle cx="1573.4" cy="1041.3" r="8.6" fill="#6FAAD4"/><circle cx="1617.5" cy="1049.6" r="8.6" fill="#6FAAD4"/><circle cx="1610.1" cy="1057.8" r="8.6" fill="#A0D69B"/><circle cx="1579.8" cy="1058.8" r="8.6" fill="#6FAAD4"/><circle cx="1533.9" cy="1062.4" r="8.6" fill="#6FAAD4"/><circle cx="1651.5" cy="1066.1" r="8.6" fill="#A0D69B"/><circle cx="1697.4" cy="1063.3" r="8.6" fill="#6FAAD4"/><circle cx="1718.5" cy="1061.5" r="8.6" fill="#A0D69B"/><circle cx="1480.7" cy="1067.0" r="8.6" fill="#A0D69B"/><circle cx="1472.4" cy="1087.2" r="8.6" fill="#A0D69B"/><circle cx="1515.6" cy="1085.4" r="8.6" fill="#6FAAD4"/><circle cx="1578.0" cy="1079.9" r="8.6" fill="#6FAAD4"/><circle cx="1632.2" cy="1077.1" r="8.6" fill="#A0D69B"/><circle cx="1634.0" cy="1086.3" r="8.6" fill="#6FAAD4"/><circle cx="1659.7" cy="1083.5" r="8.6" fill="#6FAAD4"/><circle cx="1667.1" cy="1093.6" r="8.6" fill="#6FAAD4"/><circle cx="1672.6" cy="1099.2" r="8.6" fill="#A0D69B"/><circle cx="1703.8" cy="1090.0" r="8.6" fill="#6FAAD4"/><circle cx="1694.6" cy="1095.5" r="8.6" fill="#6FAAD4"/><circle cx="1707.5" cy="1106.5" r="8.6" fill="#6FAAD4"/><circle cx="1537.6" cy="1102.8" r="8.6" fill="#6FAAD4"/><circle cx="1601.9" cy="1099.2" r="8.6" fill="#6FAAD4"/><circle cx="1441.2" cy="1111.1" r="8.6" fill="#6FAAD4"/><circle cx="1415.5" cy="1119.4" r="8.6" fill="#A0D69B"/><circle cx="1672.6" cy="1113.8" r="8.6" fill="#6FAAD4"/><circle cx="1673.5" cy="1119.4" r="8.6" fill="#6FAAD4"/><circle cx="1635.9" cy="1121.2" r="8.6" fill="#6FAAD4"/><circle cx="1626.7" cy="1133.1" r="8.6" fill="#6FAAD4"/><circle cx="1643.2" cy="1132.2" r="8.6" fill="#6FAAD4"/><circle cx="1660.6" cy="1132.2" r="8.6" fill="#6FAAD4"/><circle cx="1674.4" cy="1134.0" r="8.6" fill="#A0D69B"/><circle cx="1690.9" cy="1137.7" r="8.6" fill="#6FAAD4"/><circle cx="1672.6" cy="1146.9" r="8.6" fill="#6FAAD4"/><circle cx="1687.3" cy="1158.8" r="8.6" fill="#6FAAD4"/><circle cx="1668.9" cy="1161.6" r="8.6" fill="#A0D69B"/><circle cx="1666.2" cy="1166.2" r="8.6" fill="#6FAAD4"/><circle cx="1572.5" cy="1121.2" r="8.6" fill="#6FAAD4"/><circle cx="1584.4" cy="1132.2" r="8.6" fill="#A0D69B"/><circle cx="1465.1" cy="1133.1" r="8.6" fill="#6FAAD4"/><circle cx="1602.8" cy="1147.8" r="8.6" fill="#A0D69B"/><circle cx="1604.6" cy="1157.9" r="8.6" fill="#6FAAD4"/><circle cx="1593.6" cy="1165.3" r="8.6" fill="#6FAAD4"/><circle cx="1584.4" cy="1172.6" r="8.6" fill="#6FAAD4"/><circle cx="1599.1" cy="1178.1" r="8.6" fill="#6FAAD4"/><circle cx="1610.1" cy="1183.6" r="8.6" fill="#6FAAD4"/><circle cx="1601.0" cy="1196.5" r="8.6" fill="#6FAAD4"/><circle cx="1599.1" cy="1203.8" r="8.6" fill="#A0D69B"/><circle cx="1631.3" cy="1165.3" r="8.6" fill="#6FAAD4"/><circle cx="1648.7" cy="1163.4" r="8.6" fill="#6FAAD4"/><circle cx="1647.8" cy="1179.9" r="8.6" fill="#6FAAD4"/><circle cx="1653.3" cy="1191.9" r="8.6" fill="#6FAAD4"/><circle cx="1629.4" cy="1199.2" r="8.6" fill="#A0D69B"/><circle cx="1648.7" cy="1209.3" r="8.6" fill="#6FAAD4"/><circle cx="1639.5" cy="1232.3" r="8.6" fill="#6FAAD4"/><circle cx="1616.6" cy="1233.2" r="8.6" fill="#6FAAD4"/><circle cx="1612.0" cy="1251.6" r="8.6" fill="#6FAAD4"/><circle cx="1608.3" cy="1264.4" r="8.6" fill="#6FAAD4"/><circle cx="1581.7" cy="1266.3" r="8.6" fill="#6FAAD4"/><circle cx="1424.7" cy="1157.0" r="8.6" fill="#6FAAD4"/><circle cx="1415.5" cy="1160.7" r="8.6" fill="#A0D69B"/><circle cx="1470.6" cy="1155.2" r="8.6" fill="#A0D69B"/><circle cx="1482.5" cy="1165.3" r="8.6" fill="#6FAAD4"/><circle cx="1454.1" cy="1181.8" r="8.6" fill="#6FAAD4"/><circle cx="1468.8" cy="1189.1" r="8.6" fill="#6FAAD4"/><circle cx="1487.1" cy="1188.2" r="8.6" fill="#6FAAD4"/><circle cx="1506.4" cy="1185.5" r="8.6" fill="#6FAAD4"/><circle cx="1521.1" cy="1186.4" r="8.6" fill="#6FAAD4"/><circle cx="1525.7" cy="1195.6" r="8.6" fill="#6FAAD4"/><circle cx="1501.8" cy="1198.3" r="8.6" fill="#6FAAD4"/><circle cx="1500.0" cy="1207.5" r="8.6" fill="#6FAAD4"/><circle cx="1520.2" cy="1211.2" r="8.6" fill="#6FAAD4"/><circle cx="1463.3" cy="1208.4" r="8.6" fill="#6FAAD4"/><circle cx="1476.1" cy="1205.7" r="8.6" fill="#6FAAD4"/><circle cx="1544.0" cy="1184.5" r="8.6" fill="#6FAAD4"/><circle cx="1559.7" cy="1195.6" r="8.6" fill="#6FAAD4"/><circle cx="1563.3" cy="1211.2" r="8.6" fill="#A0D69B"/><circle cx="1551.4" cy="1218.5" r="8.6" fill="#6FAAD4"/><circle cx="1582.6" cy="1213.0" r="8.6" fill="#6FAAD4"/><circle cx="1581.7" cy="1220.3" r="8.6" fill="#6FAAD4"/><circle cx="1595.5" cy="1215.8" r="8.6" fill="#6FAAD4"/><circle cx="1597.3" cy="1222.2" r="8.6" fill="#6FAAD4"/><circle cx="1440.3" cy="1224.0" r="8.6" fill="#A0D69B"/><circle cx="1444.0" cy="1244.2" r="8.6" fill="#6FAAD4"/><circle cx="1552.3" cy="1238.7" r="8.6" fill="#A0D69B"/><circle cx="1498.1" cy="1246.1" r="8.6" fill="#6FAAD4"/><circle cx="1567.9" cy="1250.6" r="8.6" fill="#6FAAD4"/><circle cx="1578.9" cy="1242.4" r="8.6" fill="#6FAAD4"/><circle cx="1589.9" cy="1238.7" r="8.6" fill="#6FAAD4"/><circle cx="1423.8" cy="1266.3" r="8.6" fill="#6FAAD4"/><circle cx="1443.1" cy="1262.6" r="8.6" fill="#A0D69B"/><circle cx="1437.5" cy="1274.5" r="8.6" fill="#A0D69B"/><circle cx="1455.9" cy="1258.0" r="8.6" fill="#6FAAD4"/><circle cx="1468.8" cy="1253.4" r="8.6" fill="#6FAAD4"/><circle cx="1483.4" cy="1260.7" r="8.6" fill="#6FAAD4"/><circle cx="1483.4" cy="1253.4" r="8.6" fill="#A0D69B"/><circle cx="1496.3" cy="1257.1" r="8.6" fill="#6FAAD4"/><circle cx="1510.1" cy="1273.6" r="8.6" fill="#6FAAD4"/><circle cx="1511.9" cy="1264.4" r="8.6" fill="#A0D69B"/><circle cx="1522.0" cy="1273.6" r="8.6" fill="#A0D69B"/><circle cx="1536.7" cy="1266.3" r="8.6" fill="#A0D69B"/><circle cx="1540.4" cy="1262.6" r="8.6" fill="#6FAAD4"/><circle cx="1543.1" cy="1276.3" r="8.6" fill="#6FAAD4"/><circle cx="1555.1" cy="1282.8" r="8.6" fill="#6FAAD4"/><circle cx="1562.4" cy="1269.9" r="8.6" fill="#6FAAD4"/><circle cx="1568.8" cy="1280.9" r="8.6" fill="#6FAAD4"/><circle cx="1410.0" cy="1282.8" r="8.6" fill="#6FAAD4"/><circle cx="1465.1" cy="1282.8" r="8.6" fill="#6FAAD4"/><circle cx="1458.7" cy="1295.6" r="8.6" fill="#6FAAD4"/><circle cx="1470.6" cy="1290.1" r="8.6" fill="#6FAAD4"/><circle cx="1478.9" cy="1301.1" r="8.6" fill="#6FAAD4"/><circle cx="1540.4" cy="1300.2" r="8.6" fill="#6FAAD4"/><circle cx="1415.5" cy="1312.2" r="8.6" fill="#6FAAD4"/><circle cx="1433.9" cy="1304.8" r="8.6" fill="#6FAAD4"/><circle cx="1424.7" cy="1321.3" r="8.6" fill="#6FAAD4"/><circle cx="1441.2" cy="1326.8" r="8.6" fill="#6FAAD4"/><circle cx="1455.9" cy="1323.2" r="8.6" fill="#6FAAD4"/><circle cx="1485.3" cy="1317.7" r="8.6" fill="#6FAAD4"/>
<circle cx="1675" cy="724.5" r="8.6" fill="#6FAAD4"/>
<text x="1689.5" y="734.8" font-size="26.9">1,134 Regulatory variants</text>
<circle cx="1767.1" cy="773.3" r="8.6" fill="#A0D69B"/>
<text x="1785.5" y="784.7" font-size="27">439 Target genes</text>
<text x="0.0" y="1394.0" font-size="29" font-weight="bold">e</text>
<text x="557.7" y="1395.1" font-size="27" text-anchor="middle">GO term</text>
<rect x="95.4" y="1414.5" width="43.8" height="236.4" fill="#A9C78A"/>
<rect x="144.0" y="1472.1" width="43.8" height="178.8" fill="#A9C78A"/>
<rect x="192.6" y="1633.4" width="43.8" height="17.5" fill="#A9C78A"/>
<rect x="241.2" y="1636.3" width="43.8" height="14.6" fill="#A9C78A"/>
<rect x="289.8" y="1636.3" width="43.8" height="14.6" fill="#A9C78A"/>
<rect x="338.4" y="1575.8" width="43.8" height="75.1" fill="#F2B07B"/>
<rect x="387.0" y="1610.4" width="43.8" height="40.5" fill="#F2B07B"/>
<rect x="435.6" y="1627.7" width="43.8" height="23.2" fill="#F2B07B"/>
<rect x="484.2" y="1639.2" width="43.8" height="11.7" fill="#F2B07B"/>
<rect x="532.8" y="1642.1" width="43.8" height="8.8" fill="#F2B07B"/>
<rect x="581.4" y="1636.3" width="43.8" height="14.6" fill="#77A5D2"/>
<rect x="630.0" y="1639.2" width="43.8" height="11.7" fill="#77A5D2"/>
<rect x="678.6" y="1639.2" width="43.8" height="11.7" fill="#77A5D2"/>
<rect x="727.2" y="1642.1" width="43.8" height="8.8" fill="#77A5D2"/>
<rect x="775.8" y="1642.1" width="43.8" height="8.8" fill="#77A5D2"/>
<rect x="824.4" y="1642.1" width="43.8" height="8.8" fill="#77A5D2"/>
<rect x="873.0" y="1642.1" width="43.8" height="8.8" fill="#77A5D2"/>
<rect x="921.6" y="1644.9" width="43.8" height="6.0" fill="#77A5D2"/>
<rect x="970.2" y="1644.9" width="43.8" height="6.0" fill="#77A5D2"/>
<rect x="95.2" y="1410.3" width="919.1" height="245.1" fill="none" stroke="#333" stroke-width="2"/>
<line x1="90.0" y1="1650.7" x2="95.2" y2="1650.7" stroke="#333" stroke-width="2"/>
<text x="85.3" y="1658.7" font-size="22.5" text-anchor="end">0</text>
<line x1="90.0" y1="1593.1" x2="95.2" y2="1593.1" stroke="#333" stroke-width="2"/>
<text x="85.3" y="1601.1" font-size="22.5" text-anchor="end">20</text>
<line x1="90.0" y1="1535.5" x2="95.2" y2="1535.5" stroke="#333" stroke-width="2"/>
<text x="85.3" y="1543.5" font-size="22.5" text-anchor="end">40</text>
<line x1="90.0" y1="1477.9" x2="95.2" y2="1477.9" stroke="#333" stroke-width="2"/>
<text x="85.3" y="1485.9" font-size="22.5" text-anchor="end">60</text>
<line x1="90.0" y1="1420.3" x2="95.2" y2="1420.3" stroke="#333" stroke-width="2"/>
<text x="85.3" y="1428.3" font-size="22.5" text-anchor="end">80</text>
<line x1="117.3" y1="1655.4" x2="117.3" y2="1661.2" stroke="#333" stroke-width="2"/>
<line x1="165.9" y1="1655.4" x2="165.9" y2="1661.2" stroke="#333" stroke-width="2"/>
<line x1="214.5" y1="1655.4" x2="214.5" y2="1661.2" stroke="#333" stroke-width="2"/>
<line x1="263.1" y1="1655.4" x2="263.1" y2="1661.2" stroke="#333" stroke-width="2"/>
<line x1="311.7" y1="1655.4" x2="311.7" y2="1661.2" stroke="#333" stroke-width="2"/>
<line x1="360.3" y1="1655.4" x2="360.3" y2="1661.2" stroke="#333" stroke-width="2"/>
<line x1="408.9" y1="1655.4" x2="408.9" y2="1661.2" stroke="#333" stroke-width="2"/>
<line x1="457.5" y1="1655.4" x2="457.5" y2="1661.2" stroke="#333" stroke-width="2"/>
<line x1="506.1" y1="1655.4" x2="506.1" y2="1661.2" stroke="#333" stroke-width="2"/>
<line x1="554.7" y1="1655.4" x2="554.7" y2="1661.2" stroke="#333" stroke-width="2"/>
<line x1="603.3" y1="1655.4" x2="603.3" y2="1661.2" stroke="#333" stroke-width="2"/>
<line x1="651.9" y1="1655.4" x2="651.9" y2="1661.2" stroke="#333" stroke-width="2"/>
<line x1="700.5" y1="1655.4" x2="700.5" y2="1661.2" stroke="#333" stroke-width="2"/>
<line x1="749.1" y1="1655.4" x2="749.1" y2="1661.2" stroke="#333" stroke-width="2"/>
<line x1="797.7" y1="1655.4" x2="797.7" y2="1661.2" stroke="#333" stroke-width="2"/>
<line x1="846.3" y1="1655.4" x2="846.3" y2="1661.2" stroke="#333" stroke-width="2"/>
<line x1="894.9" y1="1655.4" x2="894.9" y2="1661.2" stroke="#333" stroke-width="2"/>
<line x1="943.5" y1="1655.4" x2="943.5" y2="1661.2" stroke="#333" stroke-width="2"/>
<line x1="992.1" y1="1655.4" x2="992.1" y2="1661.2" stroke="#333" stroke-width="2"/>
<text transform="translate(49.5,1542.5) rotate(-90)" font-size="23" text-anchor="middle">Number of Genes</text>
<rect x="668.3" y="1430.0" width="31.7" height="31.7" fill="#A9C78A"/>
<rect x="668.3" y="1483.2" width="31.7" height="31.7" fill="#F2B07B"/>
<rect x="668.3" y="1542.7" width="31.7" height="31.7" fill="#77A5D2"/>
<text x="712.8" y="1456.8" font-size="23.2">Cellular_component</text>
<text x="712.8" y="1509.7" font-size="23.2">Molecular_function</text>
<text x="712.8" y="1568.4" font-size="23.2">Biological_process</text>
<text transform="translate(126.3,1678.9) rotate(-60)" font-size="23" text-anchor="end" fill="#8CB962" font-weight="bold">Cytoplasm</text>
<text transform="translate(177.2,1674.9) rotate(-60)" font-size="23" text-anchor="end" fill="#8CB962" font-weight="bold">Plasma membrane</text>
<text transform="translate(222.2,1681.1) rotate(-60)" font-size="23" text-anchor="end" fill="#8CB962" font-weight="bold">Cilium</text>
<text transform="translate(272.8,1677.7) rotate(-60)" font-size="23" text-anchor="end" fill="#8CB962" font-weight="bold">Lipid particle</text>
<text transform="translate(326.6,1668.6) rotate(-60)" font-size="23" text-anchor="end" fill="#8CB962" font-weight="bold">Mitochondrial outer membrane</text>
<text transform="translate(364.8,1668.4) rotate(-60)" font-size="19.5" text-anchor="end" fill="#F0984C" font-weight="bold">RNA polymerase II core promoter proximal</text>
<text transform="translate(381.7,1678.2) rotate(-60)" font-size="19.5" text-anchor="end" fill="#F0984C" font-weight="bold">region sequence−specific DNA binding</text>
<text transform="translate(421.9,1671.9) rotate(-60)" font-size="23" text-anchor="end" fill="#F0984C" font-weight="bold">Identical protein binding</text>
<text transform="translate(469.9,1673.0) rotate(-60)" font-size="23" text-anchor="end" fill="#F0984C" font-weight="bold">Protein kinase activity</text>
<text transform="translate(521.0,1668.6) rotate(-60)" font-size="23" text-anchor="end" fill="#F0984C" font-weight="bold">Protein tyrosine kinase activity</text>
<text transform="translate(570.5,1667.2) rotate(-60)" font-size="23" text-anchor="end" fill="#F0984C" font-weight="bold">Insulin−like growth factor binding</text>
<text transform="translate(604.8,1672.2) rotate(-60)" font-size="21.2" text-anchor="end" fill="#4D8ACB" font-weight="bold">Positive regulation of canonical</text>
<text transform="translate(623.0,1682.7) rotate(-60)" font-size="21.2" text-anchor="end" fill="#4D8ACB" font-weight="bold">Wnt signaling pathway</text>
<text transform="translate(667.6,1667.3) rotate(-60)" font-size="23" text-anchor="end" fill="#4D8ACB" font-weight="bold">Regulation of signal transduction</text>
<text transform="translate(710.1,1677.8) rotate(-60)" font-size="23" text-anchor="end" fill="#4D8ACB" font-weight="bold">Ion transport</text>
<text transform="translate(760.4,1674.9) rotate(-60)" font-size="23" text-anchor="end" fill="#4D8ACB" font-weight="bold">Synaptic signaling</text>
<text transform="translate(814.1,1666.1) rotate(-60)" font-size="23" text-anchor="end" fill="#4D8ACB" font-weight="bold">Regulation of neuron differentiation</text>
<text transform="translate(860.4,1670.1) rotate(-60)" font-size="23" text-anchor="end" fill="#4D8ACB" font-weight="bold">Protein export from nucleus</text>
<text transform="translate(888.5,1677.6) rotate(-60)" font-size="21.2" text-anchor="end" fill="#4D8ACB" font-weight="bold">Negative regulation of</text>
<text transform="translate(909.6,1682.3) rotate(-60)" font-size="21.2" text-anchor="end" fill="#4D8ACB" font-weight="bold">protein phosphorylation</text>
<text transform="translate(957.5,1670.2) rotate(-60)" font-size="23" text-anchor="end" fill="#4D8ACB" font-weight="bold">Dendritic cell differentiation</text>
<text transform="translate(1006.0,1670.4) rotate(-60)" font-size="23" text-anchor="end" fill="#4D8ACB" font-weight="bold">Regulation of neuron death</text>
<text x="1093.5" y="1393.8" font-size="29" font-weight="bold">f</text>
<text x="1573.8" y="1394.7" font-size="27.1" text-anchor="middle">KEGG pathway enrichment</text>
<line x1="1491.5" y1="1417.5" x2="1491.5" y2="1971.0" stroke="#A0A0A0" stroke-width="1.4"/>
<line x1="1518.1" y1="1417.5" x2="1518.1" y2="1971.0" stroke="#A0A0A0" stroke-width="1.4"/>
<line x1="1544.7" y1="1417.5" x2="1544.7" y2="1971.0" stroke="#A0A0A0" stroke-width="1.4"/>
<line x1="1571.4" y1="1417.5" x2="1571.4" y2="1971.0" stroke="#A0A0A0" stroke-width="1.4"/>
<line x1="1598.0" y1="1417.5" x2="1598.0" y2="1971.0" stroke="#A0A0A0" stroke-width="1.4"/>
<line x1="1624.6" y1="1417.5" x2="1624.6" y2="1971.0" stroke="#A0A0A0" stroke-width="1.4"/>
<line x1="1651.2" y1="1417.5" x2="1651.2" y2="1971.0" stroke="#A0A0A0" stroke-width="1.4"/>
<line x1="1677.8" y1="1417.5" x2="1677.8" y2="1971.0" stroke="#A0A0A0" stroke-width="1.4"/>
<line x1="1465.0" y1="1470.5" x2="1698.0" y2="1470.5" stroke="#A0A0A0" stroke-width="1.4"/>
<line x1="1465.0" y1="1515.2" x2="1698.0" y2="1515.2" stroke="#A0A0A0" stroke-width="1.4"/>
<line x1="1465.0" y1="1560.0" x2="1698.0" y2="1560.0" stroke="#A0A0A0" stroke-width="1.4"/>
<line x1="1465.0" y1="1604.8" x2="1698.0" y2="1604.8" stroke="#A0A0A0" stroke-width="1.4"/>
<line x1="1465.0" y1="1649.5" x2="1698.0" y2="1649.5" stroke="#A0A0A0" stroke-width="1.4"/>
<line x1="1465.0" y1="1694.3" x2="1698.0" y2="1694.3" stroke="#A0A0A0" stroke-width="1.4"/>
<line x1="1465.0" y1="1739.1" x2="1698.0" y2="1739.1" stroke="#A0A0A0" stroke-width="1.4"/>
<line x1="1465.0" y1="1783.9" x2="1698.0" y2="1783.9" stroke="#A0A0A0" stroke-width="1.4"/>
<line x1="1465.0" y1="1828.6" x2="1698.0" y2="1828.6" stroke="#A0A0A0" stroke-width="1.4"/>
<line x1="1465.0" y1="1873.4" x2="1698.0" y2="1873.4" stroke="#A0A0A0" stroke-width="1.4"/>
<line x1="1465.0" y1="1918.2" x2="1698.0" y2="1918.2" stroke="#A0A0A0" stroke-width="1.4"/>
<rect x="1464.6" y="1416.6" width="234.3" height="555.2" fill="none" stroke="#333" stroke-width="2"/>
<line x1="1458.1" y1="1470.5" x2="1464.6" y2="1470.5" stroke="#333" stroke-width="2"/>
<line x1="1458.1" y1="1515.2" x2="1464.6" y2="1515.2" stroke="#333" stroke-width="2"/>
<line x1="1458.1" y1="1560.0" x2="1464.6" y2="1560.0" stroke="#333" stroke-width="2"/>
<line x1="1458.1" y1="1604.8" x2="1464.6" y2="1604.8" stroke="#333" stroke-width="2"/>
<line x1="1458.1" y1="1649.5" x2="1464.6" y2="1649.5" stroke="#333" stroke-width="2"/>
<line x1="1458.1" y1="1694.3" x2="1464.6" y2="1694.3" stroke="#333" stroke-width="2"/>
<line x1="1458.1" y1="1739.1" x2="1464.6" y2="1739.1" stroke="#333" stroke-width="2"/>
<line x1="1458.1" y1="1783.9" x2="1464.6" y2="1783.9" stroke="#333" stroke-width="2"/>
<line x1="1458.1" y1="1828.6" x2="1464.6" y2="1828.6" stroke="#333" stroke-width="2"/>
<line x1="1458.1" y1="1873.4" x2="1464.6" y2="1873.4" stroke="#333" stroke-width="2"/>
<line x1="1458.1" y1="1918.2" x2="1464.6" y2="1918.2" stroke="#333" stroke-width="2"/>
<line x1="1491.3" y1="1971.8" x2="1491.3" y2="1976.4" stroke="#333" stroke-width="2"/>
<line x1="1597.7" y1="1971.8" x2="1597.7" y2="1976.4" stroke="#333" stroke-width="2"/>
<line x1="1698.1" y1="1971.8" x2="1698.1" y2="1976.4" stroke="#333" stroke-width="2"/>
<text x="1478.6" y="1997.5" font-size="22.5" text-anchor="middle">0.2</text>
<text x="1596.9" y="1997.5" font-size="22.5" text-anchor="middle">0.4</text>
<text x="1684.2" y="1997.5" font-size="22.5" text-anchor="middle">0.6</text>
<text x="1603.0" y="2024.0" font-size="23.4" text-anchor="middle">Rich factor</text>
<text x="1449.1" y="1476.2" font-size="23.1" text-anchor="end" fill="#E4007F">Calcium signaling pathway</text>
<text x="1449.1" y="1521.6" font-size="23.1" text-anchor="end" fill="#E4007F">Wnt signaling pathway</text>
<text x="1445.4" y="1565.6" font-size="23.1" text-anchor="end" fill="#E4007F">Ppar signaling pathway</text>
<text x="1449.1" y="1609.6" font-size="23.1" text-anchor="end" fill="#E4007F">Insulin signaling pathway</text>
<text x="1451.2" y="1653.6" font-size="23.1" text-anchor="end" fill="#009944">Metabolic pathways</text>
<text x="1451.2" y="1689.2" font-size="23.1" text-anchor="end" fill="#009944">Protein processing in</text>
<text x="1452.2" y="1706.6" font-size="23.1" text-anchor="end" fill="#009944">endoplasmic reticulum</text>
<text x="1450.8" y="1745.1" font-size="23.1" text-anchor="end" fill="#009944">Purine metabolism</text>
<text x="1449.7" y="1791.1" font-size="23.1" text-anchor="end" fill="#009944">Biosynthesis of cofactors</text>
<text x="1451.2" y="1837.2" font-size="23.1" text-anchor="end" fill="#7E318E">Cell cycle</text>
<text x="1450.8" y="1878.5" font-size="23.1" text-anchor="end" fill="#7E318E">Apoptosis</text>
<text x="1450.1" y="1925.1" font-size="23.1" text-anchor="end" fill="#7E318E">Cellular senescence</text>
<circle cx="1498.8" cy="1468.8" r="7.0" fill="#8C86D4"/>
<circle cx="1498.8" cy="1514.3" r="6.6" fill="#2020F2"/>
<circle cx="1572" cy="1559.4" r="6.6" fill="#8FC49A"/>
<circle cx="1576.3" cy="1602.5" r="6.8" fill="#8CD690"/>
<circle cx="1495.2" cy="1646" r="13.7" fill="#E8962E"/>
<circle cx="1651.2" cy="1694.1" r="6.8" fill="#F0642A"/>
<circle cx="1645.6" cy="1738.5" r="6.8" fill="#E2A024"/>
<circle cx="1565.5" cy="1784.3" r="6.6" fill="#90B89C"/>
<circle cx="1665.8" cy="1828.7" r="7.0" fill="#F03232"/>
<circle cx="1654.7" cy="1871.1" r="7.0" fill="#E8A424"/>
<circle cx="1515.2" cy="1918.5" r="6.6" fill="#6A5CEA"/>
<text x="1709.0" y="1461.9" font-size="24.9">Class</text>
<text x="1708.6" y="1499.8" font-size="23.2" fill="#E4007F">Signal transduction</text>
<text x="1708.6" y="1534.6" font-size="23.2" fill="#009944">Metabolic Processes</text>
<text x="1708.6" y="1566.9" font-size="23.2" fill="#7E318E">Cell growth and death</text>
<text x="1727.5" y="1664.5" font-size="24.4">Count</text>
<circle cx="1741.8" cy="1696.4" r="8" fill="#333"/>
<text x="1772.0" y="1707.0" font-size="21.5">10</text>
<circle cx="1741.8" cy="1725.6" r="10.2" fill="#333"/>
<text x="1772.0" y="1735.9" font-size="21.5">20</text>
<circle cx="1741.8" cy="1754.9" r="12.7" fill="#333"/>
<text x="1772.0" y="1765.7" font-size="21.5">30</text>
<text x="1727.5" y="1844.9" font-size="24.4">pvalue</text>
<defs><linearGradient id="pvg" x1="0" y1="0" x2="0" y2="1"><stop offset="0" stop-color="#2000FF"/><stop offset="0.12" stop-color="#5A4CE4"/><stop offset="0.27" stop-color="#7A84AE"/><stop offset="0.37" stop-color="#72A482"/><stop offset="0.45" stop-color="#3CE648"/><stop offset="0.5" stop-color="#00FF00"/><stop offset="0.62" stop-color="#84D800"/><stop offset="0.72" stop-color="#C4B000"/><stop offset="0.84" stop-color="#E68000"/><stop offset="1" stop-color="#FF2800"/></linearGradient></defs>
<rect x="1731.8" y="1874.8" width="24.2" height="116.0" fill="url(#pvg)"/>
<line x1="1751.0" y1="1881.3" x2="1756.0" y2="1881.3" stroke="#fff" stroke-width="1"/>
<line x1="1751.0" y1="1900.3" x2="1756.0" y2="1900.3" stroke="#fff" stroke-width="1"/>
<line x1="1751.0" y1="1931.6" x2="1756.0" y2="1931.6" stroke="#fff" stroke-width="1"/>
<line x1="1751.0" y1="1962.7" x2="1756.0" y2="1962.7" stroke="#fff" stroke-width="1"/>
<text x="1764.0" y="1887.3" font-size="21.3">0.05</text>
<text x="1764.0" y="1936.5" font-size="21.3">0.03</text>
<text x="1764.0" y="1992.4" font-size="21.3">0.01</text>
</svg>
</body></html>
